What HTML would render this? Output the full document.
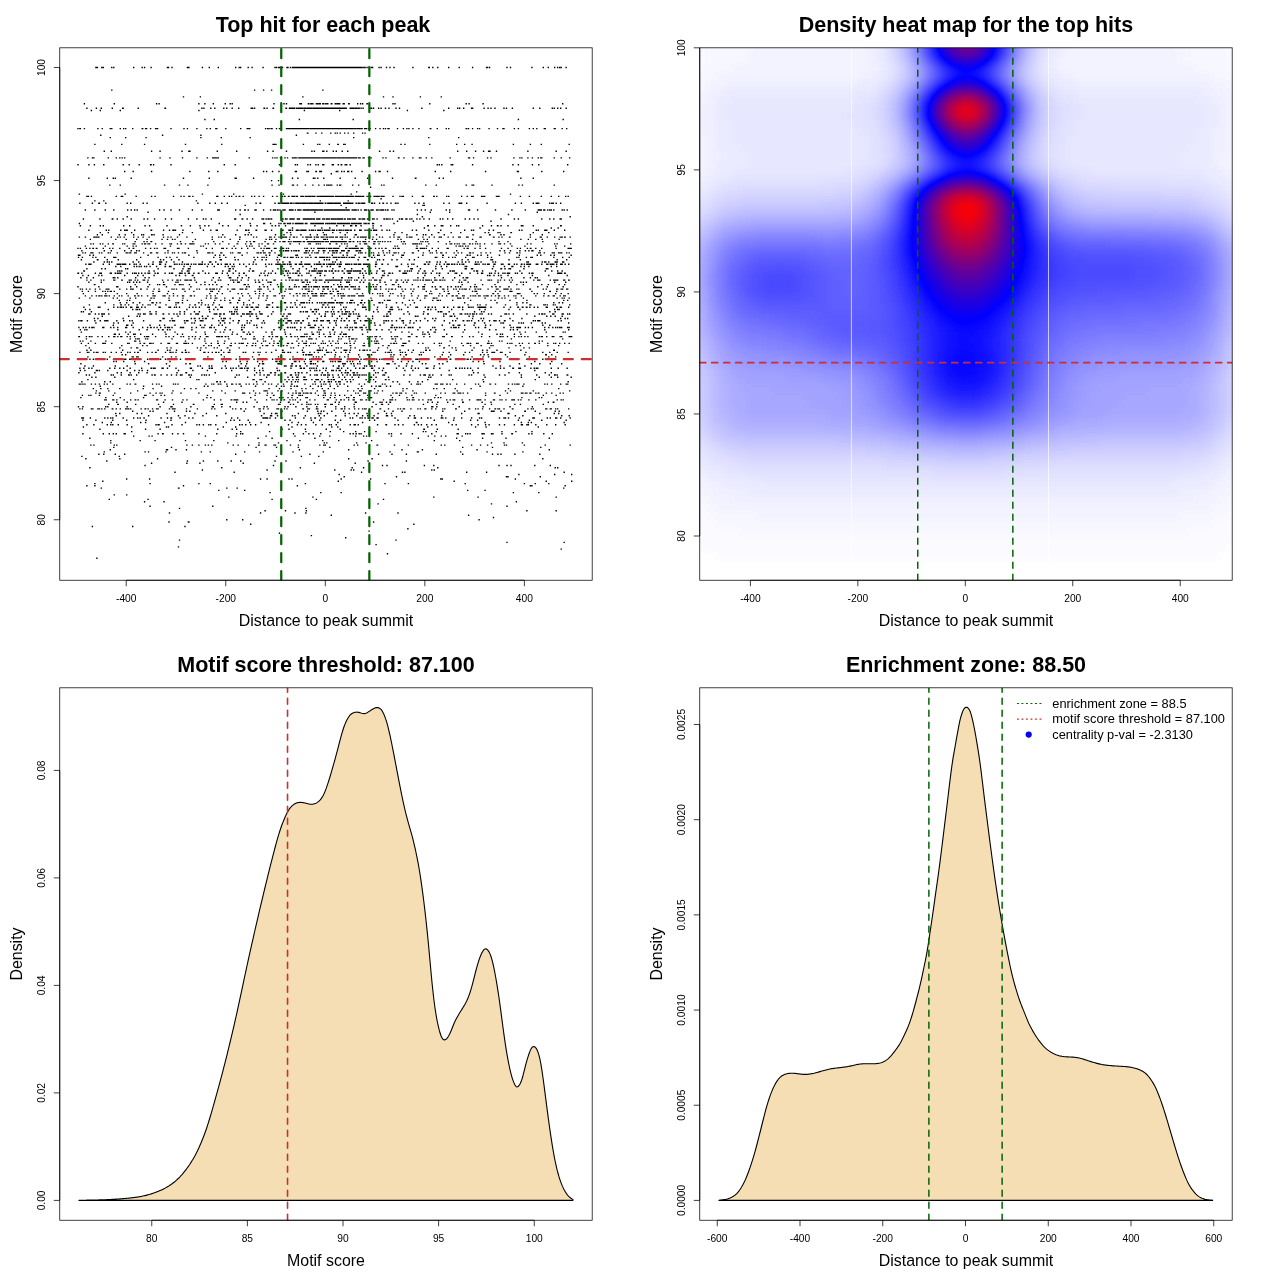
<!DOCTYPE html>
<html><head><meta charset="utf-8"><title>Motif enrichment</title>
<style>
html,body{margin:0;padding:0;background:#fff}
svg{display:block}
text{font-family:"Liberation Sans",sans-serif;fill:#000;opacity:.999}
.t{font-size:11px}
.l{font-size:15.94px}
.m{font-size:21.5px;font-weight:bold}
.g{font-size:12.3px}
</style></head><body>
<svg width="1280" height="1280" viewBox="0 0 1280 1280">
<rect width="1280" height="1280" fill="#fff"/>

<path d="M95.2 67.5h1.38M96.2 67.5h1.38M96.7 67.5h1.38M101.1 67.5h1.38M102.6 67.5h1.38M111.1 67.5h1.38M113.1 67.5h1.38M133 67.5h1.38M141.5 67.5h1.38M143.9 67.5h1.38M150.4 67.5h1.38M166.8 67.5h1.38M167.8 67.5h1.38M171.3 67.5h1.38M186.7 67.5h1.38M187.7 67.5h1.38M188.2 67.5h1.38M201.7 67.5h1.38M208.6 67.5h1.38M217.6 67.5h1.38M235 67.5h1.38M238.5 67.5h1.38M240 67.5h1.38M247.5 67.5h1.38M251.4 67.5h1.38M262.4 67.5h1.38M274.3 67.5h1.38M275.8 67.5h1.38M277.8 67.5h1.38M278.8 67.5h1.38M279.8 67.5h1.38M280.8 67.5h1.38M281.8 67.5h1.38M286.3 67.5h1.38M286.8 67.5h1.38M287.3 67.5h1.38M289.8 67.5h1.38M291.8 67.5h1.38M292.8 67.5h1.38M293.3 67.5h1.38M294.3 67.5h1.38M295.2 67.5h1.38M295.7 67.5h1.38M296.2 67.5h1.38M296.7 67.5h1.38M297.7 67.5h1.38M298.2 67.5h1.38M298.7 67.5h1.38M299.2 67.5h1.38M299.7 67.5h1.38M300.2 67.5h1.38M301.2 67.5h1.38M301.7 67.5h1.38M302.2 67.5h1.38M302.7 67.5h1.38M303.2 67.5h1.38M303.7 67.5h1.38M304.2 67.5h1.38M304.7 67.5h1.38M305.2 67.5h1.38M305.7 67.5h1.38M306.2 67.5h1.38M307.2 67.5h1.38M307.7 67.5h1.38M308.2 67.5h1.38M308.7 67.5h1.38M309.2 67.5h1.38M310.2 67.5h1.38M310.7 67.5h1.38M311.2 67.5h1.38M311.7 67.5h1.38M312.2 67.5h1.38M312.7 67.5h1.38M313.2 67.5h1.38M314.2 67.5h1.38M314.7 67.5h1.38M315.2 67.5h1.38M315.7 67.5h1.38M316.1 67.5h1.38M316.6 67.5h1.38M317.1 67.5h1.38M317.6 67.5h1.38M318.1 67.5h1.38M318.6 67.5h1.38M319.1 67.5h1.38M319.6 67.5h1.38M320.1 67.5h1.38M320.6 67.5h1.38M321.1 67.5h1.38M321.6 67.5h1.38M322.1 67.5h1.38M322.6 67.5h1.38M323.1 67.5h1.38M323.6 67.5h1.38M324.1 67.5h1.38M324.6 67.5h1.38M325.1 67.5h1.38M325.6 67.5h1.38M326.1 67.5h1.38M326.6 67.5h1.38M327.1 67.5h1.38M327.6 67.5h1.38M328.1 67.5h1.38M328.6 67.5h1.38M329.1 67.5h1.38M329.6 67.5h1.38M330.1 67.5h1.38M330.6 67.5h1.38M331.1 67.5h1.38M331.6 67.5h1.38M332.1 67.5h1.38M332.6 67.5h1.38M333.1 67.5h1.38M333.6 67.5h1.38M334.1 67.5h1.38M334.6 67.5h1.38M335.1 67.5h1.38M335.6 67.5h1.38M336.1 67.5h1.38M336.6 67.5h1.38M337.1 67.5h1.38M338.5 67.5h1.38M339 67.5h1.38M339.5 67.5h1.38M340 67.5h1.38M340.5 67.5h1.38M341 67.5h1.38M341.5 67.5h1.38M342 67.5h1.38M342.5 67.5h1.38M343.5 67.5h1.38M344 67.5h1.38M344.5 67.5h1.38M345 67.5h1.38M345.5 67.5h1.38M346 67.5h1.38M346.5 67.5h1.38M347 67.5h1.38M347.5 67.5h1.38M348 67.5h1.38M348.5 67.5h1.38M349.5 67.5h1.38M350 67.5h1.38M350.5 67.5h1.38M351 67.5h1.38M352 67.5h1.38M352.5 67.5h1.38M353 67.5h1.38M353.5 67.5h1.38M354 67.5h1.38M354.5 67.5h1.38M355 67.5h1.38M355.5 67.5h1.38M356 67.5h1.38M356.5 67.5h1.38M357 67.5h1.38M357.5 67.5h1.38M358 67.5h1.38M358.5 67.5h1.38M359.9 67.5h1.38M360.9 67.5h1.38M362.4 67.5h1.38M363.9 67.5h1.38M364.4 67.5h1.38M366.4 67.5h1.38M368.4 67.5h1.38M368.9 67.5h1.38M370.9 67.5h1.38M371.4 67.5h1.38M371.9 67.5h1.38M378.4 67.5h1.38M380.4 67.5h1.38M385.8 67.5h1.38M389.3 67.5h1.38M393.3 67.5h1.38M412.2 67.5h1.38M428.1 67.5h1.38M428.6 67.5h1.38M432.1 67.5h1.38M437.1 67.5h1.38M448 67.5h1.38M458.5 67.5h1.38M471.9 67.5h1.38M485.9 67.5h1.38M486.9 67.5h1.38M488.9 67.5h1.38M506.3 67.5h1.38M509.8 67.5h1.38M531.2 67.5h1.38M542.6 67.5h1.38M547.6 67.5h1.38M554 67.5h1.38M557 67.5h1.38M559 67.5h1.38M560.5 67.5h1.38M565.5 67.5h1.38M111.1 90.1h1.38M253.9 90.1h1.38M262.9 90.1h1.38M270.9 90.1h1.38M322.1 90.1h1.38M182.8 96.9h1.38M199.7 96.9h1.38M302.2 96.9h1.38M382.8 96.9h1.38M392.3 96.9h1.38M419.7 96.9h1.38M440.6 96.9h1.38M83.7 103.7h1.38M113.6 103.7h1.38M155.9 103.7h1.38M158.4 103.7h1.38M198.2 103.7h1.38M204.2 103.7h1.38M212.6 103.7h1.38M224.6 103.7h1.38M229.5 103.7h1.38M231.5 103.7h1.38M273.3 103.7h1.38M283.3 103.7h1.38M285.8 103.7h1.38M299.2 103.7h1.38M300.2 103.7h1.38M300.7 103.7h1.38M307.7 103.7h1.38M308.2 103.7h1.38M310.2 103.7h1.38M310.7 103.7h1.38M312.2 103.7h1.38M315.7 103.7h1.38M316.6 103.7h1.38M318.1 103.7h1.38M319.1 103.7h1.38M319.6 103.7h1.38M322.1 103.7h1.38M323.1 103.7h1.38M325.1 103.7h1.38M326.6 103.7h1.38M327.1 103.7h1.38M330.6 103.7h1.38M331.1 103.7h1.38M334.6 103.7h1.38M335.1 103.7h1.38M336.6 103.7h1.38M338 103.7h1.38M338.5 103.7h1.38M339 103.7h1.38M342.5 103.7h1.38M343.5 103.7h1.38M348 103.7h1.38M348.5 103.7h1.38M357 103.7h1.38M359.9 103.7h1.38M361.9 103.7h1.38M366.4 103.7h1.38M366.9 103.7h1.38M392.3 103.7h1.38M394.3 103.7h1.38M429.1 103.7h1.38M465.5 103.7h1.38M468.4 103.7h1.38M482.4 103.7h1.38M562 103.7h1.38M86.2 108.2h1.38M95.7 108.2h1.38M100.6 108.2h1.38M111.6 108.2h1.38M122 108.2h1.38M122.5 108.2h1.38M137.5 108.2h1.38M164.4 108.2h1.38M164.8 108.2h1.38M201.2 108.2h1.38M203.2 108.2h1.38M210.1 108.2h1.38M214.1 108.2h1.38M223.1 108.2h1.38M226.1 108.2h1.38M231.5 108.2h1.38M238 108.2h1.38M250.5 108.2h1.38M251.9 108.2h1.38M253.9 108.2h1.38M263.4 108.2h1.38M263.9 108.2h1.38M266.4 108.2h1.38M272.4 108.2h1.38M272.8 108.2h1.38M285.3 108.2h1.38M285.8 108.2h1.38M288.8 108.2h1.38M289.3 108.2h1.38M290.3 108.2h1.38M290.8 108.2h1.38M291.8 108.2h1.38M292.8 108.2h1.38M293.8 108.2h1.38M295.7 108.2h1.38M297.2 108.2h1.38M298.2 108.2h1.38M299.2 108.2h1.38M299.7 108.2h1.38M300.7 108.2h1.38M301.7 108.2h1.38M303.2 108.2h1.38M303.7 108.2h1.38M304.7 108.2h1.38M306.2 108.2h1.38M307.2 108.2h1.38M308.2 108.2h1.38M309.2 108.2h1.38M309.7 108.2h1.38M310.7 108.2h1.38M312.2 108.2h1.38M312.7 108.2h1.38M313.2 108.2h1.38M314.2 108.2h1.38M314.7 108.2h1.38M315.2 108.2h1.38M315.7 108.2h1.38M316.6 108.2h1.38M317.1 108.2h1.38M317.6 108.2h1.38M318.6 108.2h1.38M319.1 108.2h1.38M319.6 108.2h1.38M320.1 108.2h1.38M320.6 108.2h1.38M321.1 108.2h1.38M321.6 108.2h1.38M322.1 108.2h1.38M322.6 108.2h1.38M323.1 108.2h1.38M323.6 108.2h1.38M324.1 108.2h1.38M324.6 108.2h1.38M325.1 108.2h1.38M325.6 108.2h1.38M326.1 108.2h1.38M326.6 108.2h1.38M327.1 108.2h1.38M328.1 108.2h1.38M328.6 108.2h1.38M329.1 108.2h1.38M329.6 108.2h1.38M330.1 108.2h1.38M330.6 108.2h1.38M331.1 108.2h1.38M331.6 108.2h1.38M332.1 108.2h1.38M332.6 108.2h1.38M333.1 108.2h1.38M333.6 108.2h1.38M334.1 108.2h1.38M334.6 108.2h1.38M335.1 108.2h1.38M335.6 108.2h1.38M336.1 108.2h1.38M336.6 108.2h1.38M337.1 108.2h1.38M338 108.2h1.38M338.5 108.2h1.38M339 108.2h1.38M339.5 108.2h1.38M340 108.2h1.38M341 108.2h1.38M341.5 108.2h1.38M342 108.2h1.38M342.5 108.2h1.38M343 108.2h1.38M343.5 108.2h1.38M344 108.2h1.38M345 108.2h1.38M345.5 108.2h1.38M349.5 108.2h1.38M350 108.2h1.38M351 108.2h1.38M351.5 108.2h1.38M352 108.2h1.38M352.5 108.2h1.38M353 108.2h1.38M354.5 108.2h1.38M355.5 108.2h1.38M356 108.2h1.38M357.5 108.2h1.38M358 108.2h1.38M358.5 108.2h1.38M360.4 108.2h1.38M362.4 108.2h1.38M369.4 108.2h1.38M370.9 108.2h1.38M372.9 108.2h1.38M377.9 108.2h1.38M380.4 108.2h1.38M384.8 108.2h1.38M388.3 108.2h1.38M395.3 108.2h1.38M398.8 108.2h1.38M421.2 108.2h1.38M448 108.2h1.38M457 108.2h1.38M459 108.2h1.38M463 108.2h1.38M470.9 108.2h1.38M471.9 108.2h1.38M483.4 108.2h1.38M487.4 108.2h1.38M490.3 108.2h1.38M494.3 108.2h1.38M503.3 108.2h1.38M505.8 108.2h1.38M511.7 108.2h1.38M532.6 108.2h1.38M539.1 108.2h1.38M551.6 108.2h1.38M553.6 108.2h1.38M557 108.2h1.38M560 108.2h1.38M565.5 108.2h1.38M90.7 110.5h1.38M99.6 110.5h1.38M119.6 110.5h1.38M198.2 110.5h1.38M303.7 110.5h1.38M339 110.5h1.38M406.7 110.5h1.38M443.1 110.5h1.38M204.2 119.5h1.38M213.6 119.5h1.38M298.7 119.5h1.38M352.5 119.5h1.38M517.7 119.5h1.38M562.5 119.5h1.38M77.3 128.6h1.38M79.2 128.6h1.38M79.7 128.6h1.38M83.7 128.6h1.38M97.2 128.6h1.38M101.6 128.6h1.38M109.6 128.6h1.38M111.1 128.6h1.38M119.6 128.6h1.38M123 128.6h1.38M125 128.6h1.38M132 128.6h1.38M141.5 128.6h1.38M142 128.6h1.38M144.9 128.6h1.38M145.9 128.6h1.38M149.9 128.6h1.38M154.9 128.6h1.38M155.4 128.6h1.38M156.9 128.6h1.38M170.3 128.6h1.38M183.3 128.6h1.38M186.7 128.6h1.38M196.2 128.6h1.38M206.2 128.6h1.38M209.6 128.6h1.38M215.1 128.6h1.38M216.1 128.6h1.38M225.1 128.6h1.38M240 128.6h1.38M246.5 128.6h1.38M247.5 128.6h1.38M249 128.6h1.38M264.9 128.6h1.38M266.9 128.6h1.38M268.4 128.6h1.38M270.4 128.6h1.38M271.4 128.6h1.38M275.8 128.6h1.38M278.8 128.6h1.38M279.3 128.6h1.38M280.3 128.6h1.38M285.8 128.6h1.38M286.3 128.6h1.38M286.8 128.6h1.38M287.3 128.6h1.38M288.3 128.6h1.38M288.8 128.6h1.38M289.8 128.6h1.38M290.8 128.6h1.38M291.3 128.6h1.38M292.3 128.6h1.38M292.8 128.6h1.38M293.3 128.6h1.38M293.8 128.6h1.38M294.3 128.6h1.38M294.7 128.6h1.38M295.7 128.6h1.38M296.2 128.6h1.38M296.7 128.6h1.38M297.2 128.6h1.38M297.7 128.6h1.38M298.7 128.6h1.38M299.2 128.6h1.38M299.7 128.6h1.38M300.2 128.6h1.38M300.7 128.6h1.38M301.2 128.6h1.38M301.7 128.6h1.38M302.2 128.6h1.38M302.7 128.6h1.38M303.2 128.6h1.38M303.7 128.6h1.38M304.2 128.6h1.38M305.2 128.6h1.38M305.7 128.6h1.38M306.2 128.6h1.38M306.7 128.6h1.38M307.2 128.6h1.38M307.7 128.6h1.38M308.2 128.6h1.38M309.7 128.6h1.38M310.2 128.6h1.38M310.7 128.6h1.38M311.2 128.6h1.38M311.7 128.6h1.38M312.2 128.6h1.38M312.7 128.6h1.38M313.7 128.6h1.38M314.2 128.6h1.38M314.7 128.6h1.38M315.2 128.6h1.38M315.7 128.6h1.38M316.1 128.6h1.38M316.6 128.6h1.38M317.1 128.6h1.38M317.6 128.6h1.38M318.1 128.6h1.38M319.1 128.6h1.38M319.6 128.6h1.38M320.1 128.6h1.38M320.6 128.6h1.38M321.1 128.6h1.38M321.6 128.6h1.38M322.1 128.6h1.38M322.6 128.6h1.38M323.1 128.6h1.38M323.6 128.6h1.38M324.1 128.6h1.38M324.6 128.6h1.38M325.1 128.6h1.38M325.6 128.6h1.38M326.1 128.6h1.38M326.6 128.6h1.38M327.1 128.6h1.38M327.6 128.6h1.38M328.1 128.6h1.38M328.6 128.6h1.38M329.1 128.6h1.38M329.6 128.6h1.38M330.1 128.6h1.38M330.6 128.6h1.38M331.1 128.6h1.38M331.6 128.6h1.38M332.1 128.6h1.38M332.6 128.6h1.38M333.1 128.6h1.38M333.6 128.6h1.38M334.1 128.6h1.38M334.6 128.6h1.38M335.1 128.6h1.38M335.6 128.6h1.38M336.1 128.6h1.38M336.6 128.6h1.38M337.1 128.6h1.38M337.6 128.6h1.38M338 128.6h1.38M338.5 128.6h1.38M339 128.6h1.38M339.5 128.6h1.38M340 128.6h1.38M340.5 128.6h1.38M341 128.6h1.38M341.5 128.6h1.38M342.5 128.6h1.38M343 128.6h1.38M343.5 128.6h1.38M344 128.6h1.38M344.5 128.6h1.38M345 128.6h1.38M345.5 128.6h1.38M346 128.6h1.38M346.5 128.6h1.38M347 128.6h1.38M347.5 128.6h1.38M348 128.6h1.38M349 128.6h1.38M349.5 128.6h1.38M350.5 128.6h1.38M351 128.6h1.38M351.5 128.6h1.38M352 128.6h1.38M353.5 128.6h1.38M354 128.6h1.38M354.5 128.6h1.38M355 128.6h1.38M355.5 128.6h1.38M357 128.6h1.38M357.5 128.6h1.38M358 128.6h1.38M358.5 128.6h1.38M359.4 128.6h1.38M360.9 128.6h1.38M361.4 128.6h1.38M363.9 128.6h1.38M364.9 128.6h1.38M365.9 128.6h1.38M367.9 128.6h1.38M368.4 128.6h1.38M369.4 128.6h1.38M374.9 128.6h1.38M379.4 128.6h1.38M382.8 128.6h1.38M384.8 128.6h1.38M387.3 128.6h1.38M388.3 128.6h1.38M396.8 128.6h1.38M402.7 128.6h1.38M406.2 128.6h1.38M408.2 128.6h1.38M412.2 128.6h1.38M418.2 128.6h1.38M429.6 128.6h1.38M430.1 128.6h1.38M436.6 128.6h1.38M445.6 128.6h1.38M448 128.6h1.38M465.5 128.6h1.38M466 128.6h1.38M467.9 128.6h1.38M471.9 128.6h1.38M476.9 128.6h1.38M478.9 128.6h1.38M488.4 128.6h1.38M496.8 128.6h1.38M502.3 128.6h1.38M503.3 128.6h1.38M513.7 128.6h1.38M517.7 128.6h1.38M528.7 128.6h1.38M532.6 128.6h1.38M536.1 128.6h1.38M543.6 128.6h1.38M544.6 128.6h1.38M553.6 128.6h1.38M554.5 128.6h1.38M561.5 128.6h1.38M566 128.6h1.38M306.7 133.1h1.38M307.2 133.1h1.38M315.2 133.1h1.38M321.1 133.1h1.38M330.1 133.1h1.38M334.6 133.1h1.38M336.6 133.1h1.38M339.5 133.1h1.38M344 133.1h1.38M347.5 133.1h1.38M353 133.1h1.38M361.9 133.1h1.38M364.4 133.1h1.38M100.1 135.3h1.38M161.9 135.3h1.38M200.2 135.3h1.38M295.7 135.3h1.38M109.6 137.6h1.38M125 137.6h1.38M145.4 137.6h1.38M200.2 137.6h1.38M220.6 137.6h1.38M249.5 137.6h1.38M353 137.6h1.38M428.1 137.6h1.38M458 137.6h1.38M94.2 144.4h1.38M121.1 144.4h1.38M143.9 144.4h1.38M184.8 144.4h1.38M221.1 144.4h1.38M272.4 144.4h1.38M273.8 144.4h1.38M275.3 144.4h1.38M302.7 144.4h1.38M317.1 144.4h1.38M319.1 144.4h1.38M328.6 144.4h1.38M337.1 144.4h1.38M337.6 144.4h1.38M343 144.4h1.38M344.5 144.4h1.38M368.9 144.4h1.38M400.3 144.4h1.38M404.2 144.4h1.38M429.1 144.4h1.38M456 144.4h1.38M464 144.4h1.38M471.4 144.4h1.38M512.7 144.4h1.38M529.7 144.4h1.38M540.6 144.4h1.38M568.5 144.4h1.38M103.6 151.2h1.38M110.6 151.2h1.38M150.9 151.2h1.38M159.4 151.2h1.38M181.3 151.2h1.38M188.2 151.2h1.38M189.2 151.2h1.38M216.6 151.2h1.38M236 151.2h1.38M266.9 151.2h1.38M272.4 151.2h1.38M285.8 151.2h1.38M311.2 151.2h1.38M313.7 151.2h1.38M322.1 151.2h1.38M323.1 151.2h1.38M326.1 151.2h1.38M332.6 151.2h1.38M335.6 151.2h1.38M341.5 151.2h1.38M347 151.2h1.38M378.9 151.2h1.38M389.3 151.2h1.38M392.8 151.2h1.38M457 151.2h1.38M466 151.2h1.38M474.9 151.2h1.38M482.9 151.2h1.38M487.9 151.2h1.38M489.3 151.2h1.38M495.8 151.2h1.38M527.2 151.2h1.38M555.5 151.2h1.38M565.5 151.2h1.38M87.2 157.9h1.38M91.7 157.9h1.38M93.2 157.9h1.38M107.6 157.9h1.38M115.6 157.9h1.38M119.1 157.9h1.38M121.5 157.9h1.38M124 157.9h1.38M159.4 157.9h1.38M169.3 157.9h1.38M181.8 157.9h1.38M196.2 157.9h1.38M206.7 157.9h1.38M212.1 157.9h1.38M213.1 157.9h1.38M214.6 157.9h1.38M216.1 157.9h1.38M217.6 157.9h1.38M248.5 157.9h1.38M271.9 157.9h1.38M274.3 157.9h1.38M276.3 157.9h1.38M279.8 157.9h1.38M280.8 157.9h1.38M284.3 157.9h1.38M286.8 157.9h1.38M291.8 157.9h1.38M293.3 157.9h1.38M293.8 157.9h1.38M294.7 157.9h1.38M296.2 157.9h1.38M298.2 157.9h1.38M298.7 157.9h1.38M299.7 157.9h1.38M300.2 157.9h1.38M300.7 157.9h1.38M301.2 157.9h1.38M302.2 157.9h1.38M302.7 157.9h1.38M303.2 157.9h1.38M303.7 157.9h1.38M304.2 157.9h1.38M304.7 157.9h1.38M305.2 157.9h1.38M305.7 157.9h1.38M306.2 157.9h1.38M306.7 157.9h1.38M307.2 157.9h1.38M307.7 157.9h1.38M308.7 157.9h1.38M309.7 157.9h1.38M310.2 157.9h1.38M310.7 157.9h1.38M311.7 157.9h1.38M312.7 157.9h1.38M313.2 157.9h1.38M313.7 157.9h1.38M314.2 157.9h1.38M314.7 157.9h1.38M315.2 157.9h1.38M316.1 157.9h1.38M316.6 157.9h1.38M317.1 157.9h1.38M318.1 157.9h1.38M318.6 157.9h1.38M319.1 157.9h1.38M319.6 157.9h1.38M321.1 157.9h1.38M321.6 157.9h1.38M322.6 157.9h1.38M323.6 157.9h1.38M324.1 157.9h1.38M324.6 157.9h1.38M325.6 157.9h1.38M326.1 157.9h1.38M326.6 157.9h1.38M327.1 157.9h1.38M328.1 157.9h1.38M328.6 157.9h1.38M329.1 157.9h1.38M329.6 157.9h1.38M330.1 157.9h1.38M331.1 157.9h1.38M331.6 157.9h1.38M332.6 157.9h1.38M333.1 157.9h1.38M333.6 157.9h1.38M334.1 157.9h1.38M334.6 157.9h1.38M335.1 157.9h1.38M336.6 157.9h1.38M337.6 157.9h1.38M338.5 157.9h1.38M339 157.9h1.38M340 157.9h1.38M340.5 157.9h1.38M342 157.9h1.38M342.5 157.9h1.38M343 157.9h1.38M344 157.9h1.38M344.5 157.9h1.38M346 157.9h1.38M346.5 157.9h1.38M347 157.9h1.38M348 157.9h1.38M349 157.9h1.38M350 157.9h1.38M350.5 157.9h1.38M351 157.9h1.38M351.5 157.9h1.38M352 157.9h1.38M352.5 157.9h1.38M353 157.9h1.38M353.5 157.9h1.38M354 157.9h1.38M355 157.9h1.38M355.5 157.9h1.38M356 157.9h1.38M358 157.9h1.38M359.4 157.9h1.38M362.4 157.9h1.38M362.9 157.9h1.38M363.4 157.9h1.38M367.9 157.9h1.38M368.9 157.9h1.38M370.4 157.9h1.38M382.3 157.9h1.38M385.3 157.9h1.38M397.8 157.9h1.38M398.3 157.9h1.38M403.2 157.9h1.38M412.2 157.9h1.38M418.7 157.9h1.38M420.2 157.9h1.38M425.6 157.9h1.38M431.1 157.9h1.38M449.5 157.9h1.38M467.9 157.9h1.38M468.9 157.9h1.38M472.9 157.9h1.38M486.9 157.9h1.38M490.3 157.9h1.38M513.2 157.9h1.38M519.2 157.9h1.38M521.2 157.9h1.38M527.2 157.9h1.38M531.7 157.9h1.38M537.6 157.9h1.38M540.1 157.9h1.38M541.1 157.9h1.38M553.6 157.9h1.38M560.5 157.9h1.38M569 157.9h1.38M77.3 164.7h1.38M88.2 164.7h1.38M93.7 164.7h1.38M103.1 164.7h1.38M122.5 164.7h1.38M128.5 164.7h1.38M138.5 164.7h1.38M149.9 164.7h1.38M150.4 164.7h1.38M152.9 164.7h1.38M170.3 164.7h1.38M223.6 164.7h1.38M234.5 164.7h1.38M278.8 164.7h1.38M294.7 164.7h1.38M296.7 164.7h1.38M307.2 164.7h1.38M309.7 164.7h1.38M315.2 164.7h1.38M317.6 164.7h1.38M322.1 164.7h1.38M323.1 164.7h1.38M331.6 164.7h1.38M332.6 164.7h1.38M337.6 164.7h1.38M340.5 164.7h1.38M341 164.7h1.38M344.5 164.7h1.38M346 164.7h1.38M349.5 164.7h1.38M436.6 164.7h1.38M438.6 164.7h1.38M441.1 164.7h1.38M450.5 164.7h1.38M452 164.7h1.38M471.9 164.7h1.38M512.2 164.7h1.38M517.7 164.7h1.38M531.7 164.7h1.38M538.1 164.7h1.38M567 164.7h1.38M124 171.5h1.38M132.5 171.5h1.38M150.9 171.5h1.38M189.2 171.5h1.38M208.1 171.5h1.38M217.1 171.5h1.38M262.9 171.5h1.38M265.9 171.5h1.38M271.9 171.5h1.38M278.3 171.5h1.38M294.7 171.5h1.38M295.7 171.5h1.38M306.2 171.5h1.38M307.7 171.5h1.38M315.2 171.5h1.38M315.7 171.5h1.38M319.1 171.5h1.38M319.6 171.5h1.38M320.6 171.5h1.38M335.6 171.5h1.38M337.1 171.5h1.38M341 171.5h1.38M343.5 171.5h1.38M347 171.5h1.38M348 171.5h1.38M351 171.5h1.38M361.4 171.5h1.38M374.9 171.5h1.38M378.4 171.5h1.38M379.4 171.5h1.38M386.8 171.5h1.38M434.6 171.5h1.38M450 171.5h1.38M484.9 171.5h1.38M516.7 171.5h1.38M517.7 171.5h1.38M541.1 171.5h1.38M563 171.5h1.38M330.6 173.8h1.38M88.2 178.3h1.38M106.6 178.3h1.38M112.6 178.3h1.38M114.6 178.3h1.38M130.5 178.3h1.38M182.8 178.3h1.38M208.6 178.3h1.38M234.5 178.3h1.38M235.5 178.3h1.38M252.9 178.3h1.38M280.8 178.3h1.38M291.8 178.3h1.38M297.2 178.3h1.38M312.7 178.3h1.38M314.2 178.3h1.38M317.1 178.3h1.38M323.1 178.3h1.38M339.5 178.3h1.38M354.5 178.3h1.38M366.9 178.3h1.38M391.8 178.3h1.38M414.7 178.3h1.38M415.2 178.3h1.38M438.6 178.3h1.38M442.6 178.3h1.38M520.2 178.3h1.38M532.6 178.3h1.38M270.9 180.6h1.38M277.8 180.6h1.38M109.1 185.1h1.38M119.6 185.1h1.38M163.9 185.1h1.38M178.8 185.1h1.38M187.2 185.1h1.38M207.2 185.1h1.38M271.4 185.1h1.38M278.3 185.1h1.38M291.8 185.1h1.38M292.8 185.1h1.38M296.7 185.1h1.38M304.7 185.1h1.38M312.2 185.1h1.38M318.1 185.1h1.38M323.6 185.1h1.38M326.1 185.1h1.38M327.6 185.1h1.38M328.1 185.1h1.38M329.6 185.1h1.38M331.1 185.1h1.38M336.6 185.1h1.38M339 185.1h1.38M340 185.1h1.38M352 185.1h1.38M358 185.1h1.38M380.9 185.1h1.38M383.3 185.1h1.38M425.1 185.1h1.38M435.6 185.1h1.38M465.5 185.1h1.38M471.4 185.1h1.38M472.9 185.1h1.38M491.3 185.1h1.38M518.2 185.1h1.38M521.7 185.1h1.38M553.6 185.1h1.38M369.9 187.3h1.38M356 191.9h1.38M78.7 194.1h1.38M124.5 194.1h1.38M201.7 194.1h1.38M233 194.1h1.38M282.8 194.1h1.38M350.5 194.1h1.38M509.8 194.1h1.38M86.2 196.4h1.38M87.7 196.4h1.38M90.7 196.4h1.38M115.6 196.4h1.38M120.6 196.4h1.38M122 196.4h1.38M135.5 196.4h1.38M150.9 196.4h1.38M154.4 196.4h1.38M172.8 196.4h1.38M180.3 196.4h1.38M183.3 196.4h1.38M188.2 196.4h1.38M188.7 196.4h1.38M189.2 196.4h1.38M192.2 196.4h1.38M216.1 196.4h1.38M217.1 196.4h1.38M223.6 196.4h1.38M228.6 196.4h1.38M231 196.4h1.38M235.5 196.4h1.38M238.5 196.4h1.38M239 196.4h1.38M242.5 196.4h1.38M251 196.4h1.38M253.9 196.4h1.38M258.4 196.4h1.38M262.9 196.4h1.38M271.9 196.4h1.38M276.3 196.4h1.38M281.8 196.4h1.38M283.8 196.4h1.38M284.3 196.4h1.38M287.8 196.4h1.38M288.3 196.4h1.38M291.3 196.4h1.38M292.3 196.4h1.38M292.8 196.4h1.38M293.8 196.4h1.38M295.7 196.4h1.38M296.7 196.4h1.38M300.2 196.4h1.38M300.7 196.4h1.38M301.7 196.4h1.38M302.2 196.4h1.38M302.7 196.4h1.38M304.7 196.4h1.38M305.7 196.4h1.38M306.2 196.4h1.38M307.7 196.4h1.38M308.2 196.4h1.38M308.7 196.4h1.38M309.2 196.4h1.38M309.7 196.4h1.38M310.2 196.4h1.38M311.7 196.4h1.38M312.2 196.4h1.38M312.7 196.4h1.38M313.2 196.4h1.38M314.2 196.4h1.38M316.6 196.4h1.38M317.1 196.4h1.38M317.6 196.4h1.38M319.1 196.4h1.38M320.1 196.4h1.38M321.1 196.4h1.38M321.6 196.4h1.38M322.1 196.4h1.38M322.6 196.4h1.38M323.1 196.4h1.38M323.6 196.4h1.38M324.6 196.4h1.38M325.1 196.4h1.38M325.6 196.4h1.38M326.1 196.4h1.38M326.6 196.4h1.38M327.1 196.4h1.38M327.6 196.4h1.38M328.1 196.4h1.38M328.6 196.4h1.38M329.1 196.4h1.38M329.6 196.4h1.38M330.1 196.4h1.38M330.6 196.4h1.38M331.1 196.4h1.38M331.6 196.4h1.38M332.1 196.4h1.38M332.6 196.4h1.38M334.6 196.4h1.38M335.6 196.4h1.38M336.6 196.4h1.38M337.1 196.4h1.38M337.6 196.4h1.38M339 196.4h1.38M340.5 196.4h1.38M341.5 196.4h1.38M342.5 196.4h1.38M343.5 196.4h1.38M345 196.4h1.38M346 196.4h1.38M346.5 196.4h1.38M347.5 196.4h1.38M348.5 196.4h1.38M349 196.4h1.38M349.5 196.4h1.38M350 196.4h1.38M350.5 196.4h1.38M351 196.4h1.38M351.5 196.4h1.38M352 196.4h1.38M352.5 196.4h1.38M353 196.4h1.38M355 196.4h1.38M355.5 196.4h1.38M356.5 196.4h1.38M357.5 196.4h1.38M358 196.4h1.38M358.5 196.4h1.38M359.9 196.4h1.38M361.4 196.4h1.38M361.9 196.4h1.38M362.4 196.4h1.38M362.9 196.4h1.38M366.4 196.4h1.38M368.4 196.4h1.38M368.9 196.4h1.38M369.4 196.4h1.38M369.9 196.4h1.38M373.4 196.4h1.38M373.9 196.4h1.38M375.4 196.4h1.38M375.9 196.4h1.38M376.9 196.4h1.38M377.4 196.4h1.38M378.4 196.4h1.38M380.4 196.4h1.38M381.3 196.4h1.38M382.8 196.4h1.38M383.3 196.4h1.38M392.3 196.4h1.38M399.3 196.4h1.38M401.3 196.4h1.38M402.7 196.4h1.38M411.7 196.4h1.38M421.7 196.4h1.38M422.7 196.4h1.38M433.1 196.4h1.38M433.6 196.4h1.38M436.1 196.4h1.38M446 196.4h1.38M448 196.4h1.38M461 196.4h1.38M466.5 196.4h1.38M470.9 196.4h1.38M472.4 196.4h1.38M480.9 196.4h1.38M482.4 196.4h1.38M483.9 196.4h1.38M495.8 196.4h1.38M497.3 196.4h1.38M498.3 196.4h1.38M519.7 196.4h1.38M528.7 196.4h1.38M540.6 196.4h1.38M550.6 196.4h1.38M558 196.4h1.38M565 196.4h1.38M567.5 196.4h1.38M380.4 198.7h1.38M94.2 200.9h1.38M103.1 200.9h1.38M195.7 200.9h1.38M319.6 200.9h1.38M347.5 200.9h1.38M79.2 203.2h1.38M91.7 203.2h1.38M98.2 203.2h1.38M98.7 203.2h1.38M105.1 203.2h1.38M126.5 203.2h1.38M130 203.2h1.38M142.5 203.2h1.38M146.4 203.2h1.38M197.2 203.2h1.38M209.1 203.2h1.38M214.6 203.2h1.38M221.1 203.2h1.38M226.6 203.2h1.38M255.4 203.2h1.38M259.4 203.2h1.38M259.9 203.2h1.38M274.3 203.2h1.38M277.8 203.2h1.38M279.3 203.2h1.38M281.3 203.2h1.38M281.8 203.2h1.38M282.3 203.2h1.38M283.3 203.2h1.38M283.8 203.2h1.38M284.3 203.2h1.38M285.3 203.2h1.38M285.8 203.2h1.38M286.8 203.2h1.38M287.8 203.2h1.38M289.8 203.2h1.38M290.8 203.2h1.38M291.3 203.2h1.38M293.3 203.2h1.38M295.2 203.2h1.38M295.7 203.2h1.38M296.2 203.2h1.38M296.7 203.2h1.38M297.7 203.2h1.38M298.2 203.2h1.38M299.7 203.2h1.38M301.2 203.2h1.38M301.7 203.2h1.38M302.7 203.2h1.38M303.2 203.2h1.38M303.7 203.2h1.38M304.7 203.2h1.38M306.2 203.2h1.38M306.7 203.2h1.38M307.2 203.2h1.38M308.7 203.2h1.38M309.2 203.2h1.38M310.2 203.2h1.38M310.7 203.2h1.38M311.7 203.2h1.38M313.2 203.2h1.38M313.7 203.2h1.38M314.2 203.2h1.38M314.7 203.2h1.38M315.7 203.2h1.38M316.1 203.2h1.38M316.6 203.2h1.38M317.1 203.2h1.38M317.6 203.2h1.38M318.1 203.2h1.38M319.1 203.2h1.38M320.1 203.2h1.38M320.6 203.2h1.38M321.6 203.2h1.38M322.1 203.2h1.38M324.6 203.2h1.38M325.1 203.2h1.38M327.1 203.2h1.38M327.6 203.2h1.38M328.1 203.2h1.38M328.6 203.2h1.38M329.6 203.2h1.38M330.1 203.2h1.38M330.6 203.2h1.38M331.1 203.2h1.38M331.6 203.2h1.38M332.1 203.2h1.38M333.6 203.2h1.38M334.1 203.2h1.38M335.1 203.2h1.38M335.6 203.2h1.38M336.1 203.2h1.38M337.1 203.2h1.38M337.6 203.2h1.38M338.5 203.2h1.38M339.5 203.2h1.38M343 203.2h1.38M344 203.2h1.38M344.5 203.2h1.38M345 203.2h1.38M345.5 203.2h1.38M346 203.2h1.38M347 203.2h1.38M347.5 203.2h1.38M348 203.2h1.38M349 203.2h1.38M349.5 203.2h1.38M350 203.2h1.38M350.5 203.2h1.38M352 203.2h1.38M355.5 203.2h1.38M357.5 203.2h1.38M358 203.2h1.38M358.5 203.2h1.38M360.4 203.2h1.38M361.9 203.2h1.38M362.4 203.2h1.38M362.9 203.2h1.38M363.4 203.2h1.38M363.9 203.2h1.38M370.9 203.2h1.38M371.9 203.2h1.38M373.9 203.2h1.38M378.9 203.2h1.38M382.3 203.2h1.38M382.8 203.2h1.38M386.3 203.2h1.38M390.3 203.2h1.38M394.8 203.2h1.38M395.3 203.2h1.38M397.3 203.2h1.38M414.2 203.2h1.38M418.2 203.2h1.38M423.2 203.2h1.38M443.1 203.2h1.38M448.5 203.2h1.38M458.5 203.2h1.38M459 203.2h1.38M460.5 203.2h1.38M461 203.2h1.38M466 203.2h1.38M486.4 203.2h1.38M514.7 203.2h1.38M520.7 203.2h1.38M532.6 203.2h1.38M535.6 203.2h1.38M536.6 203.2h1.38M538.1 203.2h1.38M549.1 203.2h1.38M551.1 203.2h1.38M552.6 203.2h1.38M555.5 203.2h1.38M560 203.2h1.38M244.5 205.4h1.38M340.5 205.4h1.38M422.2 205.4h1.38M423.7 205.4h1.38M345.5 207.7h1.38M84.7 210h1.38M94.2 210h1.38M104.6 210h1.38M113.1 210h1.38M127 210h1.38M130.5 210h1.38M134 210h1.38M136.5 210h1.38M158.9 210h1.38M163.4 210h1.38M170.3 210h1.38M178.8 210h1.38M191.7 210h1.38M201.2 210h1.38M217.1 210h1.38M217.6 210h1.38M218.1 210h1.38M218.6 210h1.38M235 210h1.38M239.5 210h1.38M244 210h1.38M244.5 210h1.38M247.5 210h1.38M254.4 210h1.38M255.4 210h1.38M262.9 210h1.38M269.9 210h1.38M272.8 210h1.38M274.3 210h1.38M274.8 210h1.38M276.8 210h1.38M277.3 210h1.38M279.3 210h1.38M282.3 210h1.38M283.8 210h1.38M284.3 210h1.38M288.8 210h1.38M289.3 210h1.38M289.8 210h1.38M290.8 210h1.38M291.3 210h1.38M291.8 210h1.38M292.3 210h1.38M294.7 210h1.38M297.2 210h1.38M297.7 210h1.38M298.2 210h1.38M298.7 210h1.38M300.2 210h1.38M302.7 210h1.38M303.7 210h1.38M304.7 210h1.38M305.2 210h1.38M305.7 210h1.38M306.2 210h1.38M307.2 210h1.38M308.2 210h1.38M308.7 210h1.38M309.2 210h1.38M310.7 210h1.38M311.2 210h1.38M311.7 210h1.38M312.2 210h1.38M313.2 210h1.38M313.7 210h1.38M314.2 210h1.38M314.7 210h1.38M315.2 210h1.38M315.7 210h1.38M316.6 210h1.38M318.1 210h1.38M319.1 210h1.38M319.6 210h1.38M320.1 210h1.38M320.6 210h1.38M321.1 210h1.38M321.6 210h1.38M323.6 210h1.38M324.6 210h1.38M325.1 210h1.38M325.6 210h1.38M326.1 210h1.38M327.1 210h1.38M327.6 210h1.38M328.1 210h1.38M328.6 210h1.38M329.1 210h1.38M329.6 210h1.38M330.1 210h1.38M331.1 210h1.38M331.6 210h1.38M332.1 210h1.38M333.1 210h1.38M333.6 210h1.38M334.1 210h1.38M334.6 210h1.38M335.6 210h1.38M336.1 210h1.38M336.6 210h1.38M337.1 210h1.38M337.6 210h1.38M338.5 210h1.38M339 210h1.38M339.5 210h1.38M340.5 210h1.38M341.5 210h1.38M342 210h1.38M342.5 210h1.38M343 210h1.38M343.5 210h1.38M344.5 210h1.38M346 210h1.38M347 210h1.38M347.5 210h1.38M348 210h1.38M348.5 210h1.38M351.5 210h1.38M352.5 210h1.38M354 210h1.38M354.5 210h1.38M355 210h1.38M355.5 210h1.38M357.5 210h1.38M360.4 210h1.38M363.9 210h1.38M364.9 210h1.38M365.4 210h1.38M365.9 210h1.38M367.9 210h1.38M370.4 210h1.38M371.4 210h1.38M372.4 210h1.38M375.9 210h1.38M377.4 210h1.38M379.4 210h1.38M380.9 210h1.38M382.3 210h1.38M382.8 210h1.38M384.8 210h1.38M386.8 210h1.38M387.3 210h1.38M391.3 210h1.38M393.3 210h1.38M416.7 210h1.38M420.7 210h1.38M424.6 210h1.38M430.6 210h1.38M445.6 210h1.38M449 210h1.38M467.9 210h1.38M468.9 210h1.38M476.9 210h1.38M494.8 210h1.38M511.2 210h1.38M524.7 210h1.38M537.6 210h1.38M538.6 210h1.38M539.6 210h1.38M540.6 210h1.38M543.1 210h1.38M544.1 210h1.38M547.1 210h1.38M549.1 210h1.38M550.6 210h1.38M553.1 210h1.38M561.5 210h1.38M563.5 210h1.38M566.5 210h1.38M147.4 212.2h1.38M314.2 212.2h1.38M429.6 212.2h1.38M449 212.2h1.38M536.6 212.2h1.38M239.5 214.5h1.38M416.7 214.5h1.38M507.8 214.5h1.38M126.5 216.7h1.38M421.7 216.7h1.38M569.5 216.7h1.38M82.7 219h1.38M99.2 219h1.38M111.6 219h1.38M112.1 219h1.38M116.6 219h1.38M122.5 219h1.38M130.5 219h1.38M143.4 219h1.38M146.9 219h1.38M153.9 219h1.38M164.8 219h1.38M170.8 219h1.38M187.7 219h1.38M196.2 219h1.38M202.7 219h1.38M205.2 219h1.38M210.6 219h1.38M234 219h1.38M235 219h1.38M241.5 219h1.38M242 219h1.38M246.5 219h1.38M251.9 219h1.38M261.4 219h1.38M262.9 219h1.38M265.4 219h1.38M267.4 219h1.38M267.9 219h1.38M268.4 219h1.38M270.4 219h1.38M270.9 219h1.38M281.3 219h1.38M282.3 219h1.38M284.8 219h1.38M286.3 219h1.38M289.3 219h1.38M290.3 219h1.38M291.3 219h1.38M291.8 219h1.38M292.8 219h1.38M293.3 219h1.38M296.7 219h1.38M297.2 219h1.38M297.7 219h1.38M298.2 219h1.38M298.7 219h1.38M302.7 219h1.38M303.2 219h1.38M304.2 219h1.38M304.7 219h1.38M305.7 219h1.38M306.7 219h1.38M307.2 219h1.38M308.2 219h1.38M308.7 219h1.38M309.2 219h1.38M310.2 219h1.38M311.2 219h1.38M312.7 219h1.38M313.2 219h1.38M313.7 219h1.38M316.1 219h1.38M317.1 219h1.38M317.6 219h1.38M318.1 219h1.38M319.1 219h1.38M322.1 219h1.38M323.6 219h1.38M325.6 219h1.38M326.6 219h1.38M328.1 219h1.38M328.6 219h1.38M330.6 219h1.38M331.1 219h1.38M331.6 219h1.38M332.1 219h1.38M332.6 219h1.38M334.1 219h1.38M335.1 219h1.38M336.6 219h1.38M338 219h1.38M338.5 219h1.38M339 219h1.38M339.5 219h1.38M340 219h1.38M341 219h1.38M342 219h1.38M344 219h1.38M344.5 219h1.38M347 219h1.38M348.5 219h1.38M349.5 219h1.38M351.5 219h1.38M352 219h1.38M353.5 219h1.38M354.5 219h1.38M358.5 219h1.38M359.4 219h1.38M361.4 219h1.38M362.9 219h1.38M363.9 219h1.38M366.9 219h1.38M368.4 219h1.38M371.9 219h1.38M373.4 219h1.38M376.4 219h1.38M383.3 219h1.38M383.8 219h1.38M385.8 219h1.38M387.3 219h1.38M389.3 219h1.38M391.8 219h1.38M398.8 219h1.38M400.8 219h1.38M401.8 219h1.38M405.2 219h1.38M406.2 219h1.38M409.2 219h1.38M411.2 219h1.38M416.2 219h1.38M419.2 219h1.38M423.2 219h1.38M428.6 219h1.38M439.6 219h1.38M442.1 219h1.38M447 219h1.38M452 219h1.38M464.5 219h1.38M468.9 219h1.38M473.4 219h1.38M477.4 219h1.38M500.3 219h1.38M513.7 219h1.38M517.7 219h1.38M541.1 219h1.38M549.1 219h1.38M553.1 219h1.38M559.5 219h1.38M560.5 219h1.38M281.8 221.3h1.38M396.8 221.3h1.38M412.7 221.3h1.38M490.3 221.3h1.38M78.7 223.5h1.38M218.6 223.5h1.38M249.5 223.5h1.38M262.9 223.5h1.38M263.9 223.5h1.38M269.9 223.5h1.38M278.3 223.5h1.38M280.3 223.5h1.38M283.3 223.5h1.38M284.3 223.5h1.38M286.8 223.5h1.38M288.3 223.5h1.38M289.8 223.5h1.38M292.3 223.5h1.38M294.7 223.5h1.38M295.2 223.5h1.38M295.7 223.5h1.38M296.2 223.5h1.38M297.2 223.5h1.38M297.7 223.5h1.38M298.2 223.5h1.38M299.2 223.5h1.38M299.7 223.5h1.38M300.2 223.5h1.38M300.7 223.5h1.38M301.7 223.5h1.38M302.2 223.5h1.38M304.7 223.5h1.38M305.2 223.5h1.38M305.7 223.5h1.38M306.2 223.5h1.38M310.2 223.5h1.38M311.2 223.5h1.38M312.2 223.5h1.38M313.2 223.5h1.38M314.7 223.5h1.38M315.2 223.5h1.38M315.7 223.5h1.38M316.6 223.5h1.38M317.1 223.5h1.38M317.6 223.5h1.38M318.6 223.5h1.38M319.6 223.5h1.38M320.6 223.5h1.38M321.1 223.5h1.38M321.6 223.5h1.38M322.1 223.5h1.38M322.6 223.5h1.38M325.1 223.5h1.38M326.6 223.5h1.38M327.1 223.5h1.38M328.6 223.5h1.38M329.1 223.5h1.38M330.6 223.5h1.38M331.1 223.5h1.38M332.1 223.5h1.38M332.6 223.5h1.38M333.1 223.5h1.38M334.1 223.5h1.38M334.6 223.5h1.38M336.6 223.5h1.38M337.6 223.5h1.38M338.5 223.5h1.38M339 223.5h1.38M339.5 223.5h1.38M340 223.5h1.38M340.5 223.5h1.38M341 223.5h1.38M342 223.5h1.38M342.5 223.5h1.38M343.5 223.5h1.38M344.5 223.5h1.38M345.5 223.5h1.38M346 223.5h1.38M346.5 223.5h1.38M347.5 223.5h1.38M348 223.5h1.38M349 223.5h1.38M351 223.5h1.38M351.5 223.5h1.38M352.5 223.5h1.38M353 223.5h1.38M353.5 223.5h1.38M354 223.5h1.38M355 223.5h1.38M355.5 223.5h1.38M356 223.5h1.38M357.5 223.5h1.38M358 223.5h1.38M358.5 223.5h1.38M359.4 223.5h1.38M360.4 223.5h1.38M363.4 223.5h1.38M364.9 223.5h1.38M365.4 223.5h1.38M367.4 223.5h1.38M367.9 223.5h1.38M368.4 223.5h1.38M371.9 223.5h1.38M372.4 223.5h1.38M372.9 223.5h1.38M393.3 223.5h1.38M79.7 225.8h1.38M89.7 225.8h1.38M99.6 225.8h1.38M102.6 225.8h1.38M123 225.8h1.38M129 225.8h1.38M144.4 225.8h1.38M148.9 225.8h1.38M166.3 225.8h1.38M180.8 225.8h1.38M189.7 225.8h1.38M199.2 225.8h1.38M204.2 225.8h1.38M208.1 225.8h1.38M222.1 225.8h1.38M227.6 225.8h1.38M239.5 225.8h1.38M250 225.8h1.38M256.4 225.8h1.38M271.4 225.8h1.38M274.8 225.8h1.38M278.3 225.8h1.38M284.8 225.8h1.38M314.2 225.8h1.38M336.1 225.8h1.38M343 225.8h1.38M350 225.8h1.38M351 225.8h1.38M355 225.8h1.38M355.5 225.8h1.38M360.4 225.8h1.38M372.4 225.8h1.38M380.4 225.8h1.38M427.1 225.8h1.38M427.6 225.8h1.38M434.1 225.8h1.38M440.6 225.8h1.38M442.1 225.8h1.38M450 225.8h1.38M456 225.8h1.38M458 225.8h1.38M481.9 225.8h1.38M490.8 225.8h1.38M496.8 225.8h1.38M497.3 225.8h1.38M500.3 225.8h1.38M507.3 225.8h1.38M520.7 225.8h1.38M522.2 225.8h1.38M532.6 225.8h1.38M560 225.8h1.38M560.5 225.8h1.38M199.7 228h1.38M291.8 228h1.38M321.1 228h1.38M329.1 228h1.38M372.4 228h1.38M423.7 228h1.38M479.4 228h1.38M550.6 228h1.38M557.5 228h1.38M88.2 230.3h1.38M105.6 230.3h1.38M108.1 230.3h1.38M120.1 230.3h1.38M124 230.3h1.38M125.5 230.3h1.38M126.5 230.3h1.38M134 230.3h1.38M150.4 230.3h1.38M150.9 230.3h1.38M162.9 230.3h1.38M168.8 230.3h1.38M172.3 230.3h1.38M173.3 230.3h1.38M174.8 230.3h1.38M182.3 230.3h1.38M202.7 230.3h1.38M210.1 230.3h1.38M215.6 230.3h1.38M216.6 230.3h1.38M236.5 230.3h1.38M245 230.3h1.38M246 230.3h1.38M248 230.3h1.38M255.4 230.3h1.38M255.9 230.3h1.38M264.4 230.3h1.38M265.4 230.3h1.38M270.9 230.3h1.38M281.8 230.3h1.38M282.3 230.3h1.38M288.3 230.3h1.38M288.8 230.3h1.38M289.8 230.3h1.38M291.8 230.3h1.38M295.7 230.3h1.38M296.7 230.3h1.38M298.2 230.3h1.38M300.2 230.3h1.38M301.2 230.3h1.38M301.7 230.3h1.38M302.7 230.3h1.38M303.7 230.3h1.38M304.2 230.3h1.38M305.2 230.3h1.38M308.7 230.3h1.38M310.7 230.3h1.38M312.2 230.3h1.38M312.7 230.3h1.38M314.7 230.3h1.38M317.1 230.3h1.38M317.6 230.3h1.38M319.1 230.3h1.38M319.6 230.3h1.38M321.6 230.3h1.38M323.6 230.3h1.38M324.1 230.3h1.38M325.6 230.3h1.38M326.1 230.3h1.38M327.6 230.3h1.38M329.1 230.3h1.38M331.6 230.3h1.38M332.6 230.3h1.38M333.6 230.3h1.38M336.1 230.3h1.38M338.5 230.3h1.38M339 230.3h1.38M340.5 230.3h1.38M342.5 230.3h1.38M344.5 230.3h1.38M345 230.3h1.38M346.5 230.3h1.38M347 230.3h1.38M347.5 230.3h1.38M349.5 230.3h1.38M350.5 230.3h1.38M354 230.3h1.38M359 230.3h1.38M359.4 230.3h1.38M360.4 230.3h1.38M364.4 230.3h1.38M366.4 230.3h1.38M368.4 230.3h1.38M370.4 230.3h1.38M372.9 230.3h1.38M373.4 230.3h1.38M374.4 230.3h1.38M375.9 230.3h1.38M381.3 230.3h1.38M386.3 230.3h1.38M388.8 230.3h1.38M411.7 230.3h1.38M415.7 230.3h1.38M428.1 230.3h1.38M440.1 230.3h1.38M464 230.3h1.38M470.9 230.3h1.38M472.9 230.3h1.38M488.4 230.3h1.38M492.8 230.3h1.38M518.7 230.3h1.38M521.2 230.3h1.38M535.6 230.3h1.38M537.6 230.3h1.38M544.1 230.3h1.38M545.1 230.3h1.38M546.1 230.3h1.38M553.6 230.3h1.38M564 230.3h1.38M99.6 232.6h1.38M107.6 232.6h1.38M131 232.6h1.38M181.8 232.6h1.38M191.7 232.6h1.38M248.5 232.6h1.38M286.3 232.6h1.38M289.8 232.6h1.38M322.6 232.6h1.38M332.1 232.6h1.38M339.5 232.6h1.38M346.5 232.6h1.38M394.3 232.6h1.38M401.3 232.6h1.38M437.6 232.6h1.38M438.1 232.6h1.38M450.5 232.6h1.38M460 232.6h1.38M484.4 232.6h1.38M487.9 232.6h1.38M497.3 232.6h1.38M499.3 232.6h1.38M510.3 232.6h1.38M510.7 232.6h1.38M532.6 232.6h1.38M548.1 232.6h1.38M96.7 234.8h1.38M101.6 234.8h1.38M118.6 234.8h1.38M124.5 234.8h1.38M133 234.8h1.38M141 234.8h1.38M142.9 234.8h1.38M150.9 234.8h1.38M151.4 234.8h1.38M153.4 234.8h1.38M162.4 234.8h1.38M178.8 234.8h1.38M222.1 234.8h1.38M235 234.8h1.38M244.5 234.8h1.38M247.5 234.8h1.38M250.5 234.8h1.38M274.8 234.8h1.38M283.3 234.8h1.38M290.3 234.8h1.38M300.2 234.8h1.38M309.7 234.8h1.38M316.6 234.8h1.38M323.6 234.8h1.38M325.6 234.8h1.38M344.5 234.8h1.38M354.5 234.8h1.38M355.5 234.8h1.38M375.9 234.8h1.38M393.3 234.8h1.38M406.2 234.8h1.38M416.2 234.8h1.38M422.7 234.8h1.38M425.1 234.8h1.38M431.1 234.8h1.38M443.6 234.8h1.38M472.4 234.8h1.38M488.9 234.8h1.38M489.3 234.8h1.38M500.3 234.8h1.38M503.3 234.8h1.38M529.7 234.8h1.38M541.6 234.8h1.38M78.7 237.1h1.38M84.7 237.1h1.38M93.2 237.1h1.38M94.2 237.1h1.38M95.7 237.1h1.38M97.2 237.1h1.38M98.2 237.1h1.38M110.6 237.1h1.38M117.1 237.1h1.38M119.6 237.1h1.38M123.5 237.1h1.38M133 237.1h1.38M137.5 237.1h1.38M142.5 237.1h1.38M148.4 237.1h1.38M162.9 237.1h1.38M167.3 237.1h1.38M170.3 237.1h1.38M176.8 237.1h1.38M186.2 237.1h1.38M211.6 237.1h1.38M218.1 237.1h1.38M220.6 237.1h1.38M224.1 237.1h1.38M239 237.1h1.38M239.5 237.1h1.38M252.9 237.1h1.38M255.9 237.1h1.38M268.9 237.1h1.38M270.4 237.1h1.38M273.8 237.1h1.38M278.3 237.1h1.38M280.3 237.1h1.38M281.8 237.1h1.38M282.3 237.1h1.38M283.3 237.1h1.38M284.8 237.1h1.38M285.8 237.1h1.38M289.3 237.1h1.38M292.8 237.1h1.38M293.8 237.1h1.38M296.2 237.1h1.38M302.2 237.1h1.38M305.2 237.1h1.38M306.2 237.1h1.38M306.7 237.1h1.38M308.2 237.1h1.38M309.7 237.1h1.38M310.7 237.1h1.38M313.7 237.1h1.38M315.7 237.1h1.38M316.6 237.1h1.38M317.6 237.1h1.38M320.6 237.1h1.38M321.6 237.1h1.38M323.1 237.1h1.38M325.6 237.1h1.38M326.1 237.1h1.38M326.6 237.1h1.38M327.1 237.1h1.38M329.1 237.1h1.38M330.6 237.1h1.38M332.1 237.1h1.38M332.6 237.1h1.38M335.1 237.1h1.38M336.1 237.1h1.38M336.6 237.1h1.38M339.5 237.1h1.38M340 237.1h1.38M340.5 237.1h1.38M342 237.1h1.38M344.5 237.1h1.38M346.5 237.1h1.38M353.5 237.1h1.38M357 237.1h1.38M357.5 237.1h1.38M359.9 237.1h1.38M360.4 237.1h1.38M361.9 237.1h1.38M362.9 237.1h1.38M364.4 237.1h1.38M365.4 237.1h1.38M368.4 237.1h1.38M368.9 237.1h1.38M372.4 237.1h1.38M378.9 237.1h1.38M381.8 237.1h1.38M389.3 237.1h1.38M393.3 237.1h1.38M397.3 237.1h1.38M398.8 237.1h1.38M406.2 237.1h1.38M408.7 237.1h1.38M410.2 237.1h1.38M411.2 237.1h1.38M422.2 237.1h1.38M428.6 237.1h1.38M433.6 237.1h1.38M438.6 237.1h1.38M440.1 237.1h1.38M440.6 237.1h1.38M447.5 237.1h1.38M452.5 237.1h1.38M458 237.1h1.38M459.5 237.1h1.38M466 237.1h1.38M467.4 237.1h1.38M479.4 237.1h1.38M480.4 237.1h1.38M492.8 237.1h1.38M493.3 237.1h1.38M498.3 237.1h1.38M501.3 237.1h1.38M508.8 237.1h1.38M509.3 237.1h1.38M529.7 237.1h1.38M539.6 237.1h1.38M540.6 237.1h1.38M546.6 237.1h1.38M554 237.1h1.38M559.5 237.1h1.38M561 237.1h1.38M561.5 237.1h1.38M564 237.1h1.38M564.5 237.1h1.38M569.5 237.1h1.38M89.7 239.4h1.38M115.1 239.4h1.38M125.5 239.4h1.38M136 239.4h1.38M146.4 239.4h1.38M161.4 239.4h1.38M166.8 239.4h1.38M171.8 239.4h1.38M174.3 239.4h1.38M194.7 239.4h1.38M211.6 239.4h1.38M229.5 239.4h1.38M239 239.4h1.38M265.4 239.4h1.38M268.9 239.4h1.38M270.9 239.4h1.38M275.3 239.4h1.38M288.8 239.4h1.38M306.2 239.4h1.38M313.7 239.4h1.38M323.1 239.4h1.38M324.6 239.4h1.38M326.6 239.4h1.38M341.5 239.4h1.38M349.5 239.4h1.38M364.9 239.4h1.38M371.9 239.4h1.38M375.9 239.4h1.38M397.3 239.4h1.38M400.3 239.4h1.38M417.7 239.4h1.38M423.2 239.4h1.38M426.6 239.4h1.38M471.9 239.4h1.38M520.2 239.4h1.38M527.7 239.4h1.38M535.1 239.4h1.38M541.6 239.4h1.38M558.5 239.4h1.38M134.5 241.6h1.38M143.4 241.6h1.38M146.4 241.6h1.38M150.4 241.6h1.38M150.9 241.6h1.38M179.8 241.6h1.38M192.2 241.6h1.38M213.1 241.6h1.38M222.1 241.6h1.38M237.5 241.6h1.38M246 241.6h1.38M249.5 241.6h1.38M252.9 241.6h1.38M253.9 241.6h1.38M264.4 241.6h1.38M274.3 241.6h1.38M274.8 241.6h1.38M279.3 241.6h1.38M282.3 241.6h1.38M283.3 241.6h1.38M284.3 241.6h1.38M287.8 241.6h1.38M288.3 241.6h1.38M290.3 241.6h1.38M292.8 241.6h1.38M294.3 241.6h1.38M294.7 241.6h1.38M295.2 241.6h1.38M296.7 241.6h1.38M297.2 241.6h1.38M297.7 241.6h1.38M298.2 241.6h1.38M298.7 241.6h1.38M300.2 241.6h1.38M302.7 241.6h1.38M303.7 241.6h1.38M306.7 241.6h1.38M307.7 241.6h1.38M308.2 241.6h1.38M309.2 241.6h1.38M310.7 241.6h1.38M312.2 241.6h1.38M312.7 241.6h1.38M313.2 241.6h1.38M313.7 241.6h1.38M314.2 241.6h1.38M315.2 241.6h1.38M315.7 241.6h1.38M316.6 241.6h1.38M317.1 241.6h1.38M317.6 241.6h1.38M318.1 241.6h1.38M318.6 241.6h1.38M320.1 241.6h1.38M321.6 241.6h1.38M322.6 241.6h1.38M323.1 241.6h1.38M325.1 241.6h1.38M326.1 241.6h1.38M327.6 241.6h1.38M330.1 241.6h1.38M331.1 241.6h1.38M332.1 241.6h1.38M333.1 241.6h1.38M333.6 241.6h1.38M334.6 241.6h1.38M335.1 241.6h1.38M335.6 241.6h1.38M337.1 241.6h1.38M337.6 241.6h1.38M338.5 241.6h1.38M339 241.6h1.38M339.5 241.6h1.38M340.5 241.6h1.38M341.5 241.6h1.38M342.5 241.6h1.38M343.5 241.6h1.38M344 241.6h1.38M345 241.6h1.38M345.5 241.6h1.38M348.5 241.6h1.38M349.5 241.6h1.38M350 241.6h1.38M352.5 241.6h1.38M353 241.6h1.38M357 241.6h1.38M359.4 241.6h1.38M362.4 241.6h1.38M363.4 241.6h1.38M364.9 241.6h1.38M368.4 241.6h1.38M373.4 241.6h1.38M373.9 241.6h1.38M374.4 241.6h1.38M377.4 241.6h1.38M379.4 241.6h1.38M381.8 241.6h1.38M384.3 241.6h1.38M387.3 241.6h1.38M389.8 241.6h1.38M400.8 241.6h1.38M403.2 241.6h1.38M403.7 241.6h1.38M420.2 241.6h1.38M422.2 241.6h1.38M425.1 241.6h1.38M427.1 241.6h1.38M437.6 241.6h1.38M449 241.6h1.38M475.4 241.6h1.38M498.3 241.6h1.38M507.3 241.6h1.38M542.1 241.6h1.38M90.2 243.9h1.38M92.7 243.9h1.38M99.6 243.9h1.38M102.1 243.9h1.38M107.6 243.9h1.38M112.1 243.9h1.38M112.6 243.9h1.38M122 243.9h1.38M124 243.9h1.38M132.5 243.9h1.38M134 243.9h1.38M141.5 243.9h1.38M143.9 243.9h1.38M144.9 243.9h1.38M147.4 243.9h1.38M148.9 243.9h1.38M154.9 243.9h1.38M161.4 243.9h1.38M169.3 243.9h1.38M170.8 243.9h1.38M176.8 243.9h1.38M180.3 243.9h1.38M180.8 243.9h1.38M184.8 243.9h1.38M189.2 243.9h1.38M189.7 243.9h1.38M190.7 243.9h1.38M191.7 243.9h1.38M193.2 243.9h1.38M204.7 243.9h1.38M207.7 243.9h1.38M214.6 243.9h1.38M219.1 243.9h1.38M228.1 243.9h1.38M236.5 243.9h1.38M237 243.9h1.38M245 243.9h1.38M250 243.9h1.38M250.5 243.9h1.38M258.4 243.9h1.38M261.4 243.9h1.38M266.9 243.9h1.38M267.9 243.9h1.38M272.8 243.9h1.38M289.3 243.9h1.38M289.8 243.9h1.38M298.7 243.9h1.38M308.2 243.9h1.38M309.7 243.9h1.38M315.7 243.9h1.38M317.6 243.9h1.38M319.6 243.9h1.38M329.1 243.9h1.38M329.6 243.9h1.38M335.6 243.9h1.38M336.1 243.9h1.38M341 243.9h1.38M344 243.9h1.38M346.5 243.9h1.38M359.4 243.9h1.38M363.9 243.9h1.38M364.4 243.9h1.38M365.4 243.9h1.38M365.9 243.9h1.38M372.9 243.9h1.38M373.9 243.9h1.38M378.4 243.9h1.38M402.3 243.9h1.38M404.7 243.9h1.38M412.2 243.9h1.38M413.2 243.9h1.38M414.7 243.9h1.38M415.2 243.9h1.38M416.7 243.9h1.38M418.7 243.9h1.38M420.7 243.9h1.38M428.1 243.9h1.38M445.6 243.9h1.38M449.5 243.9h1.38M451 243.9h1.38M454 243.9h1.38M456.5 243.9h1.38M458.5 243.9h1.38M462.5 243.9h1.38M464 243.9h1.38M468.9 243.9h1.38M469.4 243.9h1.38M471.9 243.9h1.38M474.9 243.9h1.38M476.9 243.9h1.38M479.4 243.9h1.38M483.9 243.9h1.38M491.3 243.9h1.38M498.3 243.9h1.38M499.8 243.9h1.38M503.8 243.9h1.38M509.8 243.9h1.38M526.7 243.9h1.38M530.2 243.9h1.38M554 243.9h1.38M556.5 243.9h1.38M570 243.9h1.38M84.7 246.1h1.38M104.6 246.1h1.38M126.5 246.1h1.38M132.5 246.1h1.38M135.5 246.1h1.38M169.8 246.1h1.38M200.2 246.1h1.38M202.7 246.1h1.38M233.5 246.1h1.38M246 246.1h1.38M249 246.1h1.38M251.4 246.1h1.38M258.4 246.1h1.38M264.4 246.1h1.38M339 246.1h1.38M346.5 246.1h1.38M355 246.1h1.38M356 246.1h1.38M367.4 246.1h1.38M394.3 246.1h1.38M396.8 246.1h1.38M416.2 246.1h1.38M426.1 246.1h1.38M455.5 246.1h1.38M458.5 246.1h1.38M460 246.1h1.38M462 246.1h1.38M465 246.1h1.38M467.4 246.1h1.38M479.4 246.1h1.38M511.2 246.1h1.38M524.2 246.1h1.38M555 246.1h1.38M564 246.1h1.38M77.3 248.4h1.38M79.7 248.4h1.38M85.7 248.4h1.38M89.2 248.4h1.38M92.2 248.4h1.38M92.7 248.4h1.38M95.7 248.4h1.38M96.2 248.4h1.38M102.6 248.4h1.38M109.1 248.4h1.38M112.1 248.4h1.38M119.1 248.4h1.38M128.5 248.4h1.38M132.5 248.4h1.38M133 248.4h1.38M144.9 248.4h1.38M149.9 248.4h1.38M153.9 248.4h1.38M156.4 248.4h1.38M163.4 248.4h1.38M164.8 248.4h1.38M176.8 248.4h1.38M178.3 248.4h1.38M187.7 248.4h1.38M205.7 248.4h1.38M211.6 248.4h1.38M221.1 248.4h1.38M222.6 248.4h1.38M226.1 248.4h1.38M231.5 248.4h1.38M235 248.4h1.38M241 248.4h1.38M247 248.4h1.38M253.4 248.4h1.38M260.4 248.4h1.38M263.4 248.4h1.38M265.9 248.4h1.38M266.9 248.4h1.38M267.4 248.4h1.38M267.9 248.4h1.38M268.9 248.4h1.38M273.8 248.4h1.38M274.8 248.4h1.38M275.3 248.4h1.38M279.8 248.4h1.38M281.8 248.4h1.38M282.8 248.4h1.38M285.8 248.4h1.38M287.8 248.4h1.38M304.2 248.4h1.38M306.2 248.4h1.38M306.7 248.4h1.38M310.7 248.4h1.38M313.2 248.4h1.38M317.1 248.4h1.38M317.6 248.4h1.38M318.6 248.4h1.38M320.1 248.4h1.38M320.6 248.4h1.38M321.1 248.4h1.38M321.6 248.4h1.38M323.1 248.4h1.38M323.6 248.4h1.38M325.6 248.4h1.38M327.6 248.4h1.38M328.6 248.4h1.38M329.6 248.4h1.38M330.1 248.4h1.38M331.1 248.4h1.38M333.1 248.4h1.38M333.6 248.4h1.38M334.1 248.4h1.38M334.6 248.4h1.38M336.1 248.4h1.38M337.1 248.4h1.38M338 248.4h1.38M345 248.4h1.38M345.5 248.4h1.38M346 248.4h1.38M348.5 248.4h1.38M349.5 248.4h1.38M350 248.4h1.38M351.5 248.4h1.38M352.5 248.4h1.38M353 248.4h1.38M353.5 248.4h1.38M354.5 248.4h1.38M355.5 248.4h1.38M356.5 248.4h1.38M357 248.4h1.38M357.5 248.4h1.38M360.4 248.4h1.38M361.4 248.4h1.38M361.9 248.4h1.38M367.4 248.4h1.38M369.4 248.4h1.38M370.4 248.4h1.38M374.9 248.4h1.38M378.4 248.4h1.38M381.3 248.4h1.38M384.8 248.4h1.38M385.3 248.4h1.38M392.8 248.4h1.38M394.8 248.4h1.38M397.3 248.4h1.38M398.3 248.4h1.38M415.7 248.4h1.38M416.7 248.4h1.38M419.7 248.4h1.38M421.2 248.4h1.38M421.7 248.4h1.38M423.2 248.4h1.38M423.7 248.4h1.38M425.6 248.4h1.38M431.6 248.4h1.38M437.6 248.4h1.38M446.5 248.4h1.38M447.5 248.4h1.38M463.5 248.4h1.38M466.5 248.4h1.38M467 248.4h1.38M467.4 248.4h1.38M474.4 248.4h1.38M479.4 248.4h1.38M484.9 248.4h1.38M500.8 248.4h1.38M507.3 248.4h1.38M516.7 248.4h1.38M519.7 248.4h1.38M526.7 248.4h1.38M529.7 248.4h1.38M530.2 248.4h1.38M535.1 248.4h1.38M541.1 248.4h1.38M555.5 248.4h1.38M567.5 248.4h1.38M568 248.4h1.38M569.5 248.4h1.38M570.5 248.4h1.38M81.2 250.7h1.38M103.6 250.7h1.38M110.6 250.7h1.38M124 250.7h1.38M130.5 250.7h1.38M136 250.7h1.38M138.5 250.7h1.38M167.3 250.7h1.38M196.2 250.7h1.38M262.4 250.7h1.38M270.9 250.7h1.38M279.3 250.7h1.38M282.8 250.7h1.38M284.8 250.7h1.38M286.3 250.7h1.38M287.8 250.7h1.38M290.8 250.7h1.38M293.3 250.7h1.38M295.2 250.7h1.38M295.7 250.7h1.38M297.7 250.7h1.38M298.2 250.7h1.38M305.2 250.7h1.38M306.2 250.7h1.38M308.7 250.7h1.38M312.2 250.7h1.38M318.1 250.7h1.38M322.6 250.7h1.38M324.1 250.7h1.38M329.1 250.7h1.38M331.6 250.7h1.38M333.1 250.7h1.38M335.1 250.7h1.38M336.1 250.7h1.38M336.6 250.7h1.38M341 250.7h1.38M342.5 250.7h1.38M343.5 250.7h1.38M347.5 250.7h1.38M348.5 250.7h1.38M355.5 250.7h1.38M356 250.7h1.38M356.5 250.7h1.38M358.5 250.7h1.38M359.9 250.7h1.38M382.3 250.7h1.38M388.8 250.7h1.38M417.7 250.7h1.38M428.6 250.7h1.38M435.6 250.7h1.38M456 250.7h1.38M499.3 250.7h1.38M503.8 250.7h1.38M509.8 250.7h1.38M519.2 250.7h1.38M524.7 250.7h1.38M528.2 250.7h1.38M531.2 250.7h1.38M532.2 250.7h1.38M539.1 250.7h1.38M82.2 252.9h1.38M84.7 252.9h1.38M90.2 252.9h1.38M91.2 252.9h1.38M92.2 252.9h1.38M98.7 252.9h1.38M101.1 252.9h1.38M107.6 252.9h1.38M109.6 252.9h1.38M116.6 252.9h1.38M125.5 252.9h1.38M126.5 252.9h1.38M128.5 252.9h1.38M130 252.9h1.38M134 252.9h1.38M135.5 252.9h1.38M142.9 252.9h1.38M149.9 252.9h1.38M150.9 252.9h1.38M155.9 252.9h1.38M156.9 252.9h1.38M164.4 252.9h1.38M167.3 252.9h1.38M171.8 252.9h1.38M173.8 252.9h1.38M177.8 252.9h1.38M181.8 252.9h1.38M183.8 252.9h1.38M184.8 252.9h1.38M196.7 252.9h1.38M207.2 252.9h1.38M208.1 252.9h1.38M209.1 252.9h1.38M211.6 252.9h1.38M212.1 252.9h1.38M220.1 252.9h1.38M221.1 252.9h1.38M230 252.9h1.38M232 252.9h1.38M237.5 252.9h1.38M238 252.9h1.38M238.5 252.9h1.38M239.5 252.9h1.38M246.5 252.9h1.38M256.4 252.9h1.38M257.9 252.9h1.38M259.9 252.9h1.38M260.4 252.9h1.38M262.9 252.9h1.38M264.4 252.9h1.38M268.4 252.9h1.38M269.4 252.9h1.38M274.3 252.9h1.38M303.7 252.9h1.38M304.7 252.9h1.38M305.7 252.9h1.38M307.7 252.9h1.38M311.2 252.9h1.38M314.2 252.9h1.38M316.1 252.9h1.38M317.1 252.9h1.38M317.6 252.9h1.38M323.1 252.9h1.38M327.6 252.9h1.38M332.1 252.9h1.38M333.6 252.9h1.38M335.6 252.9h1.38M336.1 252.9h1.38M339.5 252.9h1.38M340 252.9h1.38M346 252.9h1.38M347 252.9h1.38M358 252.9h1.38M359.9 252.9h1.38M361.4 252.9h1.38M364.9 252.9h1.38M370.9 252.9h1.38M372.9 252.9h1.38M377.9 252.9h1.38M382.8 252.9h1.38M386.3 252.9h1.38M388.8 252.9h1.38M393.3 252.9h1.38M393.8 252.9h1.38M395.3 252.9h1.38M397.8 252.9h1.38M403.7 252.9h1.38M411.7 252.9h1.38M412.7 252.9h1.38M422.7 252.9h1.38M429.6 252.9h1.38M431.6 252.9h1.38M436.1 252.9h1.38M440.1 252.9h1.38M441.1 252.9h1.38M445.6 252.9h1.38M453.5 252.9h1.38M457.5 252.9h1.38M461 252.9h1.38M468.9 252.9h1.38M469.9 252.9h1.38M472.4 252.9h1.38M480.4 252.9h1.38M485.4 252.9h1.38M489.8 252.9h1.38M504.3 252.9h1.38M508.8 252.9h1.38M516.2 252.9h1.38M516.7 252.9h1.38M519.2 252.9h1.38M538.1 252.9h1.38M539.6 252.9h1.38M543.6 252.9h1.38M551.6 252.9h1.38M552.1 252.9h1.38M553.6 252.9h1.38M558 252.9h1.38M559.5 252.9h1.38M561 252.9h1.38M566 252.9h1.38M568.5 252.9h1.38M77.8 255.2h1.38M79.2 255.2h1.38M89.2 255.2h1.38M92.7 255.2h1.38M147.4 255.2h1.38M188.2 255.2h1.38M214.6 255.2h1.38M219.1 255.2h1.38M223.1 255.2h1.38M241.5 255.2h1.38M265.4 255.2h1.38M268.9 255.2h1.38M277.8 255.2h1.38M278.8 255.2h1.38M295.2 255.2h1.38M296.7 255.2h1.38M309.2 255.2h1.38M331.6 255.2h1.38M342.5 255.2h1.38M346.5 255.2h1.38M354.5 255.2h1.38M372.9 255.2h1.38M376.9 255.2h1.38M378.4 255.2h1.38M383.8 255.2h1.38M392.3 255.2h1.38M401.3 255.2h1.38M402.7 255.2h1.38M422.2 255.2h1.38M442.1 255.2h1.38M442.6 255.2h1.38M455.5 255.2h1.38M466.5 255.2h1.38M467 255.2h1.38M469.4 255.2h1.38M476.9 255.2h1.38M480.4 255.2h1.38M486.9 255.2h1.38M498.8 255.2h1.38M518.7 255.2h1.38M536.6 255.2h1.38M540.1 255.2h1.38M550.1 255.2h1.38M553.6 255.2h1.38M570.5 255.2h1.38M77.8 257.4h1.38M81.7 257.4h1.38M92.2 257.4h1.38M95.2 257.4h1.38M104.1 257.4h1.38M113.1 257.4h1.38M113.6 257.4h1.38M115.1 257.4h1.38M140 257.4h1.38M157.4 257.4h1.38M165.8 257.4h1.38M169.3 257.4h1.38M176.3 257.4h1.38M193.2 257.4h1.38M213.1 257.4h1.38M219.1 257.4h1.38M225.1 257.4h1.38M234 257.4h1.38M253.4 257.4h1.38M256.9 257.4h1.38M261.4 257.4h1.38M263.4 257.4h1.38M265.9 257.4h1.38M276.8 257.4h1.38M283.3 257.4h1.38M283.8 257.4h1.38M284.3 257.4h1.38M286.8 257.4h1.38M289.8 257.4h1.38M290.3 257.4h1.38M290.8 257.4h1.38M292.3 257.4h1.38M295.7 257.4h1.38M297.7 257.4h1.38M301.2 257.4h1.38M305.2 257.4h1.38M307.2 257.4h1.38M310.2 257.4h1.38M314.7 257.4h1.38M315.7 257.4h1.38M319.1 257.4h1.38M319.6 257.4h1.38M320.6 257.4h1.38M321.6 257.4h1.38M322.1 257.4h1.38M323.1 257.4h1.38M323.6 257.4h1.38M325.6 257.4h1.38M326.6 257.4h1.38M327.1 257.4h1.38M329.1 257.4h1.38M332.6 257.4h1.38M334.1 257.4h1.38M335.6 257.4h1.38M336.1 257.4h1.38M338 257.4h1.38M338.5 257.4h1.38M340.5 257.4h1.38M342 257.4h1.38M342.5 257.4h1.38M344 257.4h1.38M346 257.4h1.38M348.5 257.4h1.38M349 257.4h1.38M351 257.4h1.38M351.5 257.4h1.38M352 257.4h1.38M353.5 257.4h1.38M358.5 257.4h1.38M363.4 257.4h1.38M363.9 257.4h1.38M364.9 257.4h1.38M370.9 257.4h1.38M371.4 257.4h1.38M373.9 257.4h1.38M400.8 257.4h1.38M417.7 257.4h1.38M434.6 257.4h1.38M436.1 257.4h1.38M442.1 257.4h1.38M448 257.4h1.38M452 257.4h1.38M454.5 257.4h1.38M465 257.4h1.38M471.9 257.4h1.38M473.4 257.4h1.38M486.9 257.4h1.38M490.8 257.4h1.38M516.2 257.4h1.38M518.2 257.4h1.38M525.7 257.4h1.38M530.2 257.4h1.38M531.7 257.4h1.38M553.1 257.4h1.38M562 257.4h1.38M568.5 257.4h1.38M80.7 259.7h1.38M96.7 259.7h1.38M97.2 259.7h1.38M106.6 259.7h1.38M117.6 259.7h1.38M136 259.7h1.38M159.9 259.7h1.38M162.9 259.7h1.38M170.8 259.7h1.38M178.3 259.7h1.38M219.6 259.7h1.38M220.6 259.7h1.38M234.5 259.7h1.38M237.5 259.7h1.38M254.4 259.7h1.38M261.4 259.7h1.38M265.4 259.7h1.38M276.3 259.7h1.38M278.8 259.7h1.38M323.6 259.7h1.38M326.1 259.7h1.38M328.6 259.7h1.38M336.1 259.7h1.38M357.5 259.7h1.38M366.9 259.7h1.38M367.4 259.7h1.38M376.9 259.7h1.38M378.9 259.7h1.38M382.8 259.7h1.38M391.3 259.7h1.38M396.3 259.7h1.38M408.7 259.7h1.38M413.7 259.7h1.38M461.5 259.7h1.38M467.4 259.7h1.38M490.3 259.7h1.38M491.8 259.7h1.38M508.3 259.7h1.38M519.7 259.7h1.38M556.5 259.7h1.38M566 259.7h1.38M93.2 262h1.38M103.6 262h1.38M106.6 262h1.38M108.6 262h1.38M111.1 262h1.38M132.5 262h1.38M138 262h1.38M152.4 262h1.38M158.9 262h1.38M159.9 262h1.38M160.4 262h1.38M160.9 262h1.38M165.8 262h1.38M173.3 262h1.38M181.8 262h1.38M201.7 262h1.38M209.1 262h1.38M210.1 262h1.38M215.1 262h1.38M252.9 262h1.38M277.3 262h1.38M282.3 262h1.38M288.8 262h1.38M289.3 262h1.38M300.7 262h1.38M318.6 262h1.38M332.1 262h1.38M334.6 262h1.38M340 262h1.38M375.4 262h1.38M426.1 262h1.38M428.6 262h1.38M429.1 262h1.38M436.6 262h1.38M439.6 262h1.38M445.1 262h1.38M457.5 262h1.38M461.5 262h1.38M465 262h1.38M468.4 262h1.38M474.9 262h1.38M477.4 262h1.38M480.4 262h1.38M492.3 262h1.38M494.8 262h1.38M526.2 262h1.38M527.7 262h1.38M541.6 262h1.38M544.1 262h1.38M545.1 262h1.38M548.1 262h1.38M554.5 262h1.38M555.5 262h1.38M556.5 262h1.38M562 262h1.38M563 262h1.38M85.2 264.2h1.38M88.2 264.2h1.38M88.7 264.2h1.38M89.2 264.2h1.38M90.2 264.2h1.38M102.6 264.2h1.38M108.6 264.2h1.38M116.6 264.2h1.38M117.1 264.2h1.38M117.6 264.2h1.38M119.1 264.2h1.38M119.6 264.2h1.38M121.5 264.2h1.38M122.5 264.2h1.38M123.5 264.2h1.38M124 264.2h1.38M125 264.2h1.38M129 264.2h1.38M133.5 264.2h1.38M135.5 264.2h1.38M139.5 264.2h1.38M147.9 264.2h1.38M151.9 264.2h1.38M152.4 264.2h1.38M158.9 264.2h1.38M159.4 264.2h1.38M159.9 264.2h1.38M164.8 264.2h1.38M173.8 264.2h1.38M174.3 264.2h1.38M176.3 264.2h1.38M178.8 264.2h1.38M181.3 264.2h1.38M183.8 264.2h1.38M186.2 264.2h1.38M187.7 264.2h1.38M190.7 264.2h1.38M193.2 264.2h1.38M195.2 264.2h1.38M198.2 264.2h1.38M198.7 264.2h1.38M200.2 264.2h1.38M201.2 264.2h1.38M201.7 264.2h1.38M204.2 264.2h1.38M207.7 264.2h1.38M211.6 264.2h1.38M217.1 264.2h1.38M217.6 264.2h1.38M220.6 264.2h1.38M224.6 264.2h1.38M225.1 264.2h1.38M225.6 264.2h1.38M226.6 264.2h1.38M229.5 264.2h1.38M233 264.2h1.38M239 264.2h1.38M243 264.2h1.38M248.5 264.2h1.38M252.4 264.2h1.38M255.4 264.2h1.38M264.9 264.2h1.38M268.4 264.2h1.38M270.9 264.2h1.38M275.3 264.2h1.38M276.8 264.2h1.38M277.3 264.2h1.38M278.8 264.2h1.38M279.3 264.2h1.38M279.8 264.2h1.38M282.3 264.2h1.38M283.8 264.2h1.38M284.3 264.2h1.38M286.8 264.2h1.38M288.8 264.2h1.38M289.3 264.2h1.38M290.3 264.2h1.38M294.7 264.2h1.38M295.7 264.2h1.38M298.7 264.2h1.38M299.2 264.2h1.38M299.7 264.2h1.38M300.7 264.2h1.38M301.2 264.2h1.38M304.2 264.2h1.38M305.7 264.2h1.38M307.2 264.2h1.38M307.7 264.2h1.38M308.2 264.2h1.38M309.2 264.2h1.38M313.7 264.2h1.38M315.7 264.2h1.38M316.6 264.2h1.38M318.1 264.2h1.38M318.6 264.2h1.38M319.6 264.2h1.38M320.1 264.2h1.38M322.6 264.2h1.38M323.6 264.2h1.38M326.1 264.2h1.38M328.1 264.2h1.38M329.1 264.2h1.38M330.1 264.2h1.38M331.1 264.2h1.38M332.6 264.2h1.38M333.6 264.2h1.38M336.6 264.2h1.38M338.5 264.2h1.38M339.5 264.2h1.38M340.5 264.2h1.38M345 264.2h1.38M345.5 264.2h1.38M346.5 264.2h1.38M347 264.2h1.38M348.5 264.2h1.38M349 264.2h1.38M351 264.2h1.38M353.5 264.2h1.38M354.5 264.2h1.38M356 264.2h1.38M358 264.2h1.38M359 264.2h1.38M359.9 264.2h1.38M362.9 264.2h1.38M363.9 264.2h1.38M365.4 264.2h1.38M366.4 264.2h1.38M367.9 264.2h1.38M368.9 264.2h1.38M374.9 264.2h1.38M375.4 264.2h1.38M375.9 264.2h1.38M381.3 264.2h1.38M381.8 264.2h1.38M387.3 264.2h1.38M400.8 264.2h1.38M407.2 264.2h1.38M411.2 264.2h1.38M413.2 264.2h1.38M423.7 264.2h1.38M424.6 264.2h1.38M427.6 264.2h1.38M428.1 264.2h1.38M436.1 264.2h1.38M439.1 264.2h1.38M443.6 264.2h1.38M446.5 264.2h1.38M447.5 264.2h1.38M448.5 264.2h1.38M451 264.2h1.38M451.5 264.2h1.38M453.5 264.2h1.38M454 264.2h1.38M456.5 264.2h1.38M459 264.2h1.38M461.5 264.2h1.38M463 264.2h1.38M474.4 264.2h1.38M475.4 264.2h1.38M476.4 264.2h1.38M478.4 264.2h1.38M482.4 264.2h1.38M484.4 264.2h1.38M486.9 264.2h1.38M487.4 264.2h1.38M488.4 264.2h1.38M493.3 264.2h1.38M494.3 264.2h1.38M500.8 264.2h1.38M502.3 264.2h1.38M507.8 264.2h1.38M508.8 264.2h1.38M513.7 264.2h1.38M516.2 264.2h1.38M520.7 264.2h1.38M521.2 264.2h1.38M523.7 264.2h1.38M526.2 264.2h1.38M526.7 264.2h1.38M528.2 264.2h1.38M528.7 264.2h1.38M529.7 264.2h1.38M535.6 264.2h1.38M536.6 264.2h1.38M537.1 264.2h1.38M541.1 264.2h1.38M546.1 264.2h1.38M547.1 264.2h1.38M549.6 264.2h1.38M550.1 264.2h1.38M551.6 264.2h1.38M553.1 264.2h1.38M556 264.2h1.38M560 264.2h1.38M560.5 264.2h1.38M561.5 264.2h1.38M564.5 264.2h1.38M568 264.2h1.38M115.1 266.5h1.38M120.1 266.5h1.38M133.5 266.5h1.38M136 266.5h1.38M138.5 266.5h1.38M140.5 266.5h1.38M143.9 266.5h1.38M145.9 266.5h1.38M149.4 266.5h1.38M155.9 266.5h1.38M164.4 266.5h1.38M164.8 266.5h1.38M168.8 266.5h1.38M170.3 266.5h1.38M183.3 266.5h1.38M189.7 266.5h1.38M206.7 266.5h1.38M213.6 266.5h1.38M224.6 266.5h1.38M227.6 266.5h1.38M231.5 266.5h1.38M233.5 266.5h1.38M245.5 266.5h1.38M265.4 266.5h1.38M280.3 266.5h1.38M281.3 266.5h1.38M281.8 266.5h1.38M290.3 266.5h1.38M302.2 266.5h1.38M310.7 266.5h1.38M321.1 266.5h1.38M326.6 266.5h1.38M329.6 266.5h1.38M338.5 266.5h1.38M339.5 266.5h1.38M366.9 266.5h1.38M374.9 266.5h1.38M395.3 266.5h1.38M395.8 266.5h1.38M396.8 266.5h1.38M407.7 266.5h1.38M416.7 266.5h1.38M435.1 266.5h1.38M440.6 266.5h1.38M446 266.5h1.38M464.5 266.5h1.38M466 266.5h1.38M492.8 266.5h1.38M503.8 266.5h1.38M511.2 266.5h1.38M512.2 266.5h1.38M520.2 266.5h1.38M523.7 266.5h1.38M528.2 266.5h1.38M550.6 266.5h1.38M556 266.5h1.38M86.2 268.8h1.38M101.1 268.8h1.38M104.6 268.8h1.38M125 268.8h1.38M127 268.8h1.38M157.4 268.8h1.38M173.3 268.8h1.38M182.3 268.8h1.38M187.7 268.8h1.38M189.2 268.8h1.38M228.6 268.8h1.38M229.5 268.8h1.38M232.5 268.8h1.38M249.5 268.8h1.38M277.3 268.8h1.38M280.3 268.8h1.38M283.3 268.8h1.38M292.3 268.8h1.38M298.7 268.8h1.38M305.7 268.8h1.38M313.7 268.8h1.38M315.7 268.8h1.38M332.1 268.8h1.38M344 268.8h1.38M351 268.8h1.38M361.9 268.8h1.38M378.9 268.8h1.38M410.2 268.8h1.38M410.7 268.8h1.38M411.7 268.8h1.38M419.7 268.8h1.38M435.1 268.8h1.38M441.6 268.8h1.38M464.5 268.8h1.38M465.5 268.8h1.38M470.9 268.8h1.38M471.9 268.8h1.38M491.8 268.8h1.38M500.3 268.8h1.38M500.8 268.8h1.38M504.3 268.8h1.38M508.3 268.8h1.38M509.8 268.8h1.38M523.2 268.8h1.38M545.6 268.8h1.38M547.1 268.8h1.38M83.2 271h1.38M83.7 271h1.38M117.1 271h1.38M119.1 271h1.38M121.1 271h1.38M148.4 271h1.38M153.4 271h1.38M181.3 271h1.38M186.7 271h1.38M188.2 271h1.38M202.2 271h1.38M222.1 271h1.38M228.1 271h1.38M229.1 271h1.38M235 271h1.38M248.5 271h1.38M251.9 271h1.38M252.9 271h1.38M264.4 271h1.38M271.9 271h1.38M282.3 271h1.38M284.8 271h1.38M285.8 271h1.38M287.8 271h1.38M296.7 271h1.38M298.2 271h1.38M308.7 271h1.38M311.2 271h1.38M311.7 271h1.38M312.2 271h1.38M313.2 271h1.38M313.7 271h1.38M315.2 271h1.38M317.6 271h1.38M319.1 271h1.38M319.6 271h1.38M321.1 271h1.38M321.6 271h1.38M324.1 271h1.38M325.1 271h1.38M325.6 271h1.38M328.6 271h1.38M330.6 271h1.38M331.6 271h1.38M334.6 271h1.38M335.1 271h1.38M337.6 271h1.38M338 271h1.38M341.5 271h1.38M342 271h1.38M346.5 271h1.38M347 271h1.38M348 271h1.38M348.5 271h1.38M350 271h1.38M350.5 271h1.38M351 271h1.38M353 271h1.38M354.5 271h1.38M355.5 271h1.38M357 271h1.38M358.5 271h1.38M359.9 271h1.38M364.4 271h1.38M369.9 271h1.38M376.4 271h1.38M381.8 271h1.38M383.3 271h1.38M398.8 271h1.38M399.3 271h1.38M404.2 271h1.38M406.7 271h1.38M408.7 271h1.38M410.7 271h1.38M418.2 271h1.38M423.7 271h1.38M424.2 271h1.38M432.1 271h1.38M449.5 271h1.38M450 271h1.38M452 271h1.38M453.5 271h1.38M473.4 271h1.38M475.9 271h1.38M476.9 271h1.38M481.9 271h1.38M494.8 271h1.38M519.2 271h1.38M544.6 271h1.38M551.1 271h1.38M557 271h1.38M561.5 271h1.38M77.3 273.3h1.38M77.8 273.3h1.38M81.2 273.3h1.38M94.7 273.3h1.38M99.2 273.3h1.38M100.6 273.3h1.38M109.6 273.3h1.38M110.6 273.3h1.38M114.6 273.3h1.38M116.6 273.3h1.38M118.1 273.3h1.38M119.6 273.3h1.38M120.1 273.3h1.38M126.5 273.3h1.38M132 273.3h1.38M134 273.3h1.38M135.5 273.3h1.38M138 273.3h1.38M141 273.3h1.38M144.4 273.3h1.38M147.4 273.3h1.38M148.9 273.3h1.38M154.4 273.3h1.38M156.9 273.3h1.38M157.4 273.3h1.38M164.4 273.3h1.38M168.8 273.3h1.38M170.8 273.3h1.38M171.8 273.3h1.38M178.8 273.3h1.38M179.8 273.3h1.38M181.3 273.3h1.38M184.3 273.3h1.38M187.7 273.3h1.38M188.7 273.3h1.38M193.2 273.3h1.38M197.7 273.3h1.38M198.2 273.3h1.38M204.7 273.3h1.38M208.1 273.3h1.38M215.1 273.3h1.38M216.1 273.3h1.38M216.6 273.3h1.38M221.6 273.3h1.38M226.6 273.3h1.38M232.5 273.3h1.38M238.5 273.3h1.38M243 273.3h1.38M243.5 273.3h1.38M260.4 273.3h1.38M263.4 273.3h1.38M267.9 273.3h1.38M270.4 273.3h1.38M274.8 273.3h1.38M282.3 273.3h1.38M286.8 273.3h1.38M289.3 273.3h1.38M292.3 273.3h1.38M294.7 273.3h1.38M296.2 273.3h1.38M299.2 273.3h1.38M306.2 273.3h1.38M308.2 273.3h1.38M316.6 273.3h1.38M317.1 273.3h1.38M319.1 273.3h1.38M320.1 273.3h1.38M332.6 273.3h1.38M343.5 273.3h1.38M347.5 273.3h1.38M349 273.3h1.38M349.5 273.3h1.38M359.4 273.3h1.38M361.9 273.3h1.38M365.4 273.3h1.38M370.9 273.3h1.38M375.9 273.3h1.38M383.8 273.3h1.38M388.3 273.3h1.38M389.3 273.3h1.38M391.8 273.3h1.38M402.3 273.3h1.38M403.7 273.3h1.38M404.7 273.3h1.38M405.7 273.3h1.38M417.2 273.3h1.38M422.2 273.3h1.38M424.6 273.3h1.38M425.1 273.3h1.38M430.6 273.3h1.38M436.1 273.3h1.38M438.6 273.3h1.38M439.1 273.3h1.38M447.5 273.3h1.38M454.5 273.3h1.38M456 273.3h1.38M461 273.3h1.38M469.4 273.3h1.38M476.9 273.3h1.38M480.9 273.3h1.38M481.9 273.3h1.38M488.9 273.3h1.38M490.8 273.3h1.38M494.3 273.3h1.38M497.8 273.3h1.38M502.3 273.3h1.38M504.3 273.3h1.38M506.8 273.3h1.38M507.8 273.3h1.38M508.8 273.3h1.38M514.7 273.3h1.38M516.7 273.3h1.38M521.2 273.3h1.38M528.7 273.3h1.38M531.2 273.3h1.38M532.2 273.3h1.38M557 273.3h1.38M557.5 273.3h1.38M558 273.3h1.38M559 273.3h1.38M560 273.3h1.38M561 273.3h1.38M564 273.3h1.38M564.5 273.3h1.38M82.2 275.5h1.38M87.7 275.5h1.38M98.2 275.5h1.38M101.1 275.5h1.38M124 275.5h1.38M137 275.5h1.38M142.5 275.5h1.38M153.4 275.5h1.38M175.3 275.5h1.38M178.8 275.5h1.38M184.8 275.5h1.38M191.7 275.5h1.38M192.2 275.5h1.38M227.6 275.5h1.38M238.5 275.5h1.38M245.5 275.5h1.38M258.9 275.5h1.38M264.4 275.5h1.38M266.9 275.5h1.38M283.8 275.5h1.38M287.3 275.5h1.38M297.7 275.5h1.38M298.2 275.5h1.38M301.2 275.5h1.38M310.2 275.5h1.38M319.6 275.5h1.38M324.1 275.5h1.38M362.9 275.5h1.38M381.8 275.5h1.38M383.3 275.5h1.38M387.3 275.5h1.38M424.2 275.5h1.38M438.6 275.5h1.38M459 275.5h1.38M486.9 275.5h1.38M488.9 275.5h1.38M489.3 275.5h1.38M493.3 275.5h1.38M497.8 275.5h1.38M500.3 275.5h1.38M507.3 275.5h1.38M531.7 275.5h1.38M548.1 275.5h1.38M566.5 275.5h1.38M80.2 277.8h1.38M86.2 277.8h1.38M92.7 277.8h1.38M112.6 277.8h1.38M114.1 277.8h1.38M117.1 277.8h1.38M135 277.8h1.38M144.4 277.8h1.38M148.4 277.8h1.38M193.7 277.8h1.38M212.6 277.8h1.38M218.6 277.8h1.38M228.6 277.8h1.38M230 277.8h1.38M237 277.8h1.38M241.5 277.8h1.38M248 277.8h1.38M288.3 277.8h1.38M289.8 277.8h1.38M314.7 277.8h1.38M332.6 277.8h1.38M341 277.8h1.38M341.5 277.8h1.38M348 277.8h1.38M350.5 277.8h1.38M351 277.8h1.38M358 277.8h1.38M362.9 277.8h1.38M372.4 277.8h1.38M380.9 277.8h1.38M417.2 277.8h1.38M422.7 277.8h1.38M434.1 277.8h1.38M442.6 277.8h1.38M454 277.8h1.38M462.5 277.8h1.38M465.5 277.8h1.38M467 277.8h1.38M500.8 277.8h1.38M510.7 277.8h1.38M523.2 277.8h1.38M529.7 277.8h1.38M534.6 277.8h1.38M536.6 277.8h1.38M86.2 280.1h1.38M90.2 280.1h1.38M100.6 280.1h1.38M103.1 280.1h1.38M113.1 280.1h1.38M114.1 280.1h1.38M121.1 280.1h1.38M121.5 280.1h1.38M128.5 280.1h1.38M129 280.1h1.38M130.5 280.1h1.38M134.5 280.1h1.38M137 280.1h1.38M142.5 280.1h1.38M143.9 280.1h1.38M147.4 280.1h1.38M161.9 280.1h1.38M167.3 280.1h1.38M171.8 280.1h1.38M176.3 280.1h1.38M177.3 280.1h1.38M179.8 280.1h1.38M184.3 280.1h1.38M185.3 280.1h1.38M185.8 280.1h1.38M186.2 280.1h1.38M187.2 280.1h1.38M189.2 280.1h1.38M189.7 280.1h1.38M190.7 280.1h1.38M194.2 280.1h1.38M211.1 280.1h1.38M217.6 280.1h1.38M219.6 280.1h1.38M220.1 280.1h1.38M230 280.1h1.38M232 280.1h1.38M232.5 280.1h1.38M234.5 280.1h1.38M236.5 280.1h1.38M240.5 280.1h1.38M247.5 280.1h1.38M254.4 280.1h1.38M257.9 280.1h1.38M261.9 280.1h1.38M265.9 280.1h1.38M273.3 280.1h1.38M274.3 280.1h1.38M280.8 280.1h1.38M285.3 280.1h1.38M288.8 280.1h1.38M291.3 280.1h1.38M292.3 280.1h1.38M294.7 280.1h1.38M295.7 280.1h1.38M296.2 280.1h1.38M297.7 280.1h1.38M300.7 280.1h1.38M301.2 280.1h1.38M304.7 280.1h1.38M306.2 280.1h1.38M306.7 280.1h1.38M312.7 280.1h1.38M313.2 280.1h1.38M315.2 280.1h1.38M316.1 280.1h1.38M318.6 280.1h1.38M319.1 280.1h1.38M320.6 280.1h1.38M321.1 280.1h1.38M325.1 280.1h1.38M326.1 280.1h1.38M327.1 280.1h1.38M328.6 280.1h1.38M329.6 280.1h1.38M330.1 280.1h1.38M330.6 280.1h1.38M331.1 280.1h1.38M331.6 280.1h1.38M332.1 280.1h1.38M333.6 280.1h1.38M334.1 280.1h1.38M335.1 280.1h1.38M336.1 280.1h1.38M337.1 280.1h1.38M337.6 280.1h1.38M338.5 280.1h1.38M339.5 280.1h1.38M341 280.1h1.38M344.5 280.1h1.38M346.5 280.1h1.38M348.5 280.1h1.38M350.5 280.1h1.38M354 280.1h1.38M356 280.1h1.38M356.5 280.1h1.38M360.9 280.1h1.38M364.4 280.1h1.38M368.4 280.1h1.38M370.4 280.1h1.38M373.9 280.1h1.38M374.4 280.1h1.38M374.9 280.1h1.38M375.9 280.1h1.38M378.9 280.1h1.38M379.9 280.1h1.38M390.3 280.1h1.38M395.8 280.1h1.38M396.8 280.1h1.38M400.8 280.1h1.38M404.7 280.1h1.38M407.2 280.1h1.38M407.7 280.1h1.38M413.2 280.1h1.38M415.2 280.1h1.38M417.2 280.1h1.38M419.7 280.1h1.38M422.2 280.1h1.38M422.7 280.1h1.38M425.1 280.1h1.38M426.1 280.1h1.38M426.6 280.1h1.38M428.1 280.1h1.38M428.6 280.1h1.38M430.6 280.1h1.38M434.1 280.1h1.38M434.6 280.1h1.38M436.1 280.1h1.38M439.1 280.1h1.38M440.1 280.1h1.38M442.1 280.1h1.38M444.1 280.1h1.38M452 280.1h1.38M459 280.1h1.38M463.5 280.1h1.38M465 280.1h1.38M480.4 280.1h1.38M487.4 280.1h1.38M488.9 280.1h1.38M490.8 280.1h1.38M497.3 280.1h1.38M499.8 280.1h1.38M503.8 280.1h1.38M508.8 280.1h1.38M511.7 280.1h1.38M533.1 280.1h1.38M537.1 280.1h1.38M538.1 280.1h1.38M539.1 280.1h1.38M549.6 280.1h1.38M553.1 280.1h1.38M554.5 280.1h1.38M555.5 280.1h1.38M556.5 280.1h1.38M557 280.1h1.38M563 280.1h1.38M564 280.1h1.38M568 280.1h1.38M568.5 280.1h1.38M88.2 282.3h1.38M100.6 282.3h1.38M127 282.3h1.38M129 282.3h1.38M133 282.3h1.38M136 282.3h1.38M139 282.3h1.38M146.9 282.3h1.38M162.9 282.3h1.38M175.3 282.3h1.38M177.3 282.3h1.38M195.7 282.3h1.38M204.2 282.3h1.38M214.6 282.3h1.38M233 282.3h1.38M237 282.3h1.38M238.5 282.3h1.38M254.9 282.3h1.38M258.4 282.3h1.38M258.9 282.3h1.38M267.4 282.3h1.38M269.4 282.3h1.38M270.4 282.3h1.38M301.7 282.3h1.38M303.2 282.3h1.38M306.7 282.3h1.38M309.2 282.3h1.38M315.2 282.3h1.38M324.1 282.3h1.38M327.6 282.3h1.38M340 282.3h1.38M346 282.3h1.38M347.5 282.3h1.38M348.5 282.3h1.38M359.4 282.3h1.38M362.9 282.3h1.38M379.4 282.3h1.38M384.3 282.3h1.38M395.3 282.3h1.38M402.7 282.3h1.38M406.2 282.3h1.38M432.1 282.3h1.38M458.5 282.3h1.38M461 282.3h1.38M467.4 282.3h1.38M497.3 282.3h1.38M510.3 282.3h1.38M520.2 282.3h1.38M522.7 282.3h1.38M525.7 282.3h1.38M554 282.3h1.38M565 282.3h1.38M93.7 284.6h1.38M94.2 284.6h1.38M134.5 284.6h1.38M148.9 284.6h1.38M156.9 284.6h1.38M158.9 284.6h1.38M162.9 284.6h1.38M163.9 284.6h1.38M174.3 284.6h1.38M178.8 284.6h1.38M180.3 284.6h1.38M182.3 284.6h1.38M188.7 284.6h1.38M200.2 284.6h1.38M204.2 284.6h1.38M208.6 284.6h1.38M212.1 284.6h1.38M216.1 284.6h1.38M227.6 284.6h1.38M243.5 284.6h1.38M244.5 284.6h1.38M247.5 284.6h1.38M262.4 284.6h1.38M269.9 284.6h1.38M276.8 284.6h1.38M294.3 284.6h1.38M305.7 284.6h1.38M307.7 284.6h1.38M333.1 284.6h1.38M337.1 284.6h1.38M340 284.6h1.38M349 284.6h1.38M368.9 284.6h1.38M372.4 284.6h1.38M376.4 284.6h1.38M385.3 284.6h1.38M391.8 284.6h1.38M393.3 284.6h1.38M397.8 284.6h1.38M411.7 284.6h1.38M424.2 284.6h1.38M461.5 284.6h1.38M474.4 284.6h1.38M481.9 284.6h1.38M494.3 284.6h1.38M516.2 284.6h1.38M522.7 284.6h1.38M541.1 284.6h1.38M547.6 284.6h1.38M558.5 284.6h1.38M564 284.6h1.38M77.3 286.8h1.38M98.2 286.8h1.38M116.1 286.8h1.38M117.1 286.8h1.38M130 286.8h1.38M136 286.8h1.38M147.4 286.8h1.38M165.8 286.8h1.38M190.2 286.8h1.38M220.6 286.8h1.38M221.1 286.8h1.38M246 286.8h1.38M248.5 286.8h1.38M258.9 286.8h1.38M263.4 286.8h1.38M266.9 286.8h1.38M277.8 286.8h1.38M282.3 286.8h1.38M288.8 286.8h1.38M293.8 286.8h1.38M295.7 286.8h1.38M298.2 286.8h1.38M302.7 286.8h1.38M303.2 286.8h1.38M303.7 286.8h1.38M304.2 286.8h1.38M305.2 286.8h1.38M308.2 286.8h1.38M310.7 286.8h1.38M313.2 286.8h1.38M314.7 286.8h1.38M315.7 286.8h1.38M316.6 286.8h1.38M318.6 286.8h1.38M322.1 286.8h1.38M322.6 286.8h1.38M323.1 286.8h1.38M325.1 286.8h1.38M326.6 286.8h1.38M327.6 286.8h1.38M330.6 286.8h1.38M338 286.8h1.38M339 286.8h1.38M341 286.8h1.38M341.5 286.8h1.38M344.5 286.8h1.38M345.5 286.8h1.38M347 286.8h1.38M350.5 286.8h1.38M351 286.8h1.38M352.5 286.8h1.38M354.5 286.8h1.38M358.5 286.8h1.38M365.9 286.8h1.38M368.9 286.8h1.38M370.4 286.8h1.38M372.9 286.8h1.38M375.4 286.8h1.38M379.9 286.8h1.38M397.8 286.8h1.38M399.8 286.8h1.38M417.7 286.8h1.38M422.2 286.8h1.38M423.2 286.8h1.38M423.7 286.8h1.38M431.6 286.8h1.38M434.6 286.8h1.38M439.6 286.8h1.38M440.1 286.8h1.38M447 286.8h1.38M450.5 286.8h1.38M455 286.8h1.38M457.5 286.8h1.38M460 286.8h1.38M469.9 286.8h1.38M473.9 286.8h1.38M475.9 286.8h1.38M491.3 286.8h1.38M495.3 286.8h1.38M499.3 286.8h1.38M508.3 286.8h1.38M537.1 286.8h1.38M546.6 286.8h1.38M562.5 286.8h1.38M79.7 289.1h1.38M81.7 289.1h1.38M85.7 289.1h1.38M89.2 289.1h1.38M94.7 289.1h1.38M99.2 289.1h1.38M105.6 289.1h1.38M107.1 289.1h1.38M108.1 289.1h1.38M119.1 289.1h1.38M126 289.1h1.38M130 289.1h1.38M131.5 289.1h1.38M132 289.1h1.38M132.5 289.1h1.38M140 289.1h1.38M140.5 289.1h1.38M146.4 289.1h1.38M153.4 289.1h1.38M158.4 289.1h1.38M171.3 289.1h1.38M173.3 289.1h1.38M175.8 289.1h1.38M181.8 289.1h1.38M183.3 289.1h1.38M188.7 289.1h1.38M196.2 289.1h1.38M198.7 289.1h1.38M205.7 289.1h1.38M206.2 289.1h1.38M209.1 289.1h1.38M210.1 289.1h1.38M212.1 289.1h1.38M213.1 289.1h1.38M213.6 289.1h1.38M216.1 289.1h1.38M219.1 289.1h1.38M227.1 289.1h1.38M231.5 289.1h1.38M233 289.1h1.38M234 289.1h1.38M239.5 289.1h1.38M240 289.1h1.38M241.5 289.1h1.38M242 289.1h1.38M245 289.1h1.38M246 289.1h1.38M257.4 289.1h1.38M258.9 289.1h1.38M259.9 289.1h1.38M260.4 289.1h1.38M267.4 289.1h1.38M272.8 289.1h1.38M279.8 289.1h1.38M285.3 289.1h1.38M288.3 289.1h1.38M289.8 289.1h1.38M291.3 289.1h1.38M301.7 289.1h1.38M304.7 289.1h1.38M306.2 289.1h1.38M308.2 289.1h1.38M312.7 289.1h1.38M317.6 289.1h1.38M322.6 289.1h1.38M323.1 289.1h1.38M323.6 289.1h1.38M327.1 289.1h1.38M327.6 289.1h1.38M332.1 289.1h1.38M335.1 289.1h1.38M335.6 289.1h1.38M341 289.1h1.38M343.5 289.1h1.38M348.5 289.1h1.38M353.5 289.1h1.38M355 289.1h1.38M357.5 289.1h1.38M358.5 289.1h1.38M359 289.1h1.38M369.9 289.1h1.38M373.9 289.1h1.38M374.9 289.1h1.38M375.9 289.1h1.38M379.9 289.1h1.38M385.3 289.1h1.38M388.3 289.1h1.38M390.8 289.1h1.38M391.8 289.1h1.38M394.8 289.1h1.38M401.3 289.1h1.38M404.7 289.1h1.38M410.2 289.1h1.38M413.2 289.1h1.38M422.2 289.1h1.38M423.7 289.1h1.38M435.1 289.1h1.38M436.1 289.1h1.38M442.1 289.1h1.38M443.1 289.1h1.38M447 289.1h1.38M453 289.1h1.38M455.5 289.1h1.38M459 289.1h1.38M461.5 289.1h1.38M463.5 289.1h1.38M465 289.1h1.38M465.5 289.1h1.38M468.9 289.1h1.38M474.4 289.1h1.38M474.9 289.1h1.38M477.4 289.1h1.38M479.4 289.1h1.38M479.9 289.1h1.38M487.4 289.1h1.38M495.8 289.1h1.38M497.3 289.1h1.38M503.3 289.1h1.38M504.3 289.1h1.38M505.3 289.1h1.38M506.3 289.1h1.38M506.8 289.1h1.38M507.3 289.1h1.38M510.3 289.1h1.38M516.2 289.1h1.38M518.2 289.1h1.38M529.2 289.1h1.38M529.7 289.1h1.38M542.6 289.1h1.38M545.6 289.1h1.38M556 289.1h1.38M557 289.1h1.38M560.5 289.1h1.38M562 289.1h1.38M566 289.1h1.38M567 289.1h1.38M81.7 291.4h1.38M87.7 291.4h1.38M94.7 291.4h1.38M102.1 291.4h1.38M104.6 291.4h1.38M107.1 291.4h1.38M109.6 291.4h1.38M110.6 291.4h1.38M113.6 291.4h1.38M152.4 291.4h1.38M157.9 291.4h1.38M158.9 291.4h1.38M167.8 291.4h1.38M184.3 291.4h1.38M193.2 291.4h1.38M210.1 291.4h1.38M211.6 291.4h1.38M218.1 291.4h1.38M229.5 291.4h1.38M254.4 291.4h1.38M258.9 291.4h1.38M269.4 291.4h1.38M284.3 291.4h1.38M307.7 291.4h1.38M308.7 291.4h1.38M311.2 291.4h1.38M322.1 291.4h1.38M329.6 291.4h1.38M332.6 291.4h1.38M336.6 291.4h1.38M337.6 291.4h1.38M387.8 291.4h1.38M402.3 291.4h1.38M412.2 291.4h1.38M425.6 291.4h1.38M430.1 291.4h1.38M443.6 291.4h1.38M447.5 291.4h1.38M457.5 291.4h1.38M471.9 291.4h1.38M474.4 291.4h1.38M475.4 291.4h1.38M475.9 291.4h1.38M494.8 291.4h1.38M499.3 291.4h1.38M509.3 291.4h1.38M510.3 291.4h1.38M511.2 291.4h1.38M531.2 291.4h1.38M549.1 291.4h1.38M549.6 291.4h1.38M556 291.4h1.38M82.7 293.6h1.38M105.1 293.6h1.38M116.6 293.6h1.38M126 293.6h1.38M136.5 293.6h1.38M152.4 293.6h1.38M166.8 293.6h1.38M172.8 293.6h1.38M209.1 293.6h1.38M216.6 293.6h1.38M221.6 293.6h1.38M237.5 293.6h1.38M241 293.6h1.38M247.5 293.6h1.38M254.9 293.6h1.38M258.9 293.6h1.38M262.9 293.6h1.38M278.8 293.6h1.38M289.3 293.6h1.38M295.7 293.6h1.38M296.2 293.6h1.38M299.2 293.6h1.38M302.7 293.6h1.38M304.2 293.6h1.38M306.7 293.6h1.38M311.2 293.6h1.38M312.2 293.6h1.38M314.7 293.6h1.38M315.7 293.6h1.38M320.1 293.6h1.38M321.6 293.6h1.38M323.6 293.6h1.38M324.6 293.6h1.38M326.1 293.6h1.38M329.6 293.6h1.38M331.1 293.6h1.38M337.1 293.6h1.38M338 293.6h1.38M340 293.6h1.38M342.5 293.6h1.38M356.5 293.6h1.38M361.9 293.6h1.38M368.9 293.6h1.38M371.9 293.6h1.38M376.9 293.6h1.38M379.4 293.6h1.38M381.8 293.6h1.38M389.8 293.6h1.38M392.3 293.6h1.38M400.3 293.6h1.38M410.7 293.6h1.38M429.1 293.6h1.38M431.1 293.6h1.38M439.1 293.6h1.38M447.5 293.6h1.38M448.5 293.6h1.38M458 293.6h1.38M476.4 293.6h1.38M492.3 293.6h1.38M492.8 293.6h1.38M497.3 293.6h1.38M516.7 293.6h1.38M517.7 293.6h1.38M519.2 293.6h1.38M533.6 293.6h1.38M536.6 293.6h1.38M543.6 293.6h1.38M555 293.6h1.38M560.5 293.6h1.38M567.5 293.6h1.38M84.7 295.9h1.38M91.2 295.9h1.38M95.7 295.9h1.38M98.2 295.9h1.38M99.2 295.9h1.38M101.1 295.9h1.38M104.1 295.9h1.38M105.1 295.9h1.38M106.1 295.9h1.38M108.6 295.9h1.38M113.6 295.9h1.38M118.6 295.9h1.38M121.1 295.9h1.38M127.5 295.9h1.38M134 295.9h1.38M134.5 295.9h1.38M137.5 295.9h1.38M138 295.9h1.38M141 295.9h1.38M146.9 295.9h1.38M152.4 295.9h1.38M153.9 295.9h1.38M154.4 295.9h1.38M162.4 295.9h1.38M163.9 295.9h1.38M164.4 295.9h1.38M168.8 295.9h1.38M172.8 295.9h1.38M176.8 295.9h1.38M181.8 295.9h1.38M182.8 295.9h1.38M189.7 295.9h1.38M190.7 295.9h1.38M193.7 295.9h1.38M206.2 295.9h1.38M210.1 295.9h1.38M214.6 295.9h1.38M242 295.9h1.38M249 295.9h1.38M258.4 295.9h1.38M262.4 295.9h1.38M266.4 295.9h1.38M266.9 295.9h1.38M273.3 295.9h1.38M274.8 295.9h1.38M281.3 295.9h1.38M281.8 295.9h1.38M283.8 295.9h1.38M292.8 295.9h1.38M296.7 295.9h1.38M302.2 295.9h1.38M304.2 295.9h1.38M307.7 295.9h1.38M312.2 295.9h1.38M313.7 295.9h1.38M314.7 295.9h1.38M315.7 295.9h1.38M316.1 295.9h1.38M320.1 295.9h1.38M321.1 295.9h1.38M323.1 295.9h1.38M333.6 295.9h1.38M337.6 295.9h1.38M340.5 295.9h1.38M341.5 295.9h1.38M343 295.9h1.38M343.5 295.9h1.38M344 295.9h1.38M347.5 295.9h1.38M348.5 295.9h1.38M349 295.9h1.38M351 295.9h1.38M352.5 295.9h1.38M354 295.9h1.38M358 295.9h1.38M359.4 295.9h1.38M360.9 295.9h1.38M362.4 295.9h1.38M362.9 295.9h1.38M379.4 295.9h1.38M381.8 295.9h1.38M382.3 295.9h1.38M388.8 295.9h1.38M397.3 295.9h1.38M400.8 295.9h1.38M403.7 295.9h1.38M411.2 295.9h1.38M417.7 295.9h1.38M424.2 295.9h1.38M424.6 295.9h1.38M426.1 295.9h1.38M438.1 295.9h1.38M441.6 295.9h1.38M446 295.9h1.38M451.5 295.9h1.38M452.5 295.9h1.38M455.5 295.9h1.38M456 295.9h1.38M456.5 295.9h1.38M462 295.9h1.38M463.5 295.9h1.38M469.9 295.9h1.38M472.4 295.9h1.38M474.4 295.9h1.38M474.9 295.9h1.38M477.9 295.9h1.38M479.4 295.9h1.38M483.4 295.9h1.38M485.4 295.9h1.38M486.4 295.9h1.38M487.4 295.9h1.38M490.8 295.9h1.38M494.8 295.9h1.38M497.8 295.9h1.38M498.3 295.9h1.38M498.8 295.9h1.38M503.8 295.9h1.38M507.8 295.9h1.38M513.2 295.9h1.38M515.2 295.9h1.38M520.7 295.9h1.38M535.1 295.9h1.38M543.1 295.9h1.38M547.6 295.9h1.38M548.1 295.9h1.38M552.6 295.9h1.38M553.6 295.9h1.38M559.5 295.9h1.38M563 295.9h1.38M564.5 295.9h1.38M78.7 298.1h1.38M89.2 298.1h1.38M112.6 298.1h1.38M116.6 298.1h1.38M129.5 298.1h1.38M135 298.1h1.38M150.4 298.1h1.38M150.9 298.1h1.38M153.4 298.1h1.38M168.3 298.1h1.38M182.3 298.1h1.38M205.7 298.1h1.38M210.1 298.1h1.38M214.6 298.1h1.38M216.1 298.1h1.38M224.1 298.1h1.38M232 298.1h1.38M232.5 298.1h1.38M239 298.1h1.38M250.5 298.1h1.38M257.9 298.1h1.38M266.4 298.1h1.38M281.8 298.1h1.38M282.3 298.1h1.38M309.7 298.1h1.38M331.1 298.1h1.38M341 298.1h1.38M370.4 298.1h1.38M403.2 298.1h1.38M416.7 298.1h1.38M424.2 298.1h1.38M432.6 298.1h1.38M433.6 298.1h1.38M434.1 298.1h1.38M436.1 298.1h1.38M457 298.1h1.38M458.5 298.1h1.38M460 298.1h1.38M463 298.1h1.38M467.4 298.1h1.38M484.4 298.1h1.38M497.8 298.1h1.38M501.3 298.1h1.38M504.3 298.1h1.38M515.2 298.1h1.38M522.7 298.1h1.38M556.5 298.1h1.38M561.5 298.1h1.38M563.5 298.1h1.38M568.5 298.1h1.38M118.6 300.4h1.38M126.5 300.4h1.38M129 300.4h1.38M149.4 300.4h1.38M168.3 300.4h1.38M168.8 300.4h1.38M181.8 300.4h1.38M186.7 300.4h1.38M200.7 300.4h1.38M214.1 300.4h1.38M220.1 300.4h1.38M224.1 300.4h1.38M229.1 300.4h1.38M238 300.4h1.38M239 300.4h1.38M248.5 300.4h1.38M265.4 300.4h1.38M296.2 300.4h1.38M308.7 300.4h1.38M334.6 300.4h1.38M350 300.4h1.38M351 300.4h1.38M352 300.4h1.38M360.9 300.4h1.38M361.4 300.4h1.38M367.9 300.4h1.38M370.9 300.4h1.38M371.4 300.4h1.38M383.8 300.4h1.38M386.8 300.4h1.38M388.3 300.4h1.38M389.3 300.4h1.38M408.7 300.4h1.38M412.2 300.4h1.38M419.7 300.4h1.38M432.1 300.4h1.38M436.6 300.4h1.38M437.6 300.4h1.38M439.6 300.4h1.38M452 300.4h1.38M469.9 300.4h1.38M490.3 300.4h1.38M494.3 300.4h1.38M509.3 300.4h1.38M526.2 300.4h1.38M563 300.4h1.38M567 300.4h1.38M104.6 302.7h1.38M119.6 302.7h1.38M126 302.7h1.38M132.5 302.7h1.38M139 302.7h1.38M151.4 302.7h1.38M152.4 302.7h1.38M155.9 302.7h1.38M159.4 302.7h1.38M175.3 302.7h1.38M177.3 302.7h1.38M177.8 302.7h1.38M181.8 302.7h1.38M198.2 302.7h1.38M201.2 302.7h1.38M213.1 302.7h1.38M229.5 302.7h1.38M230 302.7h1.38M237 302.7h1.38M243 302.7h1.38M252.4 302.7h1.38M271.9 302.7h1.38M283.8 302.7h1.38M284.8 302.7h1.38M290.3 302.7h1.38M294.3 302.7h1.38M300.2 302.7h1.38M301.2 302.7h1.38M302.7 302.7h1.38M303.2 302.7h1.38M303.7 302.7h1.38M306.2 302.7h1.38M308.7 302.7h1.38M311.7 302.7h1.38M316.6 302.7h1.38M319.1 302.7h1.38M321.1 302.7h1.38M323.6 302.7h1.38M324.1 302.7h1.38M325.1 302.7h1.38M327.6 302.7h1.38M329.1 302.7h1.38M330.6 302.7h1.38M332.1 302.7h1.38M333.1 302.7h1.38M336.1 302.7h1.38M336.6 302.7h1.38M338.5 302.7h1.38M339 302.7h1.38M340.5 302.7h1.38M341.5 302.7h1.38M342 302.7h1.38M346.5 302.7h1.38M349 302.7h1.38M350 302.7h1.38M351 302.7h1.38M353.5 302.7h1.38M359.9 302.7h1.38M360.9 302.7h1.38M363.9 302.7h1.38M368.4 302.7h1.38M378.4 302.7h1.38M379.4 302.7h1.38M381.8 302.7h1.38M395.8 302.7h1.38M401.8 302.7h1.38M413.7 302.7h1.38M464 302.7h1.38M496.3 302.7h1.38M516.2 302.7h1.38M522.2 302.7h1.38M526.2 302.7h1.38M553.1 302.7h1.38M558.5 302.7h1.38M562 302.7h1.38M88.7 304.9h1.38M113.1 304.9h1.38M120.1 304.9h1.38M120.6 304.9h1.38M124.5 304.9h1.38M128 304.9h1.38M136.5 304.9h1.38M142 304.9h1.38M147.4 304.9h1.38M149.4 304.9h1.38M154.9 304.9h1.38M165.3 304.9h1.38M175.3 304.9h1.38M189.2 304.9h1.38M194.2 304.9h1.38M194.7 304.9h1.38M200.7 304.9h1.38M204.7 304.9h1.38M207.7 304.9h1.38M212.1 304.9h1.38M218.6 304.9h1.38M243 304.9h1.38M246.5 304.9h1.38M249 304.9h1.38M257.9 304.9h1.38M266.4 304.9h1.38M267.9 304.9h1.38M268.9 304.9h1.38M294.7 304.9h1.38M299.2 304.9h1.38M322.1 304.9h1.38M323.1 304.9h1.38M327.1 304.9h1.38M340 304.9h1.38M357 304.9h1.38M357.5 304.9h1.38M362.4 304.9h1.38M373.4 304.9h1.38M385.8 304.9h1.38M404.7 304.9h1.38M409.7 304.9h1.38M467.4 304.9h1.38M476.9 304.9h1.38M479.4 304.9h1.38M485.4 304.9h1.38M504.8 304.9h1.38M516.2 304.9h1.38M529.2 304.9h1.38M530.2 304.9h1.38M543.1 304.9h1.38M544.6 304.9h1.38M546.6 304.9h1.38M552.6 304.9h1.38M554.5 304.9h1.38M569 304.9h1.38M83.2 307.2h1.38M97.7 307.2h1.38M99.2 307.2h1.38M113.1 307.2h1.38M117.1 307.2h1.38M119.6 307.2h1.38M120.1 307.2h1.38M120.6 307.2h1.38M122.5 307.2h1.38M125.5 307.2h1.38M130 307.2h1.38M130.5 307.2h1.38M131 307.2h1.38M136 307.2h1.38M137 307.2h1.38M137.5 307.2h1.38M141 307.2h1.38M144.4 307.2h1.38M158.4 307.2h1.38M159.4 307.2h1.38M168.3 307.2h1.38M169.8 307.2h1.38M173.8 307.2h1.38M175.8 307.2h1.38M178.8 307.2h1.38M188.7 307.2h1.38M192.2 307.2h1.38M195.2 307.2h1.38M198.7 307.2h1.38M207.2 307.2h1.38M208.6 307.2h1.38M215.1 307.2h1.38M220.1 307.2h1.38M221.1 307.2h1.38M221.6 307.2h1.38M233 307.2h1.38M236 307.2h1.38M236.5 307.2h1.38M241.5 307.2h1.38M245.5 307.2h1.38M247 307.2h1.38M250.5 307.2h1.38M251 307.2h1.38M251.9 307.2h1.38M255.4 307.2h1.38M255.9 307.2h1.38M257.4 307.2h1.38M265.9 307.2h1.38M266.9 307.2h1.38M271.9 307.2h1.38M276.3 307.2h1.38M277.3 307.2h1.38M279.8 307.2h1.38M286.3 307.2h1.38M289.8 307.2h1.38M291.8 307.2h1.38M296.2 307.2h1.38M301.7 307.2h1.38M304.2 307.2h1.38M321.6 307.2h1.38M325.1 307.2h1.38M328.1 307.2h1.38M331.6 307.2h1.38M333.6 307.2h1.38M343 307.2h1.38M345.5 307.2h1.38M361.9 307.2h1.38M363.4 307.2h1.38M364.9 307.2h1.38M376.9 307.2h1.38M385.8 307.2h1.38M390.3 307.2h1.38M391.3 307.2h1.38M397.3 307.2h1.38M407.2 307.2h1.38M415.2 307.2h1.38M416.7 307.2h1.38M424.6 307.2h1.38M427.6 307.2h1.38M428.1 307.2h1.38M431.6 307.2h1.38M434.6 307.2h1.38M443.1 307.2h1.38M443.6 307.2h1.38M447 307.2h1.38M453 307.2h1.38M457.5 307.2h1.38M459 307.2h1.38M462 307.2h1.38M467.9 307.2h1.38M468.4 307.2h1.38M470.4 307.2h1.38M472.4 307.2h1.38M477.4 307.2h1.38M478.9 307.2h1.38M479.9 307.2h1.38M480.4 307.2h1.38M480.9 307.2h1.38M481.9 307.2h1.38M482.9 307.2h1.38M483.9 307.2h1.38M484.9 307.2h1.38M490.3 307.2h1.38M503.3 307.2h1.38M509.8 307.2h1.38M517.2 307.2h1.38M517.7 307.2h1.38M521.7 307.2h1.38M522.2 307.2h1.38M525.7 307.2h1.38M526.2 307.2h1.38M529.2 307.2h1.38M533.6 307.2h1.38M537.1 307.2h1.38M545.6 307.2h1.38M546.6 307.2h1.38M556 307.2h1.38M556.5 307.2h1.38M559.5 307.2h1.38M560 307.2h1.38M560.5 307.2h1.38M568 307.2h1.38M84.7 309.5h1.38M89.2 309.5h1.38M107.6 309.5h1.38M132 309.5h1.38M135.5 309.5h1.38M137 309.5h1.38M139 309.5h1.38M186.2 309.5h1.38M208.6 309.5h1.38M213.1 309.5h1.38M217.1 309.5h1.38M234.5 309.5h1.38M236.5 309.5h1.38M253.4 309.5h1.38M284.8 309.5h1.38M310.2 309.5h1.38M314.2 309.5h1.38M315.7 309.5h1.38M317.6 309.5h1.38M332.1 309.5h1.38M340.5 309.5h1.38M344.5 309.5h1.38M354.5 309.5h1.38M365.4 309.5h1.38M376.4 309.5h1.38M389.3 309.5h1.38M390.3 309.5h1.38M391.8 309.5h1.38M398.3 309.5h1.38M400.8 309.5h1.38M427.1 309.5h1.38M427.6 309.5h1.38M430.1 309.5h1.38M435.1 309.5h1.38M451 309.5h1.38M462 309.5h1.38M478.9 309.5h1.38M484.4 309.5h1.38M508.3 309.5h1.38M519.2 309.5h1.38M554 309.5h1.38M557 309.5h1.38M558.5 309.5h1.38M80.7 311.7h1.38M82.7 311.7h1.38M90.7 311.7h1.38M149.4 311.7h1.38M155.4 311.7h1.38M179.3 311.7h1.38M183.8 311.7h1.38M193.7 311.7h1.38M198.7 311.7h1.38M209.1 311.7h1.38M229.1 311.7h1.38M231 311.7h1.38M234 311.7h1.38M236 311.7h1.38M249 311.7h1.38M250 311.7h1.38M258.9 311.7h1.38M272.4 311.7h1.38M280.3 311.7h1.38M299.7 311.7h1.38M300.2 311.7h1.38M302.7 311.7h1.38M305.2 311.7h1.38M306.7 311.7h1.38M311.7 311.7h1.38M312.7 311.7h1.38M315.7 311.7h1.38M325.1 311.7h1.38M327.1 311.7h1.38M330.6 311.7h1.38M333.1 311.7h1.38M337.6 311.7h1.38M338 311.7h1.38M341.5 311.7h1.38M345 311.7h1.38M346.5 311.7h1.38M348.5 311.7h1.38M352.5 311.7h1.38M372.9 311.7h1.38M377.4 311.7h1.38M387.8 311.7h1.38M389.3 311.7h1.38M407.2 311.7h1.38M423.2 311.7h1.38M437.6 311.7h1.38M439.6 311.7h1.38M441.1 311.7h1.38M448.5 311.7h1.38M473.9 311.7h1.38M480.9 311.7h1.38M483.4 311.7h1.38M549.1 311.7h1.38M554.5 311.7h1.38M88.2 314h1.38M89.2 314h1.38M94.7 314h1.38M98.2 314h1.38M101.1 314h1.38M102.1 314h1.38M103.6 314h1.38M108.1 314h1.38M137.5 314h1.38M139.5 314h1.38M142.9 314h1.38M144.4 314h1.38M149.4 314h1.38M150.9 314h1.38M155.4 314h1.38M162.4 314h1.38M162.9 314h1.38M168.3 314h1.38M173.3 314h1.38M176.3 314h1.38M179.3 314h1.38M183.8 314h1.38M190.2 314h1.38M195.2 314h1.38M196.7 314h1.38M197.7 314h1.38M213.6 314h1.38M215.1 314h1.38M216.1 314h1.38M219.1 314h1.38M220.1 314h1.38M223.1 314h1.38M223.6 314h1.38M231 314h1.38M232.5 314h1.38M233.5 314h1.38M236.5 314h1.38M237 314h1.38M242 314h1.38M243.5 314h1.38M246 314h1.38M247 314h1.38M248.5 314h1.38M250.5 314h1.38M251.9 314h1.38M255.4 314h1.38M259.4 314h1.38M259.9 314h1.38M260.9 314h1.38M261.4 314h1.38M270.9 314h1.38M280.3 314h1.38M283.3 314h1.38M287.8 314h1.38M288.3 314h1.38M289.8 314h1.38M314.2 314h1.38M318.6 314h1.38M324.6 314h1.38M331.6 314h1.38M333.6 314h1.38M341.5 314h1.38M343.5 314h1.38M344 314h1.38M345.5 314h1.38M348.5 314h1.38M350 314h1.38M353 314h1.38M355.5 314h1.38M358 314h1.38M386.3 314h1.38M389.8 314h1.38M403.2 314h1.38M408.7 314h1.38M422.7 314h1.38M427.1 314h1.38M427.6 314h1.38M443.1 314h1.38M445.1 314h1.38M445.6 314h1.38M453 314h1.38M459.5 314h1.38M461 314h1.38M464.5 314h1.38M466.5 314h1.38M467 314h1.38M469.4 314h1.38M471.9 314h1.38M473.4 314h1.38M475.9 314h1.38M479.4 314h1.38M481.4 314h1.38M487.9 314h1.38M490.8 314h1.38M504.3 314h1.38M505.8 314h1.38M508.3 314h1.38M512.7 314h1.38M526.2 314h1.38M538.6 314h1.38M541.1 314h1.38M542.1 314h1.38M544.1 314h1.38M552.1 314h1.38M553.1 314h1.38M561.5 314h1.38M562.5 314h1.38M567 314h1.38M569 314h1.38M101.6 316.2h1.38M128 316.2h1.38M136.5 316.2h1.38M139 316.2h1.38M177.3 316.2h1.38M201.7 316.2h1.38M207.2 316.2h1.38M219.1 316.2h1.38M240.5 316.2h1.38M249.5 316.2h1.38M255.9 316.2h1.38M267.4 316.2h1.38M281.8 316.2h1.38M282.3 316.2h1.38M286.3 316.2h1.38M308.2 316.2h1.38M320.6 316.2h1.38M324.1 316.2h1.38M324.6 316.2h1.38M331.6 316.2h1.38M339 316.2h1.38M348 316.2h1.38M349 316.2h1.38M357.5 316.2h1.38M359 316.2h1.38M365.4 316.2h1.38M371.9 316.2h1.38M383.3 316.2h1.38M385.8 316.2h1.38M387.3 316.2h1.38M414.7 316.2h1.38M415.2 316.2h1.38M417.2 316.2h1.38M443.1 316.2h1.38M449.5 316.2h1.38M451 316.2h1.38M454 316.2h1.38M468.4 316.2h1.38M472.4 316.2h1.38M500.3 316.2h1.38M534.1 316.2h1.38M546.1 316.2h1.38M550.1 316.2h1.38M554.5 316.2h1.38M561.5 316.2h1.38M93.7 318.5h1.38M97.2 318.5h1.38M122.5 318.5h1.38M162.4 318.5h1.38M163.4 318.5h1.38M171.3 318.5h1.38M190.7 318.5h1.38M193.7 318.5h1.38M194.2 318.5h1.38M198.7 318.5h1.38M202.2 318.5h1.38M204.7 318.5h1.38M205.7 318.5h1.38M212.1 318.5h1.38M220.6 318.5h1.38M223.1 318.5h1.38M224.6 318.5h1.38M229.5 318.5h1.38M256.4 318.5h1.38M257.4 318.5h1.38M284.3 318.5h1.38M286.3 318.5h1.38M306.7 318.5h1.38M316.6 318.5h1.38M336.6 318.5h1.38M341 318.5h1.38M346 318.5h1.38M357 318.5h1.38M367.4 318.5h1.38M371.9 318.5h1.38M399.3 318.5h1.38M424.2 318.5h1.38M432.1 318.5h1.38M435.1 318.5h1.38M456.5 318.5h1.38M471.9 318.5h1.38M480.4 318.5h1.38M482.9 318.5h1.38M509.3 318.5h1.38M521.2 318.5h1.38M560 318.5h1.38M564.5 318.5h1.38M567 318.5h1.38M78.2 320.8h1.38M80.2 320.8h1.38M81.2 320.8h1.38M86.7 320.8h1.38M94.2 320.8h1.38M99.6 320.8h1.38M104.1 320.8h1.38M105.6 320.8h1.38M107.1 320.8h1.38M116.1 320.8h1.38M123 320.8h1.38M129 320.8h1.38M131.5 320.8h1.38M142.9 320.8h1.38M159.4 320.8h1.38M159.9 320.8h1.38M169.3 320.8h1.38M171.8 320.8h1.38M173.3 320.8h1.38M173.8 320.8h1.38M183.8 320.8h1.38M185.8 320.8h1.38M187.2 320.8h1.38M194.7 320.8h1.38M199.7 320.8h1.38M200.7 320.8h1.38M202.2 320.8h1.38M218.1 320.8h1.38M221.6 320.8h1.38M223.1 320.8h1.38M232.5 320.8h1.38M238 320.8h1.38M238.5 320.8h1.38M246.5 320.8h1.38M250.5 320.8h1.38M262.9 320.8h1.38M278.3 320.8h1.38M280.3 320.8h1.38M282.8 320.8h1.38M287.3 320.8h1.38M288.3 320.8h1.38M288.8 320.8h1.38M289.8 320.8h1.38M290.3 320.8h1.38M295.2 320.8h1.38M297.2 320.8h1.38M297.7 320.8h1.38M298.2 320.8h1.38M302.2 320.8h1.38M302.7 320.8h1.38M313.2 320.8h1.38M313.7 320.8h1.38M315.7 320.8h1.38M316.1 320.8h1.38M320.1 320.8h1.38M321.1 320.8h1.38M322.6 320.8h1.38M326.6 320.8h1.38M327.6 320.8h1.38M328.6 320.8h1.38M333.6 320.8h1.38M335.6 320.8h1.38M340.5 320.8h1.38M343.5 320.8h1.38M344 320.8h1.38M348.5 320.8h1.38M353.5 320.8h1.38M354 320.8h1.38M359.9 320.8h1.38M364.4 320.8h1.38M365.4 320.8h1.38M365.9 320.8h1.38M366.4 320.8h1.38M368.4 320.8h1.38M370.4 320.8h1.38M383.3 320.8h1.38M385.3 320.8h1.38M385.8 320.8h1.38M387.8 320.8h1.38M391.3 320.8h1.38M395.8 320.8h1.38M401.3 320.8h1.38M402.7 320.8h1.38M409.7 320.8h1.38M415.7 320.8h1.38M419.7 320.8h1.38M427.1 320.8h1.38M434.1 320.8h1.38M443.6 320.8h1.38M452 320.8h1.38M455 320.8h1.38M462.5 320.8h1.38M463 320.8h1.38M466.5 320.8h1.38M468.4 320.8h1.38M470.9 320.8h1.38M477.9 320.8h1.38M481.9 320.8h1.38M488.9 320.8h1.38M493.3 320.8h1.38M493.8 320.8h1.38M495.3 320.8h1.38M498.8 320.8h1.38M503.8 320.8h1.38M504.3 320.8h1.38M512.2 320.8h1.38M532.6 320.8h1.38M534.6 320.8h1.38M537.1 320.8h1.38M538.1 320.8h1.38M539.1 320.8h1.38M557.5 320.8h1.38M560.5 320.8h1.38M95.2 323h1.38M113.1 323h1.38M117.6 323h1.38M132.5 323h1.38M184.3 323h1.38M191.2 323h1.38M193.7 323h1.38M219.6 323h1.38M224.1 323h1.38M229.1 323h1.38M237.5 323h1.38M246.5 323h1.38M249 323h1.38M261.4 323h1.38M263.9 323h1.38M277.8 323h1.38M285.3 323h1.38M286.3 323h1.38M290.8 323h1.38M293.8 323h1.38M296.2 323h1.38M300.2 323h1.38M300.7 323h1.38M308.2 323h1.38M329.1 323h1.38M335.1 323h1.38M354 323h1.38M355.5 323h1.38M368.9 323h1.38M370.4 323h1.38M373.9 323h1.38M383.3 323h1.38M402.7 323h1.38M409.2 323h1.38M413.2 323h1.38M449 323h1.38M473.9 323h1.38M474.4 323h1.38M483.9 323h1.38M500.3 323h1.38M502.3 323h1.38M502.8 323h1.38M518.2 323h1.38M520.7 323h1.38M522.7 323h1.38M530.7 323h1.38M541.6 323h1.38M544.6 323h1.38M568 323h1.38M112.6 325.3h1.38M126 325.3h1.38M126.5 325.3h1.38M127 325.3h1.38M131 325.3h1.38M149.4 325.3h1.38M158.9 325.3h1.38M163.9 325.3h1.38M174.3 325.3h1.38M199.7 325.3h1.38M204.2 325.3h1.38M211.1 325.3h1.38M218.1 325.3h1.38M221.6 325.3h1.38M241.5 325.3h1.38M244 325.3h1.38M253.4 325.3h1.38M255.9 325.3h1.38M282.3 325.3h1.38M307.7 325.3h1.38M309.2 325.3h1.38M314.2 325.3h1.38M314.7 325.3h1.38M320.6 325.3h1.38M335.6 325.3h1.38M346.5 325.3h1.38M363.4 325.3h1.38M374.4 325.3h1.38M379.4 325.3h1.38M391.3 325.3h1.38M391.8 325.3h1.38M405.2 325.3h1.38M441.6 325.3h1.38M452.5 325.3h1.38M453 325.3h1.38M457.5 325.3h1.38M459 325.3h1.38M464 325.3h1.38M473.4 325.3h1.38M484.9 325.3h1.38M489.8 325.3h1.38M509.3 325.3h1.38M542.1 325.3h1.38M549.1 325.3h1.38M78.2 327.5h1.38M82.7 327.5h1.38M85.2 327.5h1.38M88.7 327.5h1.38M91.2 327.5h1.38M91.7 327.5h1.38M93.2 327.5h1.38M102.1 327.5h1.38M103.1 327.5h1.38M110.1 327.5h1.38M113.1 327.5h1.38M117.1 327.5h1.38M125 327.5h1.38M126 327.5h1.38M132.5 327.5h1.38M142 327.5h1.38M146.9 327.5h1.38M149.9 327.5h1.38M150.4 327.5h1.38M153.4 327.5h1.38M156.4 327.5h1.38M159.9 327.5h1.38M164.4 327.5h1.38M166.8 327.5h1.38M167.3 327.5h1.38M168.8 327.5h1.38M171.3 327.5h1.38M179.8 327.5h1.38M181.3 327.5h1.38M182.8 327.5h1.38M191.2 327.5h1.38M195.7 327.5h1.38M201.2 327.5h1.38M203.2 327.5h1.38M209.1 327.5h1.38M210.6 327.5h1.38M213.6 327.5h1.38M225.1 327.5h1.38M241 327.5h1.38M243.5 327.5h1.38M256.4 327.5h1.38M260.9 327.5h1.38M278.3 327.5h1.38M278.8 327.5h1.38M286.8 327.5h1.38M287.3 327.5h1.38M289.8 327.5h1.38M291.8 327.5h1.38M293.8 327.5h1.38M294.3 327.5h1.38M300.2 327.5h1.38M304.2 327.5h1.38M309.7 327.5h1.38M310.7 327.5h1.38M312.2 327.5h1.38M313.2 327.5h1.38M318.1 327.5h1.38M322.6 327.5h1.38M327.6 327.5h1.38M333.1 327.5h1.38M340 327.5h1.38M344.5 327.5h1.38M346.5 327.5h1.38M349.5 327.5h1.38M351.5 327.5h1.38M354.5 327.5h1.38M355.5 327.5h1.38M356 327.5h1.38M359.4 327.5h1.38M360.9 327.5h1.38M361.4 327.5h1.38M365.4 327.5h1.38M390.3 327.5h1.38M391.3 327.5h1.38M393.8 327.5h1.38M395.8 327.5h1.38M396.3 327.5h1.38M398.8 327.5h1.38M400.8 327.5h1.38M403.7 327.5h1.38M407.7 327.5h1.38M409.2 327.5h1.38M409.7 327.5h1.38M411.7 327.5h1.38M412.2 327.5h1.38M419.2 327.5h1.38M432.1 327.5h1.38M434.1 327.5h1.38M450.5 327.5h1.38M453 327.5h1.38M454.5 327.5h1.38M455.5 327.5h1.38M458 327.5h1.38M474.9 327.5h1.38M477.9 327.5h1.38M484.4 327.5h1.38M484.9 327.5h1.38M503.3 327.5h1.38M510.3 327.5h1.38M512.7 327.5h1.38M516.2 327.5h1.38M517.2 327.5h1.38M518.7 327.5h1.38M519.7 327.5h1.38M524.7 327.5h1.38M527.7 327.5h1.38M531.7 327.5h1.38M544.1 327.5h1.38M548.1 327.5h1.38M552.1 327.5h1.38M555 327.5h1.38M557 327.5h1.38M559 327.5h1.38M559.5 327.5h1.38M561 327.5h1.38M567 327.5h1.38M568.5 327.5h1.38M79.7 329.8h1.38M84.2 329.8h1.38M86.2 329.8h1.38M117.1 329.8h1.38M138.5 329.8h1.38M146.4 329.8h1.38M157.9 329.8h1.38M161.9 329.8h1.38M162.4 329.8h1.38M166.8 329.8h1.38M169.3 329.8h1.38M191.2 329.8h1.38M215.1 329.8h1.38M224.1 329.8h1.38M229.5 329.8h1.38M241 329.8h1.38M241.5 329.8h1.38M273.3 329.8h1.38M279.8 329.8h1.38M283.8 329.8h1.38M296.2 329.8h1.38M299.7 329.8h1.38M318.1 329.8h1.38M320.1 329.8h1.38M332.1 329.8h1.38M332.6 329.8h1.38M348.5 329.8h1.38M352 329.8h1.38M361.4 329.8h1.38M366.4 329.8h1.38M368.4 329.8h1.38M369.9 329.8h1.38M375.9 329.8h1.38M381.3 329.8h1.38M388.3 329.8h1.38M394.8 329.8h1.38M417.2 329.8h1.38M430.1 329.8h1.38M435.1 329.8h1.38M443.6 329.8h1.38M464 329.8h1.38M488.9 329.8h1.38M495.3 329.8h1.38M509.8 329.8h1.38M512.7 329.8h1.38M516.7 329.8h1.38M544.1 329.8h1.38M568 329.8h1.38M80.7 332.1h1.38M125 332.1h1.38M129.5 332.1h1.38M164.4 332.1h1.38M174.3 332.1h1.38M195.2 332.1h1.38M204.2 332.1h1.38M214.1 332.1h1.38M219.6 332.1h1.38M223.1 332.1h1.38M232 332.1h1.38M242.5 332.1h1.38M243.5 332.1h1.38M248 332.1h1.38M252.4 332.1h1.38M265.4 332.1h1.38M270.9 332.1h1.38M271.4 332.1h1.38M284.3 332.1h1.38M311.2 332.1h1.38M316.6 332.1h1.38M318.6 332.1h1.38M329.1 332.1h1.38M334.1 332.1h1.38M341 332.1h1.38M366.9 332.1h1.38M390.3 332.1h1.38M401.3 332.1h1.38M408.2 332.1h1.38M422.2 332.1h1.38M427.1 332.1h1.38M427.6 332.1h1.38M433.6 332.1h1.38M434.6 332.1h1.38M462.5 332.1h1.38M477.9 332.1h1.38M519.2 332.1h1.38M524.7 332.1h1.38M535.6 332.1h1.38M545.6 332.1h1.38M562.5 332.1h1.38M564.5 332.1h1.38M113.6 334.3h1.38M114.6 334.3h1.38M118.6 334.3h1.38M127.5 334.3h1.38M133 334.3h1.38M134.5 334.3h1.38M140 334.3h1.38M151.9 334.3h1.38M165.3 334.3h1.38M176.8 334.3h1.38M181.8 334.3h1.38M204.7 334.3h1.38M231.5 334.3h1.38M236.5 334.3h1.38M246.5 334.3h1.38M249 334.3h1.38M249.5 334.3h1.38M271.4 334.3h1.38M284.8 334.3h1.38M289.8 334.3h1.38M304.2 334.3h1.38M306.2 334.3h1.38M311.7 334.3h1.38M312.7 334.3h1.38M318.6 334.3h1.38M323.1 334.3h1.38M329.6 334.3h1.38M333.6 334.3h1.38M339.5 334.3h1.38M340 334.3h1.38M343 334.3h1.38M344.5 334.3h1.38M345.5 334.3h1.38M361.9 334.3h1.38M411.2 334.3h1.38M422.2 334.3h1.38M424.2 334.3h1.38M428.6 334.3h1.38M446 334.3h1.38M481.4 334.3h1.38M496.3 334.3h1.38M499.8 334.3h1.38M501.8 334.3h1.38M513.7 334.3h1.38M520.2 334.3h1.38M78.2 336.6h1.38M78.7 336.6h1.38M85.7 336.6h1.38M88.7 336.6h1.38M89.2 336.6h1.38M91.2 336.6h1.38M97.2 336.6h1.38M101.6 336.6h1.38M108.1 336.6h1.38M113.1 336.6h1.38M114.1 336.6h1.38M117.1 336.6h1.38M120.1 336.6h1.38M121.1 336.6h1.38M126.5 336.6h1.38M129.5 336.6h1.38M134 336.6h1.38M143.9 336.6h1.38M145.9 336.6h1.38M146.9 336.6h1.38M147.9 336.6h1.38M154.9 336.6h1.38M165.3 336.6h1.38M168.3 336.6h1.38M172.8 336.6h1.38M180.3 336.6h1.38M182.8 336.6h1.38M188.2 336.6h1.38M191.7 336.6h1.38M194.7 336.6h1.38M199.7 336.6h1.38M205.7 336.6h1.38M207.2 336.6h1.38M216.1 336.6h1.38M217.6 336.6h1.38M218.6 336.6h1.38M220.6 336.6h1.38M221.6 336.6h1.38M224.6 336.6h1.38M225.1 336.6h1.38M227.6 336.6h1.38M240.5 336.6h1.38M253.4 336.6h1.38M262.9 336.6h1.38M268.4 336.6h1.38M268.9 336.6h1.38M271.9 336.6h1.38M275.3 336.6h1.38M276.8 336.6h1.38M280.3 336.6h1.38M285.8 336.6h1.38M290.3 336.6h1.38M290.8 336.6h1.38M294.3 336.6h1.38M296.7 336.6h1.38M300.2 336.6h1.38M300.7 336.6h1.38M301.7 336.6h1.38M302.2 336.6h1.38M303.7 336.6h1.38M306.2 336.6h1.38M309.2 336.6h1.38M318.6 336.6h1.38M324.6 336.6h1.38M328.1 336.6h1.38M329.6 336.6h1.38M330.1 336.6h1.38M338 336.6h1.38M342 336.6h1.38M345.5 336.6h1.38M348 336.6h1.38M349 336.6h1.38M366.9 336.6h1.38M369.4 336.6h1.38M371.4 336.6h1.38M374.4 336.6h1.38M375.9 336.6h1.38M379.4 336.6h1.38M390.8 336.6h1.38M394.3 336.6h1.38M396.3 336.6h1.38M396.8 336.6h1.38M407.7 336.6h1.38M408.7 336.6h1.38M409.2 336.6h1.38M415.7 336.6h1.38M416.2 336.6h1.38M423.2 336.6h1.38M429.1 336.6h1.38M442.1 336.6h1.38M443.6 336.6h1.38M451 336.6h1.38M451.5 336.6h1.38M461.5 336.6h1.38M468.9 336.6h1.38M472.4 336.6h1.38M480.9 336.6h1.38M488.9 336.6h1.38M499.3 336.6h1.38M500.3 336.6h1.38M502.3 336.6h1.38M506.8 336.6h1.38M513.7 336.6h1.38M518.2 336.6h1.38M520.7 336.6h1.38M524.2 336.6h1.38M527.2 336.6h1.38M538.6 336.6h1.38M540.6 336.6h1.38M541.6 336.6h1.38M546.1 336.6h1.38M551.6 336.6h1.38M553.1 336.6h1.38M559.5 336.6h1.38M561 336.6h1.38M568.5 336.6h1.38M569.5 336.6h1.38M570.5 336.6h1.38M571 336.6h1.38M85.7 338.9h1.38M129.5 338.9h1.38M135 338.9h1.38M137 338.9h1.38M138.5 338.9h1.38M144.9 338.9h1.38M146.9 338.9h1.38M171.3 338.9h1.38M188.2 338.9h1.38M194.2 338.9h1.38M198.7 338.9h1.38M204.2 338.9h1.38M228.1 338.9h1.38M242 338.9h1.38M244.5 338.9h1.38M245 338.9h1.38M252.9 338.9h1.38M254.4 338.9h1.38M262.4 338.9h1.38M270.9 338.9h1.38M281.8 338.9h1.38M297.7 338.9h1.38M308.2 338.9h1.38M308.7 338.9h1.38M310.2 338.9h1.38M311.2 338.9h1.38M315.7 338.9h1.38M338 338.9h1.38M340.5 338.9h1.38M348.5 338.9h1.38M351 338.9h1.38M352 338.9h1.38M353 338.9h1.38M355.5 338.9h1.38M356 338.9h1.38M366.9 338.9h1.38M374.9 338.9h1.38M381.3 338.9h1.38M391.3 338.9h1.38M392.3 338.9h1.38M394.8 338.9h1.38M400.3 338.9h1.38M510.7 338.9h1.38M562 338.9h1.38M79.7 341.1h1.38M82.2 341.1h1.38M90.2 341.1h1.38M105.1 341.1h1.38M134 341.1h1.38M135 341.1h1.38M139 341.1h1.38M184.8 341.1h1.38M204.2 341.1h1.38M217.1 341.1h1.38M224.1 341.1h1.38M256.9 341.1h1.38M262.9 341.1h1.38M264.9 341.1h1.38M273.3 341.1h1.38M278.8 341.1h1.38M296.2 341.1h1.38M301.7 341.1h1.38M305.7 341.1h1.38M322.1 341.1h1.38M328.6 341.1h1.38M332.1 341.1h1.38M337.1 341.1h1.38M349 341.1h1.38M354.5 341.1h1.38M370.9 341.1h1.38M373.9 341.1h1.38M375.9 341.1h1.38M376.9 341.1h1.38M394.8 341.1h1.38M408.2 341.1h1.38M408.7 341.1h1.38M449.5 341.1h1.38M487.9 341.1h1.38M498.8 341.1h1.38M501.3 341.1h1.38M538.6 341.1h1.38M541.6 341.1h1.38M80.7 343.4h1.38M87.7 343.4h1.38M94.7 343.4h1.38M102.1 343.4h1.38M103.1 343.4h1.38M104.6 343.4h1.38M111.1 343.4h1.38M127 343.4h1.38M128.5 343.4h1.38M139.5 343.4h1.38M143.4 343.4h1.38M143.9 343.4h1.38M148.9 343.4h1.38M149.4 343.4h1.38M150.4 343.4h1.38M152.4 343.4h1.38M160.4 343.4h1.38M167.3 343.4h1.38M167.8 343.4h1.38M168.3 343.4h1.38M168.8 343.4h1.38M175.8 343.4h1.38M176.8 343.4h1.38M183.3 343.4h1.38M184.3 343.4h1.38M184.8 343.4h1.38M185.8 343.4h1.38M187.7 343.4h1.38M191.7 343.4h1.38M205.2 343.4h1.38M210.6 343.4h1.38M217.1 343.4h1.38M217.6 343.4h1.38M223.6 343.4h1.38M230.5 343.4h1.38M234.5 343.4h1.38M238.5 343.4h1.38M240.5 343.4h1.38M241 343.4h1.38M241.5 343.4h1.38M242.5 343.4h1.38M247 343.4h1.38M252.4 343.4h1.38M254.9 343.4h1.38M260.9 343.4h1.38M268.9 343.4h1.38M273.3 343.4h1.38M276.8 343.4h1.38M277.8 343.4h1.38M286.8 343.4h1.38M287.8 343.4h1.38M291.3 343.4h1.38M291.8 343.4h1.38M298.2 343.4h1.38M303.2 343.4h1.38M304.7 343.4h1.38M305.7 343.4h1.38M310.2 343.4h1.38M312.7 343.4h1.38M314.7 343.4h1.38M320.6 343.4h1.38M322.6 343.4h1.38M324.6 343.4h1.38M330.1 343.4h1.38M335.1 343.4h1.38M337.6 343.4h1.38M344 343.4h1.38M346 343.4h1.38M349.5 343.4h1.38M353.5 343.4h1.38M363.4 343.4h1.38M367.9 343.4h1.38M374.4 343.4h1.38M375.9 343.4h1.38M377.9 343.4h1.38M390.3 343.4h1.38M392.8 343.4h1.38M393.8 343.4h1.38M395.8 343.4h1.38M402.3 343.4h1.38M403.7 343.4h1.38M404.7 343.4h1.38M405.2 343.4h1.38M417.7 343.4h1.38M422.2 343.4h1.38M433.6 343.4h1.38M438.6 343.4h1.38M440.6 343.4h1.38M461 343.4h1.38M466.5 343.4h1.38M467.9 343.4h1.38M469.9 343.4h1.38M475.9 343.4h1.38M477.4 343.4h1.38M486.9 343.4h1.38M487.4 343.4h1.38M488.4 343.4h1.38M490.8 343.4h1.38M506.8 343.4h1.38M509.3 343.4h1.38M511.2 343.4h1.38M518.7 343.4h1.38M521.7 343.4h1.38M528.2 343.4h1.38M534.1 343.4h1.38M534.6 343.4h1.38M538.6 343.4h1.38M547.1 343.4h1.38M553.1 343.4h1.38M555 343.4h1.38M559 343.4h1.38M564 343.4h1.38M568.5 343.4h1.38M85.2 345.6h1.38M121.1 345.6h1.38M142 345.6h1.38M146.4 345.6h1.38M203.2 345.6h1.38M208.1 345.6h1.38M210.6 345.6h1.38M218.6 345.6h1.38M229.5 345.6h1.38M230.5 345.6h1.38M246 345.6h1.38M251.4 345.6h1.38M251.9 345.6h1.38M254.9 345.6h1.38M261.9 345.6h1.38M265.4 345.6h1.38M266.9 345.6h1.38M272.4 345.6h1.38M277.8 345.6h1.38M282.8 345.6h1.38M286.3 345.6h1.38M297.7 345.6h1.38M305.7 345.6h1.38M308.7 345.6h1.38M318.1 345.6h1.38M327.1 345.6h1.38M331.1 345.6h1.38M349.5 345.6h1.38M350 345.6h1.38M362.4 345.6h1.38M363.9 345.6h1.38M382.3 345.6h1.38M387.8 345.6h1.38M388.3 345.6h1.38M401.3 345.6h1.38M402.7 345.6h1.38M439.1 345.6h1.38M448.5 345.6h1.38M462.5 345.6h1.38M469.9 345.6h1.38M480.4 345.6h1.38M490.3 345.6h1.38M492.3 345.6h1.38M515.2 345.6h1.38M519.7 345.6h1.38M547.1 345.6h1.38M558 345.6h1.38M88.7 347.9h1.38M119.1 347.9h1.38M130.5 347.9h1.38M136 347.9h1.38M137 347.9h1.38M166.3 347.9h1.38M170.3 347.9h1.38M196.7 347.9h1.38M200.2 347.9h1.38M205.2 347.9h1.38M213.6 347.9h1.38M216.6 347.9h1.38M226.6 347.9h1.38M227.1 347.9h1.38M238.5 347.9h1.38M259.4 347.9h1.38M290.3 347.9h1.38M292.8 347.9h1.38M302.7 347.9h1.38M319.1 347.9h1.38M322.6 347.9h1.38M335.6 347.9h1.38M337.6 347.9h1.38M340.5 347.9h1.38M350 347.9h1.38M354.5 347.9h1.38M377.9 347.9h1.38M386.8 347.9h1.38M425.1 347.9h1.38M427.6 347.9h1.38M443.1 347.9h1.38M443.6 347.9h1.38M451.5 347.9h1.38M455 347.9h1.38M473.4 347.9h1.38M488.9 347.9h1.38M508.3 347.9h1.38M523.2 347.9h1.38M528.7 347.9h1.38M86.2 350.2h1.38M90.2 350.2h1.38M122 350.2h1.38M139.5 350.2h1.38M157.4 350.2h1.38M166.8 350.2h1.38M169.3 350.2h1.38M175.8 350.2h1.38M184.8 350.2h1.38M199.7 350.2h1.38M220.6 350.2h1.38M229.1 350.2h1.38M275.3 350.2h1.38M281.8 350.2h1.38M282.3 350.2h1.38M301.7 350.2h1.38M316.6 350.2h1.38M318.1 350.2h1.38M318.6 350.2h1.38M319.6 350.2h1.38M321.6 350.2h1.38M325.6 350.2h1.38M333.6 350.2h1.38M343.5 350.2h1.38M344.5 350.2h1.38M346 350.2h1.38M349.5 350.2h1.38M359 350.2h1.38M362.4 350.2h1.38M363.9 350.2h1.38M366.4 350.2h1.38M369.4 350.2h1.38M376.9 350.2h1.38M389.8 350.2h1.38M399.3 350.2h1.38M407.7 350.2h1.38M412.7 350.2h1.38M425.1 350.2h1.38M425.6 350.2h1.38M429.1 350.2h1.38M455.5 350.2h1.38M471.4 350.2h1.38M481.9 350.2h1.38M486.4 350.2h1.38M496.3 350.2h1.38M520.2 350.2h1.38M553.1 350.2h1.38M553.6 350.2h1.38M79.2 352.4h1.38M86.7 352.4h1.38M88.2 352.4h1.38M93.2 352.4h1.38M95.7 352.4h1.38M97.2 352.4h1.38M102.6 352.4h1.38M104.6 352.4h1.38M110.6 352.4h1.38M115.6 352.4h1.38M120.6 352.4h1.38M127 352.4h1.38M129.5 352.4h1.38M134 352.4h1.38M137 352.4h1.38M137.5 352.4h1.38M146.9 352.4h1.38M151.4 352.4h1.38M154.9 352.4h1.38M155.4 352.4h1.38M164.8 352.4h1.38M169.3 352.4h1.38M170.3 352.4h1.38M172.3 352.4h1.38M175.3 352.4h1.38M181.3 352.4h1.38M181.8 352.4h1.38M184.8 352.4h1.38M185.8 352.4h1.38M188.2 352.4h1.38M203.2 352.4h1.38M203.7 352.4h1.38M204.2 352.4h1.38M207.7 352.4h1.38M211.6 352.4h1.38M215.1 352.4h1.38M215.6 352.4h1.38M218.1 352.4h1.38M223.1 352.4h1.38M227.6 352.4h1.38M229.1 352.4h1.38M242.5 352.4h1.38M243 352.4h1.38M245 352.4h1.38M252.9 352.4h1.38M257.4 352.4h1.38M259.4 352.4h1.38M265.4 352.4h1.38M270.9 352.4h1.38M281.8 352.4h1.38M282.3 352.4h1.38M283.8 352.4h1.38M287.3 352.4h1.38M287.8 352.4h1.38M289.8 352.4h1.38M296.7 352.4h1.38M302.2 352.4h1.38M303.2 352.4h1.38M309.2 352.4h1.38M313.7 352.4h1.38M317.6 352.4h1.38M326.1 352.4h1.38M326.6 352.4h1.38M328.1 352.4h1.38M330.6 352.4h1.38M335.1 352.4h1.38M340.5 352.4h1.38M345 352.4h1.38M349 352.4h1.38M372.4 352.4h1.38M374.4 352.4h1.38M384.8 352.4h1.38M387.3 352.4h1.38M388.8 352.4h1.38M390.8 352.4h1.38M399.8 352.4h1.38M401.8 352.4h1.38M404.7 352.4h1.38M411.2 352.4h1.38M420.2 352.4h1.38M422.7 352.4h1.38M442.6 352.4h1.38M448.5 352.4h1.38M464.5 352.4h1.38M468.9 352.4h1.38M481.9 352.4h1.38M486.4 352.4h1.38M491.3 352.4h1.38M492.3 352.4h1.38M493.8 352.4h1.38M499.8 352.4h1.38M501.3 352.4h1.38M509.3 352.4h1.38M525.2 352.4h1.38M542.1 352.4h1.38M549.1 352.4h1.38M556.5 352.4h1.38M567.5 352.4h1.38M121.5 354.7h1.38M125 354.7h1.38M220.6 354.7h1.38M258.4 354.7h1.38M302.7 354.7h1.38M305.2 354.7h1.38M305.7 354.7h1.38M307.7 354.7h1.38M308.7 354.7h1.38M310.2 354.7h1.38M310.7 354.7h1.38M311.2 354.7h1.38M324.1 354.7h1.38M334.6 354.7h1.38M347.5 354.7h1.38M358 354.7h1.38M366.9 354.7h1.38M368.4 354.7h1.38M370.9 354.7h1.38M390.3 354.7h1.38M393.3 354.7h1.38M399.8 354.7h1.38M405.2 354.7h1.38M405.7 354.7h1.38M418.7 354.7h1.38M420.7 354.7h1.38M441.6 354.7h1.38M450 354.7h1.38M463 354.7h1.38M479.9 354.7h1.38M483.4 354.7h1.38M487.4 354.7h1.38M504.8 354.7h1.38M524.2 354.7h1.38M545.1 354.7h1.38M545.6 354.7h1.38M551.1 354.7h1.38M87.2 356.9h1.38M109.1 356.9h1.38M131.5 356.9h1.38M132.5 356.9h1.38M136 356.9h1.38M137.5 356.9h1.38M161.9 356.9h1.38M170.8 356.9h1.38M175.3 356.9h1.38M207.2 356.9h1.38M223.6 356.9h1.38M239 356.9h1.38M251.9 356.9h1.38M277.8 356.9h1.38M292.3 356.9h1.38M312.7 356.9h1.38M315.7 356.9h1.38M318.1 356.9h1.38M321.6 356.9h1.38M334.1 356.9h1.38M339 356.9h1.38M344 356.9h1.38M347.5 356.9h1.38M359 356.9h1.38M390.3 356.9h1.38M392.3 356.9h1.38M403.2 356.9h1.38M434.1 356.9h1.38M439.6 356.9h1.38M448 356.9h1.38M471.4 356.9h1.38M482.4 356.9h1.38M487.9 356.9h1.38M506.8 356.9h1.38M528.7 356.9h1.38M548.1 356.9h1.38M555 356.9h1.38M81.2 359.2h1.38M84.7 359.2h1.38M89.2 359.2h1.38M92.7 359.2h1.38M96.7 359.2h1.38M100.1 359.2h1.38M106.6 359.2h1.38M123.5 359.2h1.38M125 359.2h1.38M129 359.2h1.38M130.5 359.2h1.38M133.5 359.2h1.38M146.9 359.2h1.38M154.4 359.2h1.38M155.9 359.2h1.38M159.9 359.2h1.38M164.8 359.2h1.38M173.8 359.2h1.38M179.8 359.2h1.38M190.7 359.2h1.38M203.2 359.2h1.38M204.7 359.2h1.38M206.2 359.2h1.38M208.1 359.2h1.38M228.6 359.2h1.38M235.5 359.2h1.38M239 359.2h1.38M242.5 359.2h1.38M244 359.2h1.38M253.4 359.2h1.38M271.9 359.2h1.38M276.3 359.2h1.38M276.8 359.2h1.38M279.8 359.2h1.38M282.8 359.2h1.38M289.3 359.2h1.38M292.3 359.2h1.38M294.3 359.2h1.38M298.2 359.2h1.38M304.7 359.2h1.38M309.2 359.2h1.38M315.2 359.2h1.38M317.6 359.2h1.38M318.1 359.2h1.38M320.1 359.2h1.38M329.6 359.2h1.38M333.1 359.2h1.38M334.6 359.2h1.38M339 359.2h1.38M340.5 359.2h1.38M347.5 359.2h1.38M348.5 359.2h1.38M352 359.2h1.38M353.5 359.2h1.38M354 359.2h1.38M356 359.2h1.38M357.5 359.2h1.38M360.4 359.2h1.38M363.4 359.2h1.38M366.4 359.2h1.38M375.9 359.2h1.38M378.9 359.2h1.38M381.3 359.2h1.38M383.3 359.2h1.38M385.8 359.2h1.38M386.8 359.2h1.38M397.3 359.2h1.38M404.2 359.2h1.38M405.2 359.2h1.38M405.7 359.2h1.38M406.2 359.2h1.38M406.7 359.2h1.38M415.2 359.2h1.38M416.7 359.2h1.38M417.2 359.2h1.38M437.6 359.2h1.38M438.1 359.2h1.38M440.1 359.2h1.38M441.1 359.2h1.38M442.1 359.2h1.38M449.5 359.2h1.38M450 359.2h1.38M459 359.2h1.38M461 359.2h1.38M466.5 359.2h1.38M467.4 359.2h1.38M469.9 359.2h1.38M476.9 359.2h1.38M497.8 359.2h1.38M510.7 359.2h1.38M526.2 359.2h1.38M526.7 359.2h1.38M542.1 359.2h1.38M554 359.2h1.38M555 359.2h1.38M113.1 361.5h1.38M115.6 361.5h1.38M123 361.5h1.38M134 361.5h1.38M143.9 361.5h1.38M169.3 361.5h1.38M222.1 361.5h1.38M225.6 361.5h1.38M239.5 361.5h1.38M246.5 361.5h1.38M256.9 361.5h1.38M261.9 361.5h1.38M275.3 361.5h1.38M276.3 361.5h1.38M278.8 361.5h1.38M293.8 361.5h1.38M295.2 361.5h1.38M298.7 361.5h1.38M303.7 361.5h1.38M309.7 361.5h1.38M310.7 361.5h1.38M317.1 361.5h1.38M322.1 361.5h1.38M323.1 361.5h1.38M330.1 361.5h1.38M332.1 361.5h1.38M334.6 361.5h1.38M337.6 361.5h1.38M339 361.5h1.38M340 361.5h1.38M346.5 361.5h1.38M349.5 361.5h1.38M352 361.5h1.38M359 361.5h1.38M370.9 361.5h1.38M376.4 361.5h1.38M392.3 361.5h1.38M400.8 361.5h1.38M407.7 361.5h1.38M412.2 361.5h1.38M418.7 361.5h1.38M446.5 361.5h1.38M472.4 361.5h1.38M477.9 361.5h1.38M482.9 361.5h1.38M499.3 361.5h1.38M534.1 361.5h1.38M551.1 361.5h1.38M80.2 363.7h1.38M134.5 363.7h1.38M147.9 363.7h1.38M165.8 363.7h1.38M185.3 363.7h1.38M189.2 363.7h1.38M189.7 363.7h1.38M240.5 363.7h1.38M246 363.7h1.38M258.9 363.7h1.38M261.9 363.7h1.38M262.9 363.7h1.38M277.3 363.7h1.38M278.3 363.7h1.38M279.3 363.7h1.38M291.3 363.7h1.38M291.8 363.7h1.38M304.7 363.7h1.38M309.7 363.7h1.38M310.7 363.7h1.38M312.7 363.7h1.38M314.7 363.7h1.38M342 363.7h1.38M343.5 363.7h1.38M344.5 363.7h1.38M350.5 363.7h1.38M353 363.7h1.38M357 363.7h1.38M359.4 363.7h1.38M386.3 363.7h1.38M387.3 363.7h1.38M388.3 363.7h1.38M394.3 363.7h1.38M406.2 363.7h1.38M421.7 363.7h1.38M425.1 363.7h1.38M438.6 363.7h1.38M442.1 363.7h1.38M483.4 363.7h1.38M518.7 363.7h1.38M530.7 363.7h1.38M539.1 363.7h1.38M549.6 363.7h1.38M561 363.7h1.38M84.2 366h1.38M92.7 366h1.38M114.6 366h1.38M126.5 366h1.38M168.8 366h1.38M197.2 366h1.38M199.7 366h1.38M208.6 366h1.38M211.1 366h1.38M224.6 366h1.38M238 366h1.38M245 366h1.38M257.9 366h1.38M283.8 366h1.38M285.3 366h1.38M290.3 366h1.38M291.3 366h1.38M295.2 366h1.38M295.7 366h1.38M299.2 366h1.38M299.7 366h1.38M306.2 366h1.38M316.6 366h1.38M332.6 366h1.38M338 366h1.38M338.5 366h1.38M343 366h1.38M353.5 366h1.38M363.9 366h1.38M365.9 366h1.38M369.4 366h1.38M370.9 366h1.38M371.4 366h1.38M373.9 366h1.38M398.3 366h1.38M405.7 366h1.38M411.2 366h1.38M433.6 366h1.38M492.3 366h1.38M499.8 366h1.38M509.3 366h1.38M524.2 366h1.38M79.2 368.2h1.38M83.2 368.2h1.38M88.2 368.2h1.38M91.2 368.2h1.38M109.1 368.2h1.38M114.1 368.2h1.38M119.1 368.2h1.38M123 368.2h1.38M129.5 368.2h1.38M141 368.2h1.38M150.4 368.2h1.38M150.9 368.2h1.38M152.9 368.2h1.38M154.4 368.2h1.38M161.4 368.2h1.38M162.4 368.2h1.38M166.8 368.2h1.38M175.3 368.2h1.38M189.7 368.2h1.38M190.7 368.2h1.38M201.7 368.2h1.38M208.6 368.2h1.38M210.6 368.2h1.38M211.6 368.2h1.38M221.1 368.2h1.38M225.6 368.2h1.38M230 368.2h1.38M232.5 368.2h1.38M235.5 368.2h1.38M239.5 368.2h1.38M241 368.2h1.38M241.5 368.2h1.38M244 368.2h1.38M246.5 368.2h1.38M247.5 368.2h1.38M253.9 368.2h1.38M261.9 368.2h1.38M276.3 368.2h1.38M290.3 368.2h1.38M299.7 368.2h1.38M300.7 368.2h1.38M303.2 368.2h1.38M303.7 368.2h1.38M309.2 368.2h1.38M311.2 368.2h1.38M313.2 368.2h1.38M315.7 368.2h1.38M322.6 368.2h1.38M325.6 368.2h1.38M336.6 368.2h1.38M338 368.2h1.38M341 368.2h1.38M347 368.2h1.38M355 368.2h1.38M359 368.2h1.38M362.4 368.2h1.38M363.4 368.2h1.38M370.9 368.2h1.38M371.4 368.2h1.38M371.9 368.2h1.38M378.4 368.2h1.38M382.8 368.2h1.38M395.8 368.2h1.38M402.7 368.2h1.38M410.7 368.2h1.38M414.7 368.2h1.38M417.7 368.2h1.38M425.6 368.2h1.38M427.1 368.2h1.38M433.1 368.2h1.38M439.1 368.2h1.38M455 368.2h1.38M455.5 368.2h1.38M459 368.2h1.38M461.5 368.2h1.38M464 368.2h1.38M467 368.2h1.38M469.9 368.2h1.38M477.4 368.2h1.38M495.3 368.2h1.38M499.8 368.2h1.38M503.3 368.2h1.38M512.2 368.2h1.38M512.7 368.2h1.38M518.2 368.2h1.38M519.2 368.2h1.38M519.7 368.2h1.38M530.2 368.2h1.38M533.6 368.2h1.38M535.6 368.2h1.38M537.1 368.2h1.38M550.6 368.2h1.38M557.5 368.2h1.38M566.5 368.2h1.38M79.7 370.5h1.38M84.2 370.5h1.38M95.7 370.5h1.38M96.7 370.5h1.38M98.7 370.5h1.38M107.1 370.5h1.38M126.5 370.5h1.38M134 370.5h1.38M138.5 370.5h1.38M141.5 370.5h1.38M146.9 370.5h1.38M177.8 370.5h1.38M192.2 370.5h1.38M206.7 370.5h1.38M231 370.5h1.38M246.5 370.5h1.38M253.9 370.5h1.38M258.9 370.5h1.38M262.4 370.5h1.38M276.8 370.5h1.38M278.8 370.5h1.38M309.7 370.5h1.38M314.2 370.5h1.38M316.1 370.5h1.38M319.1 370.5h1.38M325.1 370.5h1.38M331.1 370.5h1.38M332.6 370.5h1.38M335.6 370.5h1.38M338.5 370.5h1.38M339.5 370.5h1.38M345 370.5h1.38M350 370.5h1.38M373.4 370.5h1.38M381.8 370.5h1.38M404.2 370.5h1.38M412.2 370.5h1.38M448.5 370.5h1.38M471.9 370.5h1.38M534.1 370.5h1.38M78.2 372.8h1.38M94.2 372.8h1.38M116.6 372.8h1.38M120.6 372.8h1.38M129.5 372.8h1.38M138 372.8h1.38M146.4 372.8h1.38M176.3 372.8h1.38M185.3 372.8h1.38M185.8 372.8h1.38M214.6 372.8h1.38M255.9 372.8h1.38M259.4 372.8h1.38M269.9 372.8h1.38M270.4 372.8h1.38M274.3 372.8h1.38M274.8 372.8h1.38M284.3 372.8h1.38M284.8 372.8h1.38M294.7 372.8h1.38M297.7 372.8h1.38M298.2 372.8h1.38M301.2 372.8h1.38M306.2 372.8h1.38M321.6 372.8h1.38M327.1 372.8h1.38M341 372.8h1.38M344.5 372.8h1.38M346.5 372.8h1.38M347 372.8h1.38M347.5 372.8h1.38M352.5 372.8h1.38M353.5 372.8h1.38M356.5 372.8h1.38M374.9 372.8h1.38M377.4 372.8h1.38M384.8 372.8h1.38M385.3 372.8h1.38M472.9 372.8h1.38M477.4 372.8h1.38M508.3 372.8h1.38M518.7 372.8h1.38M544.6 372.8h1.38M550.6 372.8h1.38M85.7 375h1.38M88.7 375h1.38M110.6 375h1.38M112.6 375h1.38M120.6 375h1.38M128 375h1.38M128.5 375h1.38M130.5 375h1.38M136 375h1.38M151.4 375h1.38M153.9 375h1.38M154.4 375h1.38M160.4 375h1.38M166.3 375h1.38M170.8 375h1.38M175.8 375h1.38M179.8 375h1.38M181.3 375h1.38M188.2 375h1.38M188.7 375h1.38M190.7 375h1.38M201.2 375h1.38M203.7 375h1.38M205.7 375h1.38M208.6 375h1.38M236 375h1.38M238.5 375h1.38M253.9 375h1.38M259.4 375h1.38M263.4 375h1.38M266.9 375h1.38M268.4 375h1.38M274.3 375h1.38M277.8 375h1.38M278.3 375h1.38M289.8 375h1.38M290.8 375h1.38M295.2 375h1.38M297.7 375h1.38M309.7 375h1.38M314.2 375h1.38M316.1 375h1.38M316.6 375h1.38M320.6 375h1.38M323.1 375h1.38M324.6 375h1.38M327.1 375h1.38M328.6 375h1.38M332.1 375h1.38M337.6 375h1.38M342 375h1.38M346.5 375h1.38M349.5 375h1.38M353 375h1.38M354.5 375h1.38M356.5 375h1.38M358.5 375h1.38M359 375h1.38M361.4 375h1.38M363.4 375h1.38M365.4 375h1.38M372.9 375h1.38M382.3 375h1.38M383.8 375h1.38M403.2 375h1.38M409.2 375h1.38M419.7 375h1.38M423.2 375h1.38M423.7 375h1.38M424.6 375h1.38M428.6 375h1.38M429.1 375h1.38M432.1 375h1.38M440.6 375h1.38M448.5 375h1.38M450.5 375h1.38M468.4 375h1.38M470.9 375h1.38M483.4 375h1.38M498.8 375h1.38M504.3 375h1.38M520.7 375h1.38M536.1 375h1.38M548.6 375h1.38M554 375h1.38M554.5 375h1.38M556.5 375h1.38M566.5 375h1.38M567 375h1.38M91.2 377.3h1.38M95.2 377.3h1.38M114.1 377.3h1.38M189.7 377.3h1.38M234.5 377.3h1.38M247 377.3h1.38M265.9 377.3h1.38M287.3 377.3h1.38M291.8 377.3h1.38M296.2 377.3h1.38M297.2 377.3h1.38M303.2 377.3h1.38M304.2 377.3h1.38M327.1 377.3h1.38M332.6 377.3h1.38M338.5 377.3h1.38M344 377.3h1.38M351.5 377.3h1.38M358 377.3h1.38M369.9 377.3h1.38M370.9 377.3h1.38M375.4 377.3h1.38M387.8 377.3h1.38M428.1 377.3h1.38M430.1 377.3h1.38M484.4 377.3h1.38M520.7 377.3h1.38M538.6 377.3h1.38M550.6 377.3h1.38M557 377.3h1.38M570.5 377.3h1.38M87.2 379.6h1.38M133 379.6h1.38M196.2 379.6h1.38M198.2 379.6h1.38M252.4 379.6h1.38M253.4 379.6h1.38M259.4 379.6h1.38M260.9 379.6h1.38M284.3 379.6h1.38M288.3 379.6h1.38M292.3 379.6h1.38M295.7 379.6h1.38M297.7 379.6h1.38M303.2 379.6h1.38M304.2 379.6h1.38M305.7 379.6h1.38M311.2 379.6h1.38M315.2 379.6h1.38M316.6 379.6h1.38M317.6 379.6h1.38M321.1 379.6h1.38M327.6 379.6h1.38M328.1 379.6h1.38M330.6 379.6h1.38M332.6 379.6h1.38M333.6 379.6h1.38M341.5 379.6h1.38M345 379.6h1.38M349.5 379.6h1.38M352.5 379.6h1.38M365.4 379.6h1.38M369.9 379.6h1.38M372.9 379.6h1.38M384.8 379.6h1.38M385.3 379.6h1.38M388.3 379.6h1.38M427.1 379.6h1.38M452 379.6h1.38M482.4 379.6h1.38M534.6 379.6h1.38M81.2 381.8h1.38M104.1 381.8h1.38M109.6 381.8h1.38M216.1 381.8h1.38M216.6 381.8h1.38M219.6 381.8h1.38M224.1 381.8h1.38M255.9 381.8h1.38M264.4 381.8h1.38M286.3 381.8h1.38M290.8 381.8h1.38M294.7 381.8h1.38M297.2 381.8h1.38M314.2 381.8h1.38M319.6 381.8h1.38M323.6 381.8h1.38M327.6 381.8h1.38M328.6 381.8h1.38M330.6 381.8h1.38M335.1 381.8h1.38M338 381.8h1.38M339.5 381.8h1.38M346.5 381.8h1.38M350 381.8h1.38M367.4 381.8h1.38M374.9 381.8h1.38M392.3 381.8h1.38M396.8 381.8h1.38M408.7 381.8h1.38M417.2 381.8h1.38M421.7 381.8h1.38M482.9 381.8h1.38M567.5 381.8h1.38M78.7 384.1h1.38M80.2 384.1h1.38M82.2 384.1h1.38M84.2 384.1h1.38M90.7 384.1h1.38M94.7 384.1h1.38M98.7 384.1h1.38M103.6 384.1h1.38M106.6 384.1h1.38M112.1 384.1h1.38M126.5 384.1h1.38M129.5 384.1h1.38M134.5 384.1h1.38M135 384.1h1.38M151.9 384.1h1.38M155.9 384.1h1.38M158.4 384.1h1.38M172.8 384.1h1.38M174.8 384.1h1.38M177.3 384.1h1.38M205.2 384.1h1.38M211.1 384.1h1.38M213.1 384.1h1.38M217.6 384.1h1.38M218.1 384.1h1.38M220.1 384.1h1.38M226.1 384.1h1.38M231 384.1h1.38M232 384.1h1.38M235.5 384.1h1.38M238.5 384.1h1.38M239.5 384.1h1.38M245.5 384.1h1.38M248.5 384.1h1.38M252.9 384.1h1.38M256.4 384.1h1.38M262.4 384.1h1.38M267.9 384.1h1.38M270.9 384.1h1.38M277.3 384.1h1.38M282.8 384.1h1.38M290.8 384.1h1.38M291.3 384.1h1.38M304.2 384.1h1.38M312.2 384.1h1.38M314.7 384.1h1.38M320.6 384.1h1.38M323.1 384.1h1.38M325.1 384.1h1.38M329.1 384.1h1.38M336.1 384.1h1.38M339 384.1h1.38M339.5 384.1h1.38M343.5 384.1h1.38M358.5 384.1h1.38M363.9 384.1h1.38M381.8 384.1h1.38M384.3 384.1h1.38M398.8 384.1h1.38M410.7 384.1h1.38M416.2 384.1h1.38M417.7 384.1h1.38M419.7 384.1h1.38M434.6 384.1h1.38M436.1 384.1h1.38M436.6 384.1h1.38M440.1 384.1h1.38M441.6 384.1h1.38M442.1 384.1h1.38M446 384.1h1.38M446.5 384.1h1.38M449.5 384.1h1.38M456 384.1h1.38M464 384.1h1.38M474.9 384.1h1.38M477.9 384.1h1.38M489.3 384.1h1.38M489.8 384.1h1.38M494.8 384.1h1.38M507.8 384.1h1.38M511.7 384.1h1.38M514.2 384.1h1.38M516.2 384.1h1.38M516.7 384.1h1.38M518.2 384.1h1.38M523.2 384.1h1.38M544.1 384.1h1.38M546.6 384.1h1.38M551.1 384.1h1.38M560 384.1h1.38M565.5 384.1h1.38M567 384.1h1.38M99.6 386.3h1.38M142.9 386.3h1.38M160.9 386.3h1.38M203.7 386.3h1.38M207.2 386.3h1.38M226.6 386.3h1.38M240.5 386.3h1.38M254.9 386.3h1.38M275.8 386.3h1.38M280.8 386.3h1.38M283.3 386.3h1.38M290.3 386.3h1.38M293.8 386.3h1.38M296.2 386.3h1.38M296.7 386.3h1.38M309.7 386.3h1.38M317.6 386.3h1.38M320.6 386.3h1.38M329.6 386.3h1.38M337.1 386.3h1.38M347 386.3h1.38M360.9 386.3h1.38M370.9 386.3h1.38M375.4 386.3h1.38M378.4 386.3h1.38M379.9 386.3h1.38M385.8 386.3h1.38M389.8 386.3h1.38M479.4 386.3h1.38M522.2 386.3h1.38M92.7 388.6h1.38M100.1 388.6h1.38M107.1 388.6h1.38M119.1 388.6h1.38M142.5 388.6h1.38M152.4 388.6h1.38M183.8 388.6h1.38M190.2 388.6h1.38M195.2 388.6h1.38M268.4 388.6h1.38M278.8 388.6h1.38M290.3 388.6h1.38M301.2 388.6h1.38M305.2 388.6h1.38M312.2 388.6h1.38M321.6 388.6h1.38M327.6 388.6h1.38M333.6 388.6h1.38M357.5 388.6h1.38M361.4 388.6h1.38M373.9 388.6h1.38M402.3 388.6h1.38M406.2 388.6h1.38M433.1 388.6h1.38M436.1 388.6h1.38M443.6 388.6h1.38M454.5 388.6h1.38M470.4 388.6h1.38M507.8 388.6h1.38M558 388.6h1.38M95.7 390.9h1.38M108.1 390.9h1.38M137 390.9h1.38M172.3 390.9h1.38M212.1 390.9h1.38M221.1 390.9h1.38M234.5 390.9h1.38M252.9 390.9h1.38M263.4 390.9h1.38M264.9 390.9h1.38M266.4 390.9h1.38M277.3 390.9h1.38M281.3 390.9h1.38M295.2 390.9h1.38M301.7 390.9h1.38M316.6 390.9h1.38M323.1 390.9h1.38M324.1 390.9h1.38M347 390.9h1.38M353 390.9h1.38M359 390.9h1.38M359.9 390.9h1.38M360.4 390.9h1.38M368.4 390.9h1.38M369.4 390.9h1.38M370.4 390.9h1.38M377.4 390.9h1.38M381.8 390.9h1.38M402.3 390.9h1.38M412.2 390.9h1.38M456.5 390.9h1.38M504.8 390.9h1.38M509.8 390.9h1.38M532.6 390.9h1.38M569 390.9h1.38M95.2 393.1h1.38M98.7 393.1h1.38M99.6 393.1h1.38M114.1 393.1h1.38M130 393.1h1.38M149.4 393.1h1.38M155.4 393.1h1.38M159.4 393.1h1.38M161.4 393.1h1.38M171.3 393.1h1.38M180.3 393.1h1.38M198.2 393.1h1.38M224.6 393.1h1.38M242 393.1h1.38M243 393.1h1.38M244 393.1h1.38M249 393.1h1.38M254.9 393.1h1.38M258.9 393.1h1.38M266.9 393.1h1.38M271.4 393.1h1.38M287.8 393.1h1.38M292.3 393.1h1.38M295.2 393.1h1.38M295.7 393.1h1.38M298.2 393.1h1.38M299.2 393.1h1.38M299.7 393.1h1.38M302.7 393.1h1.38M303.2 393.1h1.38M305.2 393.1h1.38M306.7 393.1h1.38M307.2 393.1h1.38M309.7 393.1h1.38M310.7 393.1h1.38M314.7 393.1h1.38M323.6 393.1h1.38M324.6 393.1h1.38M330.6 393.1h1.38M334.1 393.1h1.38M355 393.1h1.38M357.5 393.1h1.38M362.9 393.1h1.38M363.4 393.1h1.38M364.9 393.1h1.38M373.9 393.1h1.38M376.4 393.1h1.38M392.3 393.1h1.38M395.3 393.1h1.38M395.8 393.1h1.38M396.3 393.1h1.38M399.3 393.1h1.38M400.8 393.1h1.38M405.2 393.1h1.38M413.7 393.1h1.38M415.7 393.1h1.38M424.6 393.1h1.38M440.1 393.1h1.38M444.6 393.1h1.38M452.5 393.1h1.38M454 393.1h1.38M457.5 393.1h1.38M458.5 393.1h1.38M460 393.1h1.38M462.5 393.1h1.38M467 393.1h1.38M484.9 393.1h1.38M493.8 393.1h1.38M494.3 393.1h1.38M506.8 393.1h1.38M520.7 393.1h1.38M521.2 393.1h1.38M521.7 393.1h1.38M522.2 393.1h1.38M524.7 393.1h1.38M526.2 393.1h1.38M529.2 393.1h1.38M530.2 393.1h1.38M535.1 393.1h1.38M537.6 393.1h1.38M538.1 393.1h1.38M545.6 393.1h1.38M551.1 393.1h1.38M559.5 393.1h1.38M562.5 393.1h1.38M81.7 395.4h1.38M88.2 395.4h1.38M90.2 395.4h1.38M98.7 395.4h1.38M112.6 395.4h1.38M143.9 395.4h1.38M145.4 395.4h1.38M152.4 395.4h1.38M160.4 395.4h1.38M163.9 395.4h1.38M206.7 395.4h1.38M254.4 395.4h1.38M266.4 395.4h1.38M272.8 395.4h1.38M273.3 395.4h1.38M291.3 395.4h1.38M291.8 395.4h1.38M298.2 395.4h1.38M299.7 395.4h1.38M301.7 395.4h1.38M317.6 395.4h1.38M322.6 395.4h1.38M324.6 395.4h1.38M330.1 395.4h1.38M334.6 395.4h1.38M339 395.4h1.38M344 395.4h1.38M350.5 395.4h1.38M359 395.4h1.38M366.9 395.4h1.38M390.3 395.4h1.38M398.8 395.4h1.38M411.2 395.4h1.38M435.1 395.4h1.38M484.9 395.4h1.38M499.3 395.4h1.38M542.6 395.4h1.38M555.5 395.4h1.38M80.2 397.6h1.38M105.1 397.6h1.38M119.6 397.6h1.38M142.9 397.6h1.38M206.2 397.6h1.38M210.1 397.6h1.38M250 397.6h1.38M269.9 397.6h1.38M278.8 397.6h1.38M282.3 397.6h1.38M287.3 397.6h1.38M291.3 397.6h1.38M296.7 397.6h1.38M305.2 397.6h1.38M306.7 397.6h1.38M323.1 397.6h1.38M329.6 397.6h1.38M334.1 397.6h1.38M346 397.6h1.38M348 397.6h1.38M353 397.6h1.38M353.5 397.6h1.38M367.4 397.6h1.38M369.9 397.6h1.38M370.9 397.6h1.38M391.8 397.6h1.38M406.2 397.6h1.38M412.2 397.6h1.38M412.7 397.6h1.38M434.1 397.6h1.38M437.6 397.6h1.38M440.1 397.6h1.38M521.2 397.6h1.38M538.6 397.6h1.38M541.1 397.6h1.38M104.1 399.9h1.38M105.6 399.9h1.38M112.1 399.9h1.38M113.1 399.9h1.38M116.1 399.9h1.38M123.5 399.9h1.38M130 399.9h1.38M134.5 399.9h1.38M135 399.9h1.38M137.5 399.9h1.38M155.9 399.9h1.38M156.9 399.9h1.38M164.4 399.9h1.38M171.8 399.9h1.38M182.3 399.9h1.38M186.2 399.9h1.38M202.7 399.9h1.38M213.6 399.9h1.38M220.1 399.9h1.38M230.5 399.9h1.38M231 399.9h1.38M233.5 399.9h1.38M234.5 399.9h1.38M235 399.9h1.38M235.5 399.9h1.38M236.5 399.9h1.38M237 399.9h1.38M254.4 399.9h1.38M265.9 399.9h1.38M271.4 399.9h1.38M273.3 399.9h1.38M276.3 399.9h1.38M283.3 399.9h1.38M283.8 399.9h1.38M289.3 399.9h1.38M292.3 399.9h1.38M294.7 399.9h1.38M299.7 399.9h1.38M309.2 399.9h1.38M314.2 399.9h1.38M326.6 399.9h1.38M327.6 399.9h1.38M335.6 399.9h1.38M340 399.9h1.38M340.5 399.9h1.38M343.5 399.9h1.38M348 399.9h1.38M352.5 399.9h1.38M353.5 399.9h1.38M359.9 399.9h1.38M361.4 399.9h1.38M365.4 399.9h1.38M365.9 399.9h1.38M382.8 399.9h1.38M389.3 399.9h1.38M390.3 399.9h1.38M391.8 399.9h1.38M394.8 399.9h1.38M406.7 399.9h1.38M408.7 399.9h1.38M411.7 399.9h1.38M413.2 399.9h1.38M418.2 399.9h1.38M422.2 399.9h1.38M427.6 399.9h1.38M429.6 399.9h1.38M430.6 399.9h1.38M446 399.9h1.38M449.5 399.9h1.38M452.5 399.9h1.38M454 399.9h1.38M461.5 399.9h1.38M468.9 399.9h1.38M476.4 399.9h1.38M477.4 399.9h1.38M477.9 399.9h1.38M479.4 399.9h1.38M479.9 399.9h1.38M484.4 399.9h1.38M492.8 399.9h1.38M493.8 399.9h1.38M499.3 399.9h1.38M501.3 399.9h1.38M505.3 399.9h1.38M511.2 399.9h1.38M512.2 399.9h1.38M512.7 399.9h1.38M513.7 399.9h1.38M517.7 399.9h1.38M520.2 399.9h1.38M528.2 399.9h1.38M535.1 399.9h1.38M556.5 399.9h1.38M560.5 399.9h1.38M562.5 399.9h1.38M116.1 402.2h1.38M126.5 402.2h1.38M162.9 402.2h1.38M181.3 402.2h1.38M236 402.2h1.38M242.5 402.2h1.38M246 402.2h1.38M256.4 402.2h1.38M279.8 402.2h1.38M287.8 402.2h1.38M288.3 402.2h1.38M297.2 402.2h1.38M306.2 402.2h1.38M334.6 402.2h1.38M338.5 402.2h1.38M354.5 402.2h1.38M355.5 402.2h1.38M372.4 402.2h1.38M379.4 402.2h1.38M381.3 402.2h1.38M385.8 402.2h1.38M389.3 402.2h1.38M389.8 402.2h1.38M427.1 402.2h1.38M431.6 402.2h1.38M437.1 402.2h1.38M447 402.2h1.38M462 402.2h1.38M462.5 402.2h1.38M481.4 402.2h1.38M490.3 402.2h1.38M547.6 402.2h1.38M552.6 402.2h1.38M553.1 402.2h1.38M108.1 404.4h1.38M117.1 404.4h1.38M117.6 404.4h1.38M135 404.4h1.38M157.9 404.4h1.38M172.8 404.4h1.38M192.7 404.4h1.38M193.2 404.4h1.38M213.6 404.4h1.38M220.6 404.4h1.38M221.1 404.4h1.38M221.6 404.4h1.38M277.8 404.4h1.38M279.3 404.4h1.38M289.8 404.4h1.38M292.8 404.4h1.38M301.2 404.4h1.38M306.2 404.4h1.38M308.2 404.4h1.38M310.2 404.4h1.38M314.7 404.4h1.38M317.1 404.4h1.38M324.1 404.4h1.38M325.1 404.4h1.38M330.1 404.4h1.38M331.6 404.4h1.38M338 404.4h1.38M353.5 404.4h1.38M375.4 404.4h1.38M380.9 404.4h1.38M381.8 404.4h1.38M387.8 404.4h1.38M422.7 404.4h1.38M436.1 404.4h1.38M452.5 404.4h1.38M484.4 404.4h1.38M490.8 404.4h1.38M514.2 404.4h1.38M519.7 404.4h1.38M542.6 404.4h1.38M77.8 406.7h1.38M82.2 406.7h1.38M105.1 406.7h1.38M107.1 406.7h1.38M126.5 406.7h1.38M159.4 406.7h1.38M170.3 406.7h1.38M171.3 406.7h1.38M190.2 406.7h1.38M211.6 406.7h1.38M212.6 406.7h1.38M221.1 406.7h1.38M229.5 406.7h1.38M253.4 406.7h1.38M263.4 406.7h1.38M266.4 406.7h1.38M284.3 406.7h1.38M287.3 406.7h1.38M295.2 406.7h1.38M306.2 406.7h1.38M316.1 406.7h1.38M324.6 406.7h1.38M335.1 406.7h1.38M344 406.7h1.38M353.5 406.7h1.38M371.4 406.7h1.38M431.1 406.7h1.38M432.1 406.7h1.38M436.1 406.7h1.38M458.5 406.7h1.38M482.4 406.7h1.38M509.3 406.7h1.38M531.7 406.7h1.38M79.2 408.9h1.38M81.7 408.9h1.38M90.7 408.9h1.38M92.2 408.9h1.38M97.2 408.9h1.38M98.7 408.9h1.38M101.1 408.9h1.38M104.1 408.9h1.38M111.6 408.9h1.38M112.1 408.9h1.38M115.6 408.9h1.38M119.6 408.9h1.38M125 408.9h1.38M126.5 408.9h1.38M128 408.9h1.38M130 408.9h1.38M140.5 408.9h1.38M144.4 408.9h1.38M144.9 408.9h1.38M147.4 408.9h1.38M151.9 408.9h1.38M155.9 408.9h1.38M157.4 408.9h1.38M168.8 408.9h1.38M171.8 408.9h1.38M173.3 408.9h1.38M174.3 408.9h1.38M185.8 408.9h1.38M196.7 408.9h1.38M211.1 408.9h1.38M214.1 408.9h1.38M232 408.9h1.38M235 408.9h1.38M240 408.9h1.38M240.5 408.9h1.38M245 408.9h1.38M258.4 408.9h1.38M259.4 408.9h1.38M262.9 408.9h1.38M267.4 408.9h1.38M276.3 408.9h1.38M277.8 408.9h1.38M283.8 408.9h1.38M286.3 408.9h1.38M302.2 408.9h1.38M302.7 408.9h1.38M307.2 408.9h1.38M308.7 408.9h1.38M315.7 408.9h1.38M317.1 408.9h1.38M335.1 408.9h1.38M340.5 408.9h1.38M341.5 408.9h1.38M344 408.9h1.38M348.5 408.9h1.38M354 408.9h1.38M358 408.9h1.38M361.9 408.9h1.38M363.9 408.9h1.38M365.4 408.9h1.38M379.4 408.9h1.38M379.9 408.9h1.38M387.8 408.9h1.38M397.3 408.9h1.38M399.8 408.9h1.38M402.7 408.9h1.38M403.7 408.9h1.38M410.2 408.9h1.38M417.2 408.9h1.38M419.7 408.9h1.38M424.2 408.9h1.38M425.1 408.9h1.38M431.1 408.9h1.38M435.1 408.9h1.38M442.1 408.9h1.38M444.1 408.9h1.38M455 408.9h1.38M455.5 408.9h1.38M468.4 408.9h1.38M468.9 408.9h1.38M474.9 408.9h1.38M477.4 408.9h1.38M481.9 408.9h1.38M488.9 408.9h1.38M494.3 408.9h1.38M494.8 408.9h1.38M497.3 408.9h1.38M498.8 408.9h1.38M503.3 408.9h1.38M511.7 408.9h1.38M512.2 408.9h1.38M527.2 408.9h1.38M530.7 408.9h1.38M532.6 408.9h1.38M545.1 408.9h1.38M546.1 408.9h1.38M549.6 408.9h1.38M550.6 408.9h1.38M555 408.9h1.38M557 408.9h1.38M568 408.9h1.38M132 411.2h1.38M149.4 411.2h1.38M152.4 411.2h1.38M173.8 411.2h1.38M185.8 411.2h1.38M189.2 411.2h1.38M243.5 411.2h1.38M259.4 411.2h1.38M281.3 411.2h1.38M306.7 411.2h1.38M317.1 411.2h1.38M320.6 411.2h1.38M323.1 411.2h1.38M331.1 411.2h1.38M343 411.2h1.38M368.4 411.2h1.38M383.8 411.2h1.38M392.3 411.2h1.38M401.3 411.2h1.38M442.1 411.2h1.38M464 411.2h1.38M490.8 411.2h1.38M492.3 411.2h1.38M493.3 411.2h1.38M500.3 411.2h1.38M524.2 411.2h1.38M524.7 411.2h1.38M534.6 411.2h1.38M554.5 411.2h1.38M558.5 411.2h1.38M115.1 413.5h1.38M119.1 413.5h1.38M136.5 413.5h1.38M141 413.5h1.38M166.3 413.5h1.38M194.2 413.5h1.38M205.7 413.5h1.38M225.1 413.5h1.38M263.4 413.5h1.38M270.9 413.5h1.38M274.8 413.5h1.38M276.3 413.5h1.38M297.7 413.5h1.38M317.6 413.5h1.38M319.6 413.5h1.38M320.1 413.5h1.38M326.6 413.5h1.38M344.5 413.5h1.38M348.5 413.5h1.38M353.5 413.5h1.38M357.5 413.5h1.38M366.4 413.5h1.38M377.4 413.5h1.38M385.8 413.5h1.38M390.8 413.5h1.38M461 413.5h1.38M477.4 413.5h1.38M478.4 413.5h1.38M507.3 413.5h1.38M508.3 413.5h1.38M539.1 413.5h1.38M553.6 413.5h1.38M558 413.5h1.38M115.6 415.7h1.38M147.9 415.7h1.38M177.8 415.7h1.38M184.3 415.7h1.38M202.2 415.7h1.38M216.1 415.7h1.38M260.9 415.7h1.38M269.9 415.7h1.38M270.9 415.7h1.38M276.8 415.7h1.38M291.8 415.7h1.38M294.3 415.7h1.38M304.7 415.7h1.38M318.6 415.7h1.38M323.6 415.7h1.38M335.1 415.7h1.38M344.5 415.7h1.38M356 415.7h1.38M361.9 415.7h1.38M366.9 415.7h1.38M373.4 415.7h1.38M385.8 415.7h1.38M386.8 415.7h1.38M391.3 415.7h1.38M409.2 415.7h1.38M413.7 415.7h1.38M441.1 415.7h1.38M514.7 415.7h1.38M522.2 415.7h1.38M561 415.7h1.38M568.5 415.7h1.38M81.2 418h1.38M81.7 418h1.38M82.7 418h1.38M89.7 418h1.38M104.1 418h1.38M107.1 418h1.38M110.1 418h1.38M112.1 418h1.38M122.5 418h1.38M133 418h1.38M137 418h1.38M139.5 418h1.38M143.4 418h1.38M160.4 418h1.38M166.8 418h1.38M170.3 418h1.38M170.8 418h1.38M179.3 418h1.38M188.2 418h1.38M192.2 418h1.38M231 418h1.38M237 418h1.38M262.4 418h1.38M263.4 418h1.38M264.9 418h1.38M265.9 418h1.38M266.9 418h1.38M269.4 418h1.38M274.8 418h1.38M281.3 418h1.38M294.7 418h1.38M303.2 418h1.38M310.2 418h1.38M314.2 418h1.38M314.7 418h1.38M320.1 418h1.38M349.5 418h1.38M352 418h1.38M359.4 418h1.38M361.4 418h1.38M364.4 418h1.38M367.4 418h1.38M367.9 418h1.38M371.4 418h1.38M372.4 418h1.38M376.4 418h1.38M377.4 418h1.38M394.3 418h1.38M407.7 418h1.38M413.7 418h1.38M414.7 418h1.38M420.7 418h1.38M427.1 418h1.38M430.1 418h1.38M440.6 418h1.38M442.1 418h1.38M445.1 418h1.38M453.5 418h1.38M461 418h1.38M470.9 418h1.38M478.9 418h1.38M480.9 418h1.38M498.8 418h1.38M503.3 418h1.38M504.8 418h1.38M507.8 418h1.38M518.7 418h1.38M532.2 418h1.38M533.1 418h1.38M533.6 418h1.38M546.6 418h1.38M549.6 418h1.38M555 418h1.38M556 418h1.38M560 418h1.38M569.5 418h1.38M82.2 420.3h1.38M95.2 420.3h1.38M112.1 420.3h1.38M126 420.3h1.38M145.4 420.3h1.38M170.3 420.3h1.38M230 420.3h1.38M233.5 420.3h1.38M239 420.3h1.38M247.5 420.3h1.38M284.3 420.3h1.38M289.3 420.3h1.38M310.7 420.3h1.38M319.1 420.3h1.38M334.6 420.3h1.38M340 420.3h1.38M368.9 420.3h1.38M373.9 420.3h1.38M397.3 420.3h1.38M433.6 420.3h1.38M453 420.3h1.38M469.9 420.3h1.38M476.9 420.3h1.38M517.7 420.3h1.38M528.7 420.3h1.38M541.1 420.3h1.38M565.5 420.3h1.38M101.6 422.5h1.38M110.6 422.5h1.38M140 422.5h1.38M144.9 422.5h1.38M163.9 422.5h1.38M184.8 422.5h1.38M225.6 422.5h1.38M249 422.5h1.38M260.4 422.5h1.38M291.3 422.5h1.38M297.7 422.5h1.38M312.7 422.5h1.38M337.1 422.5h1.38M361.9 422.5h1.38M415.7 422.5h1.38M416.2 422.5h1.38M448 422.5h1.38M484.4 422.5h1.38M520.7 422.5h1.38M527.7 422.5h1.38M530.7 422.5h1.38M563.5 422.5h1.38M86.2 424.8h1.38M93.2 424.8h1.38M106.6 424.8h1.38M110.1 424.8h1.38M112.1 424.8h1.38M117.6 424.8h1.38M126.5 424.8h1.38M155.4 424.8h1.38M157.4 424.8h1.38M158.4 424.8h1.38M171.3 424.8h1.38M181.3 424.8h1.38M196.2 424.8h1.38M198.7 424.8h1.38M202.7 424.8h1.38M208.1 424.8h1.38M210.1 424.8h1.38M215.1 424.8h1.38M239 424.8h1.38M241.5 424.8h1.38M245 424.8h1.38M250 424.8h1.38M254.9 424.8h1.38M267.9 424.8h1.38M287.8 424.8h1.38M296.7 424.8h1.38M300.7 424.8h1.38M305.2 424.8h1.38M315.2 424.8h1.38M321.6 424.8h1.38M328.6 424.8h1.38M330.6 424.8h1.38M335.6 424.8h1.38M349.5 424.8h1.38M353.5 424.8h1.38M354 424.8h1.38M354.5 424.8h1.38M357.5 424.8h1.38M376.9 424.8h1.38M385.3 424.8h1.38M385.8 424.8h1.38M394.3 424.8h1.38M397.8 424.8h1.38M402.3 424.8h1.38M413.7 424.8h1.38M417.7 424.8h1.38M420.7 424.8h1.38M426.1 424.8h1.38M431.1 424.8h1.38M435.6 424.8h1.38M451.5 424.8h1.38M455.5 424.8h1.38M470.9 424.8h1.38M477.4 424.8h1.38M484.9 424.8h1.38M488.4 424.8h1.38M498.8 424.8h1.38M503.8 424.8h1.38M513.7 424.8h1.38M520.7 424.8h1.38M521.7 424.8h1.38M526.2 424.8h1.38M527.7 424.8h1.38M535.1 424.8h1.38M546.1 424.8h1.38M555 424.8h1.38M564.5 424.8h1.38M82.7 427h1.38M131 427h1.38M165.8 427h1.38M167.8 427h1.38M222.6 427h1.38M235 427h1.38M291.3 427h1.38M331.1 427h1.38M337.1 427h1.38M427.1 427h1.38M474.9 427h1.38M485.4 427h1.38M537.6 427h1.38M99.2 429.3h1.38M144.9 429.3h1.38M159.4 429.3h1.38M217.1 429.3h1.38M231.5 429.3h1.38M236 429.3h1.38M281.3 429.3h1.38M288.3 429.3h1.38M304.7 429.3h1.38M325.6 429.3h1.38M339.5 429.3h1.38M423.2 429.3h1.38M423.7 429.3h1.38M436.6 429.3h1.38M457.5 429.3h1.38M131 431.6h1.38M240 431.6h1.38M268.9 431.6h1.38M305.2 431.6h1.38M329.6 431.6h1.38M343 431.6h1.38M355 431.6h1.38M363.9 431.6h1.38M375.4 431.6h1.38M422.7 431.6h1.38M425.1 431.6h1.38M435.6 431.6h1.38M501.3 431.6h1.38M515.2 431.6h1.38M531.2 431.6h1.38M82.2 433.8h1.38M102.6 433.8h1.38M108.6 433.8h1.38M112.6 433.8h1.38M115.6 433.8h1.38M123.5 433.8h1.38M124.5 433.8h1.38M157.4 433.8h1.38M161.9 433.8h1.38M162.4 433.8h1.38M171.8 433.8h1.38M177.3 433.8h1.38M182.8 433.8h1.38M198.2 433.8h1.38M216.1 433.8h1.38M236 433.8h1.38M240 433.8h1.38M242 433.8h1.38M292.8 433.8h1.38M302.7 433.8h1.38M308.2 433.8h1.38M312.7 433.8h1.38M320.1 433.8h1.38M349.5 433.8h1.38M352.5 433.8h1.38M355.5 433.8h1.38M358.5 433.8h1.38M360.4 433.8h1.38M388.3 433.8h1.38M390.8 433.8h1.38M400.3 433.8h1.38M411.7 433.8h1.38M431.1 433.8h1.38M456.5 433.8h1.38M457 433.8h1.38M457.5 433.8h1.38M465 433.8h1.38M467 433.8h1.38M469.4 433.8h1.38M481.4 433.8h1.38M481.9 433.8h1.38M483.4 433.8h1.38M490.8 433.8h1.38M492.3 433.8h1.38M501.3 433.8h1.38M511.2 433.8h1.38M511.7 433.8h1.38M528.2 433.8h1.38M531.2 433.8h1.38M543.1 433.8h1.38M551.6 433.8h1.38M133 436.1h1.38M148.4 436.1h1.38M151.4 436.1h1.38M204.7 436.1h1.38M235.5 436.1h1.38M265.4 436.1h1.38M294.3 436.1h1.38M319.1 436.1h1.38M329.1 436.1h1.38M355 436.1h1.38M362.9 436.1h1.38M365.9 436.1h1.38M390.8 436.1h1.38M427.6 436.1h1.38M434.1 436.1h1.38M440.6 436.1h1.38M445.1 436.1h1.38M461.5 436.1h1.38M89.2 438.3h1.38M257.4 438.3h1.38M271.4 438.3h1.38M314.2 438.3h1.38M417.7 438.3h1.38M456 438.3h1.38M481.9 438.3h1.38M505.3 438.3h1.38M548.6 438.3h1.38M110.1 440.6h1.38M139.5 440.6h1.38M154.4 440.6h1.38M184.8 440.6h1.38M213.1 440.6h1.38M286.3 440.6h1.38M299.2 440.6h1.38M322.1 440.6h1.38M338 440.6h1.38M370.9 440.6h1.38M433.6 440.6h1.38M459 440.6h1.38M110.1 442.9h1.38M227.1 442.9h1.38M258.4 442.9h1.38M277.8 442.9h1.38M323.6 442.9h1.38M326.1 442.9h1.38M356 442.9h1.38M365.4 442.9h1.38M490.8 442.9h1.38M503.3 442.9h1.38M521.7 442.9h1.38M90.2 445.1h1.38M93.2 445.1h1.38M113.6 445.1h1.38M116.1 445.1h1.38M186.2 445.1h1.38M191.7 445.1h1.38M198.2 445.1h1.38M204.7 445.1h1.38M207.7 445.1h1.38M211.1 445.1h1.38M232.5 445.1h1.38M237.5 445.1h1.38M248 445.1h1.38M257.9 445.1h1.38M258.4 445.1h1.38M264.4 445.1h1.38M265.4 445.1h1.38M273.3 445.1h1.38M274.8 445.1h1.38M289.8 445.1h1.38M297.7 445.1h1.38M319.1 445.1h1.38M323.1 445.1h1.38M324.6 445.1h1.38M353.5 445.1h1.38M357 445.1h1.38M368.9 445.1h1.38M376.4 445.1h1.38M376.9 445.1h1.38M393.8 445.1h1.38M407.7 445.1h1.38M440.6 445.1h1.38M444.1 445.1h1.38M470.9 445.1h1.38M479.9 445.1h1.38M486.9 445.1h1.38M503.8 445.1h1.38M505.8 445.1h1.38M523.7 445.1h1.38M544.6 445.1h1.38M569.5 445.1h1.38M113.1 447.4h1.38M170.8 447.4h1.38M255.4 447.4h1.38M275.8 447.4h1.38M297.7 447.4h1.38M329.1 447.4h1.38M462 447.4h1.38M491.8 447.4h1.38M540.1 447.4h1.38M109.6 449.7h1.38M165.8 449.7h1.38M166.3 449.7h1.38M166.8 449.7h1.38M175.3 449.7h1.38M185.8 449.7h1.38M298.7 449.7h1.38M348 449.7h1.38M401.3 449.7h1.38M421.7 449.7h1.38M476.4 449.7h1.38M548.6 449.7h1.38M103.6 451.9h1.38M144.4 451.9h1.38M147.9 451.9h1.38M165.3 451.9h1.38M200.7 451.9h1.38M209.6 451.9h1.38M244 451.9h1.38M258.9 451.9h1.38M292.3 451.9h1.38M322.6 451.9h1.38M389.3 451.9h1.38M416.7 451.9h1.38M417.7 451.9h1.38M460 451.9h1.38M486.4 451.9h1.38M522.2 451.9h1.38M98.2 454.2h1.38M103.1 454.2h1.38M114.6 454.2h1.38M124 454.2h1.38M235 454.2h1.38M309.2 454.2h1.38M377.9 454.2h1.38M391.3 454.2h1.38M405.7 454.2h1.38M435.6 454.2h1.38M462 454.2h1.38M491.8 454.2h1.38M497.3 454.2h1.38M500.3 454.2h1.38M514.2 454.2h1.38M539.1 454.2h1.38M81.2 456.4h1.38M118.6 456.4h1.38M275.8 456.4h1.38M300.7 456.4h1.38M318.1 456.4h1.38M85.2 458.7h1.38M119.1 458.7h1.38M156.9 458.7h1.38M348 458.7h1.38M371.4 458.7h1.38M542.1 458.7h1.38M106.1 461h1.38M186.7 461h1.38M202.7 461h1.38M217.1 461h1.38M230.5 461h1.38M240 461h1.38M274.3 461h1.38M285.3 461h1.38M367.4 461h1.38M405.7 461h1.38M150.9 463.2h1.38M186.2 463.2h1.38M199.2 463.2h1.38M242.5 463.2h1.38M313.7 463.2h1.38M354.5 463.2h1.38M144.4 465.5h1.38M272.8 465.5h1.38M381.8 465.5h1.38M386.3 465.5h1.38M423.7 465.5h1.38M433.1 465.5h1.38M498.3 465.5h1.38M506.3 465.5h1.38M510.3 465.5h1.38M534.1 465.5h1.38M549.6 465.5h1.38M89.2 467.7h1.38M221.1 467.7h1.38M299.7 467.7h1.38M351.5 467.7h1.38M362.9 467.7h1.38M437.1 467.7h1.38M554.5 467.7h1.38M557 467.7h1.38M201.7 470h1.38M266.4 470h1.38M334.1 470h1.38M350.5 470h1.38M353 470h1.38M431.1 470h1.38M433.6 470h1.38M174.3 472.3h1.38M233.5 472.3h1.38M360.9 472.3h1.38M401.8 472.3h1.38M404.2 472.3h1.38M466 472.3h1.38M485.9 472.3h1.38M563.5 472.3h1.38M338.5 474.5h1.38M518.2 474.5h1.38M554 474.5h1.38M571 474.5h1.38M343.5 476.8h1.38M395.8 476.8h1.38M505.8 476.8h1.38M507.3 476.8h1.38M539.6 476.8h1.38M126 479h1.38M148.9 479h1.38M259.9 479h1.38M266.4 479h1.38M288.3 479h1.38M291.3 479h1.38M340.5 479h1.38M369.9 479h1.38M440.1 479h1.38M441.6 479h1.38M514.7 479h1.38M102.1 481.3h1.38M337.6 481.3h1.38M453.5 481.3h1.38M545.6 481.3h1.38M571 481.3h1.38M94.2 483.6h1.38M149.4 483.6h1.38M198.2 483.6h1.38M209.6 483.6h1.38M304.7 483.6h1.38M384.3 483.6h1.38M407.7 483.6h1.38M464.5 483.6h1.38M523.7 483.6h1.38M534.6 483.6h1.38M548.1 483.6h1.38M86.2 485.8h1.38M94.2 485.8h1.38M182.8 485.8h1.38M296.7 485.8h1.38M529.7 485.8h1.38M531.2 485.8h1.38M564.5 485.8h1.38M100.6 488.1h1.38M177.8 488.1h1.38M178.3 488.1h1.38M226.1 488.1h1.38M236.5 488.1h1.38M563 488.1h1.38M218.1 490.4h1.38M244 490.4h1.38M467 490.4h1.38M484.4 490.4h1.38M269.4 492.6h1.38M320.1 492.6h1.38M340.5 492.6h1.38M512.7 492.6h1.38M538.1 492.6h1.38M113.6 494.9h1.38M126 494.9h1.38M228.1 497.1h1.38M312.2 497.1h1.38M433.1 497.1h1.38M477.4 497.1h1.38M555.5 497.1h1.38M108.6 499.4h1.38M147.4 499.4h1.38M271.4 499.4h1.38M315.7 499.4h1.38M382.8 499.4h1.38M143.9 501.7h1.38M163.4 501.7h1.38M515.7 501.7h1.38M377.4 503.9h1.38M490.8 503.9h1.38M149.4 506.2h1.38M212.1 506.2h1.38M506.3 506.2h1.38M178.8 508.4h1.38M305.2 508.4h1.38M264.4 510.7h1.38M284.8 510.7h1.38M305.7 510.7h1.38M526.2 510.7h1.38M555.5 510.7h1.38M168.8 513h1.38M259.9 513h1.38M294.3 513h1.38M305.2 513h1.38M364.9 513h1.38M397.3 513h1.38M330.6 515.2h1.38M467.9 515.2h1.38M492.8 517.5h1.38M226.1 519.8h1.38M242 519.8h1.38M478.4 519.8h1.38M168.3 522h1.38M187.7 522h1.38M188.2 522h1.38M372.9 522h1.38M250 524.3h1.38M413.2 524.3h1.38M91.7 526.5h1.38M132 526.5h1.38M184.3 526.5h1.38M407.2 528.8h1.38M368.4 531.1h1.38M278.8 533.3h1.38M310.7 535.6h1.38M345 537.8h1.38M178.8 540.1h1.38M395.3 540.1h1.38M506.3 542.4h1.38M563.5 542.4h1.38M375.4 544.6h1.38M177.8 546.9h1.38M560.5 549.1h1.38M386.8 553.7h1.38M96.2 558.2h1.38" stroke="#000" stroke-width="1.38" fill="none"/>
<path d="M281.25 580.24V47.81M369.35 580.24V47.81" stroke="#006400" stroke-width="2.25" stroke-dasharray="9 9" stroke-linecap="round" fill="none" clip-path="url(#c1)"/>
<path d="M59.76 359.2H592.19" stroke="#d02d30" stroke-width="2.25" stroke-dasharray="9 9" stroke-linecap="round" fill="none" clip-path="url(#c1)"/>
<clipPath id="c1"><rect x="59.76" y="47.81" width="532.43" height="532.43"/></clipPath>
<rect x="59.76" y="47.81" width="532.43" height="532.43" fill="none" stroke="#000" stroke-width="0.75"/>
<path d="M126.22 580.24H524.38M126.22 580.24v5.98M225.76 580.24v5.98M325.3 580.24v5.98M424.84 580.24v5.98M524.38 580.24v5.98" fill="none" stroke="#000" stroke-width="0.75"/>
<text transform="translate(126.22 602.04) scale(.93 1)" class="t" text-anchor="middle">-400</text>
<text transform="translate(225.76 602.04) scale(.93 1)" class="t" text-anchor="middle">-200</text>
<text transform="translate(325.3 602.04) scale(.93 1)" class="t" text-anchor="middle">0</text>
<text transform="translate(424.84 602.04) scale(.93 1)" class="t" text-anchor="middle">200</text>
<text transform="translate(524.38 602.04) scale(.93 1)" class="t" text-anchor="middle">400</text>
<path d="M59.76 67.5V519.75M59.76 519.75h-5.98M59.76 406.69h-5.98M59.76 293.62h-5.98M59.76 180.56h-5.98M59.76 67.5h-5.98" fill="none" stroke="#000" stroke-width="0.75"/>
<text transform="translate(45.16 519.75) rotate(-90) scale(.93 1)" class="t" text-anchor="middle">80</text>
<text transform="translate(45.16 406.69) rotate(-90) scale(.93 1)" class="t" text-anchor="middle">85</text>
<text transform="translate(45.16 293.62) rotate(-90) scale(.93 1)" class="t" text-anchor="middle">90</text>
<text transform="translate(45.16 180.56) rotate(-90) scale(.93 1)" class="t" text-anchor="middle">95</text>
<text transform="translate(45.16 67.5) rotate(-90) scale(.93 1)" class="t" text-anchor="middle">100</text>
<text x="323" y="31.81" class="m" text-anchor="middle">Top hit for each peak</text>
<text x="325.98" y="625.54" class="l" text-anchor="middle">Distance to peak summit</text>
<text transform="translate(22.16 314.02) rotate(-90)" class="l" text-anchor="middle">Motif score</text>
<defs><filter id="hm" filterUnits="userSpaceOnUse" x="675.76" y="23.81" width="584" height="584" color-interpolation-filters="sRGB"><feGaussianBlur stdDeviation="4"/><feComponentTransfer><feFuncR type="table" tableValues="1 0 1"/><feFuncG type="table" tableValues="1 0 0"/><feFuncB type="table" tableValues="1 1 0"/><feFuncA type="linear" slope="0" intercept="1"/></feComponentTransfer></filter><clipPath id="hc"><rect x="699.76" y="47.81" width="532.43" height="532.43"/></clipPath></defs>
<g clip-path="url(#hc)"><g filter="url(#hm)" shape-rendering="crispEdges">
<rect x="675.76" y="23.81" width="584" height="584" fill="#000"/>
<path fill="#020202" d="M675.76 23.81h32v8h-32zM1227.76 23.81h32v8h-32zM675.76 31.81h32v8h-32zM1227.76 31.81h32v8h-32zM675.76 39.81h32v8h-32zM1227.76 39.81h32v8h-32zM675.76 47.81h24v8h-24zM1227.76 47.81h32v8h-32zM675.76 55.81h32v8h-32zM1227.76 55.81h32v8h-32zM675.76 63.81h24v8h-24zM1227.76 63.81h32v8h-32zM675.76 511.81h32v8h-32zM1227.76 511.81h32v8h-32zM675.76 519.81h40v8h-40zM1211.76 519.81h48v8h-48zM675.76 527.81h64v8h-64zM1187.76 527.81h72v8h-72zM675.76 535.81h584v8h-584zM699.76 543.81h528v8h-528zM715.76 551.81h504v8h-504z"/>
<path fill="#040404" d="M707.76 23.81h48v8h-48zM1171.76 23.81h56v8h-56zM707.76 31.81h48v8h-48zM1171.76 31.81h56v8h-56zM707.76 39.81h48v8h-48zM1171.76 39.81h56v8h-56zM699.76 47.81h48v8h-48zM1187.76 47.81h40v8h-40zM707.76 55.81h40v8h-40zM1179.76 55.81h48v8h-48zM699.76 63.81h32v8h-32zM1195.76 63.81h32v8h-32zM675.76 71.81h40v8h-40zM1211.76 71.81h48v8h-48zM675.76 79.81h32v8h-32zM1227.76 79.81h32v8h-32zM675.76 487.81h24v8h-24zM1227.76 487.81h32v8h-32zM675.76 495.81h32v8h-32zM1219.76 495.81h40v8h-40zM675.76 503.81h40v8h-40zM1211.76 503.81h48v8h-48zM707.76 511.81h48v8h-48zM1179.76 511.81h48v8h-48zM715.76 519.81h496v8h-496zM739.76 527.81h448v8h-448z"/>
<path fill="#060606" d="M755.76 23.81h112v8h-112zM1067.76 23.81h104v8h-104zM755.76 31.81h112v8h-112zM1067.76 31.81h104v8h-104zM755.76 39.81h112v8h-112zM1067.76 39.81h104v8h-104zM747.76 47.81h120v8h-120zM1067.76 47.81h120v8h-120zM747.76 55.81h120v8h-120zM1059.76 55.81h120v8h-120zM731.76 63.81h136v8h-136zM1059.76 63.81h136v8h-136zM715.76 71.81h144v8h-144zM1075.76 71.81h136v8h-136zM707.76 79.81h16v8h-16zM1211.76 79.81h16v8h-16zM675.76 87.81h32v8h-32zM1219.76 87.81h40v8h-40zM675.76 95.81h32v8h-32zM1227.76 95.81h32v8h-32zM675.76 103.81h24v8h-24zM1227.76 103.81h32v8h-32zM675.76 111.81h24v8h-24zM1227.76 111.81h32v8h-32zM675.76 119.81h24v8h-24zM1227.76 119.81h32v8h-32zM675.76 127.81h24v8h-24zM1227.76 127.81h32v8h-32zM675.76 135.81h32v8h-32zM1227.76 135.81h32v8h-32zM675.76 143.81h32v8h-32zM1227.76 143.81h32v8h-32zM675.76 151.81h32v8h-32zM1219.76 151.81h40v8h-40zM675.76 159.81h32v8h-32zM1219.76 159.81h40v8h-40zM675.76 167.81h24v8h-24zM1227.76 167.81h32v8h-32zM675.76 471.81h24v8h-24zM1227.76 471.81h32v8h-32zM675.76 479.81h32v8h-32zM1219.76 479.81h40v8h-40zM699.76 487.81h16v8h-16zM1211.76 487.81h16v8h-16zM707.76 495.81h24v8h-24zM1195.76 495.81h24v8h-24zM715.76 503.81h496v8h-496zM755.76 511.81h424v8h-424z"/>
<path fill="#080808" d="M867.76 23.81h8v8h-8zM1059.76 23.81h8v8h-8zM867.76 31.81h8v8h-8zM1059.76 31.81h8v8h-8zM867.76 39.81h8v8h-8zM1059.76 39.81h8v8h-8zM867.76 47.81h8v8h-8zM1059.76 47.81h8v8h-8zM867.76 55.81h8v8h-8zM1051.76 55.81h8v8h-8zM867.76 63.81h16v8h-16zM1051.76 63.81h8v8h-8zM859.76 71.81h16v8h-16zM1059.76 71.81h16v8h-16zM723.76 79.81h136v8h-136zM1075.76 79.81h136v8h-136zM707.76 87.81h16v8h-16zM1203.76 87.81h16v8h-16zM707.76 95.81h8v8h-8zM1211.76 95.81h16v8h-16zM699.76 103.81h16v8h-16zM1219.76 103.81h8v8h-8zM699.76 111.81h16v8h-16zM1219.76 111.81h8v8h-8zM699.76 119.81h16v8h-16zM1219.76 119.81h8v8h-8zM699.76 127.81h16v8h-16zM1211.76 127.81h16v8h-16zM707.76 135.81h8v8h-8zM1211.76 135.81h16v8h-16zM707.76 143.81h8v8h-8zM1211.76 143.81h16v8h-16zM707.76 151.81h16v8h-16zM1211.76 151.81h8v8h-8zM707.76 159.81h8v8h-8zM1211.76 159.81h8v8h-8zM699.76 167.81h16v8h-16zM1219.76 167.81h8v8h-8zM675.76 175.81h32v8h-32zM1227.76 175.81h32v8h-32zM675.76 463.81h24v8h-24zM1227.76 463.81h32v8h-32zM699.76 471.81h8v8h-8zM1219.76 471.81h8v8h-8zM707.76 479.81h16v8h-16zM1211.76 479.81h8v8h-8zM715.76 487.81h32v8h-32zM1179.76 487.81h32v8h-32zM731.76 495.81h464v8h-464z"/>
<path fill="#0a0a0a" d="M875.76 23.81h8v8h-8zM1051.76 23.81h8v8h-8zM875.76 31.81h8v8h-8zM1051.76 31.81h8v8h-8zM875.76 39.81h8v8h-8zM1051.76 39.81h8v8h-8zM875.76 47.81h8v8h-8zM1051.76 47.81h8v8h-8zM875.76 55.81h8v8h-8zM1043.76 63.81h8v8h-8zM875.76 71.81h8v8h-8zM1051.76 71.81h8v8h-8zM859.76 79.81h16v8h-16zM1059.76 79.81h16v8h-16zM723.76 87.81h128v8h-128zM1075.76 87.81h128v8h-128zM715.76 95.81h16v8h-16zM1195.76 95.81h16v8h-16zM715.76 103.81h8v8h-8zM1203.76 103.81h16v8h-16zM715.76 111.81h8v8h-8zM1203.76 111.81h16v8h-16zM715.76 119.81h16v8h-16zM1203.76 119.81h16v8h-16zM715.76 127.81h16v8h-16zM1195.76 127.81h16v8h-16zM715.76 135.81h16v8h-16zM1195.76 135.81h16v8h-16zM715.76 143.81h24v8h-24zM1187.76 143.81h24v8h-24zM723.76 151.81h24v8h-24zM1179.76 151.81h32v8h-32zM715.76 159.81h32v8h-32zM1179.76 159.81h32v8h-32zM715.76 167.81h16v8h-16zM1203.76 167.81h16v8h-16zM707.76 175.81h8v8h-8zM1211.76 175.81h16v8h-16zM675.76 183.81h32v8h-32zM1227.76 183.81h32v8h-32zM675.76 455.81h24v8h-24zM1227.76 455.81h32v8h-32zM699.76 463.81h8v8h-8zM1219.76 463.81h8v8h-8zM707.76 471.81h16v8h-16zM1203.76 471.81h16v8h-16zM723.76 479.81h40v8h-40zM1171.76 479.81h40v8h-40zM747.76 487.81h432v8h-432z"/>
<path fill="#0c0c0c" d="M1043.76 23.81h8v8h-8zM1043.76 31.81h8v8h-8zM1043.76 39.81h8v8h-8zM1043.76 47.81h8v8h-8zM1043.76 55.81h8v8h-8zM883.76 63.81h8v8h-8zM883.76 71.81h8v8h-8zM1043.76 71.81h8v8h-8zM875.76 79.81h8v8h-8zM1051.76 79.81h8v8h-8zM851.76 87.81h24v8h-24zM1059.76 87.81h16v8h-16zM731.76 95.81h128v8h-128zM1075.76 95.81h120v8h-120zM723.76 103.81h128v8h-128zM1083.76 103.81h120v8h-120zM723.76 111.81h120v8h-120zM1083.76 111.81h120v8h-120zM731.76 119.81h120v8h-120zM1075.76 119.81h128v8h-128zM731.76 127.81h128v8h-128zM1075.76 127.81h120v8h-120zM731.76 135.81h136v8h-136zM1067.76 135.81h128v8h-128zM739.76 143.81h128v8h-128zM1067.76 143.81h120v8h-120zM747.76 151.81h120v8h-120zM1067.76 151.81h112v8h-112zM747.76 159.81h112v8h-112zM1067.76 159.81h112v8h-112zM731.76 167.81h112v8h-112zM1091.76 167.81h112v8h-112zM715.76 175.81h16v8h-16zM1203.76 175.81h8v8h-8zM707.76 183.81h8v8h-8zM1219.76 183.81h8v8h-8zM675.76 191.81h32v8h-32zM1227.76 191.81h32v8h-32zM675.76 447.81h24v8h-24zM1227.76 447.81h32v8h-32zM699.76 455.81h8v8h-8zM1219.76 455.81h8v8h-8zM707.76 463.81h16v8h-16zM1211.76 463.81h8v8h-8zM723.76 471.81h24v8h-24zM1179.76 471.81h24v8h-24zM763.76 479.81h408v8h-408z"/>
<path fill="#0e0e0e" d="M883.76 23.81h8v8h-8zM883.76 31.81h8v8h-8zM883.76 39.81h8v8h-8zM883.76 47.81h8v8h-8zM883.76 55.81h8v8h-8zM1035.76 63.81h8v8h-8zM1043.76 79.81h8v8h-8zM1051.76 87.81h8v8h-8zM859.76 95.81h16v8h-16zM1059.76 95.81h16v8h-16zM851.76 103.81h16v8h-16zM1067.76 103.81h16v8h-16zM843.76 111.81h24v8h-24zM1067.76 111.81h16v8h-16zM851.76 119.81h16v8h-16zM1059.76 119.81h16v8h-16zM859.76 127.81h16v8h-16zM1059.76 127.81h16v8h-16zM867.76 135.81h8v8h-8zM1059.76 135.81h8v8h-8zM867.76 143.81h8v8h-8zM1051.76 143.81h16v8h-16zM867.76 151.81h8v8h-8zM1051.76 151.81h16v8h-16zM859.76 159.81h16v8h-16zM1059.76 159.81h8v8h-8zM843.76 167.81h16v8h-16zM1075.76 167.81h16v8h-16zM731.76 175.81h88v8h-88zM1163.76 175.81h40v8h-40zM715.76 183.81h8v8h-8zM1211.76 183.81h8v8h-8zM1219.76 191.81h8v8h-8zM675.76 199.81h24v8h-24zM1227.76 199.81h32v8h-32zM675.76 439.81h24v8h-24zM1227.76 439.81h32v8h-32zM699.76 447.81h8v8h-8zM1219.76 447.81h8v8h-8zM707.76 455.81h8v8h-8zM1211.76 455.81h8v8h-8zM723.76 463.81h16v8h-16zM1195.76 463.81h16v8h-16zM747.76 471.81h184v8h-184zM1003.76 471.81h176v8h-176z"/>
<path fill="#101010" d="M1035.76 55.81h8v8h-8zM891.76 63.81h8v8h-8zM1035.76 71.81h8v8h-8zM883.76 79.81h8v8h-8zM875.76 87.81h8v8h-8zM1051.76 95.81h8v8h-8zM867.76 103.81h8v8h-8zM1059.76 103.81h8v8h-8zM867.76 111.81h8v8h-8zM1059.76 111.81h8v8h-8zM867.76 119.81h8v8h-8zM1051.76 127.81h8v8h-8zM875.76 135.81h8v8h-8zM1051.76 135.81h8v8h-8zM875.76 143.81h8v8h-8zM875.76 151.81h8v8h-8zM875.76 159.81h8v8h-8zM1051.76 159.81h8v8h-8zM859.76 167.81h8v8h-8zM1059.76 167.81h16v8h-16zM819.76 175.81h32v8h-32zM1083.76 175.81h80v8h-80zM723.76 183.81h16v8h-16zM1195.76 183.81h16v8h-16zM707.76 191.81h8v8h-8zM1211.76 191.81h8v8h-8zM699.76 199.81h8v8h-8zM675.76 207.81h24v8h-24zM1227.76 207.81h32v8h-32zM1227.76 431.81h32v8h-32zM699.76 439.81h8v8h-8zM707.76 447.81h8v8h-8zM715.76 455.81h16v8h-16zM1203.76 455.81h8v8h-8zM739.76 463.81h144v8h-144zM1043.76 463.81h152v8h-152zM931.76 471.81h72v8h-72z"/>
<path fill="#121212" d="M1035.76 23.81h8v8h-8zM1035.76 31.81h8v8h-8zM1035.76 39.81h8v8h-8zM1035.76 47.81h8v8h-8zM891.76 71.81h8v8h-8zM1043.76 87.81h8v8h-8zM875.76 95.81h8v8h-8zM1051.76 103.81h8v8h-8zM1051.76 111.81h8v8h-8zM875.76 119.81h8v8h-8zM1051.76 119.81h8v8h-8zM875.76 127.81h8v8h-8zM1043.76 135.81h8v8h-8zM1043.76 143.81h8v8h-8zM883.76 151.81h8v8h-8zM1043.76 151.81h8v8h-8zM1043.76 159.81h8v8h-8zM867.76 167.81h8v8h-8zM851.76 175.81h8v8h-8zM1075.76 175.81h8v8h-8zM739.76 183.81h96v8h-96zM1115.76 183.81h80v8h-80zM715.76 191.81h8v8h-8zM1203.76 191.81h8v8h-8zM707.76 199.81h8v8h-8zM1219.76 199.81h8v8h-8zM699.76 207.81h8v8h-8zM1227.76 423.81h32v8h-32zM675.76 431.81h24v8h-24zM1219.76 439.81h8v8h-8zM715.76 447.81h8v8h-8zM1211.76 447.81h8v8h-8zM731.76 455.81h16v8h-16zM1179.76 455.81h24v8h-24zM883.76 463.81h48v8h-48zM1003.76 463.81h40v8h-40z"/>
<path fill="#141414" d="M891.76 55.81h8v8h-8zM1035.76 79.81h8v8h-8zM883.76 87.81h8v8h-8zM875.76 103.81h8v8h-8zM875.76 111.81h8v8h-8zM1043.76 127.81h8v8h-8zM883.76 135.81h8v8h-8zM883.76 143.81h8v8h-8zM883.76 159.81h8v8h-8zM875.76 167.81h8v8h-8zM1051.76 167.81h8v8h-8zM859.76 175.81h8v8h-8zM1067.76 175.81h8v8h-8zM835.76 183.81h16v8h-16zM1083.76 183.81h32v8h-32zM723.76 191.81h16v8h-16zM1195.76 191.81h8v8h-8zM1211.76 199.81h8v8h-8zM675.76 215.81h24v8h-24zM1227.76 215.81h32v8h-32zM1227.76 415.81h32v8h-32zM675.76 423.81h24v8h-24zM699.76 431.81h8v8h-8zM1219.76 431.81h8v8h-8zM707.76 439.81h8v8h-8zM1211.76 439.81h8v8h-8zM723.76 447.81h8v8h-8zM1203.76 447.81h8v8h-8zM747.76 455.81h136v8h-136zM1051.76 455.81h128v8h-128zM931.76 463.81h72v8h-72z"/>
<path fill="#161616" d="M891.76 23.81h8v8h-8zM891.76 31.81h8v8h-8zM891.76 39.81h8v8h-8zM891.76 47.81h8v8h-8zM1027.76 63.81h8v8h-8zM1027.76 71.81h8v8h-8zM891.76 79.81h8v8h-8zM1043.76 95.81h8v8h-8zM1043.76 103.81h8v8h-8zM1043.76 111.81h8v8h-8zM1043.76 119.81h8v8h-8zM883.76 127.81h8v8h-8zM1035.76 143.81h8v8h-8zM1035.76 151.81h8v8h-8zM867.76 175.81h8v8h-8zM1059.76 175.81h8v8h-8zM851.76 183.81h8v8h-8zM1075.76 183.81h8v8h-8zM739.76 191.81h96v8h-96zM1163.76 191.81h32v8h-32zM715.76 199.81h8v8h-8zM1203.76 199.81h8v8h-8zM707.76 207.81h8v8h-8zM1219.76 207.81h8v8h-8zM1227.76 375.81h32v8h-32zM1227.76 383.81h32v8h-32zM1227.76 391.81h32v8h-32zM1227.76 399.81h32v8h-32zM1227.76 407.81h32v8h-32zM675.76 415.81h24v8h-24zM699.76 423.81h8v8h-8zM715.76 439.81h8v8h-8zM731.76 447.81h16v8h-16zM1179.76 447.81h24v8h-24zM883.76 455.81h32v8h-32zM1019.76 455.81h32v8h-32z"/>
<path fill="#181818" d="M1027.76 55.81h8v8h-8zM899.76 63.81h8v8h-8zM899.76 71.81h8v8h-8zM1035.76 87.81h8v8h-8zM883.76 95.81h8v8h-8zM883.76 111.81h8v8h-8zM883.76 119.81h8v8h-8zM1035.76 135.81h8v8h-8zM891.76 143.81h8v8h-8zM891.76 151.81h8v8h-8zM1035.76 159.81h8v8h-8zM1043.76 167.81h8v8h-8zM859.76 183.81h8v8h-8zM1067.76 183.81h8v8h-8zM835.76 191.81h16v8h-16zM1091.76 191.81h72v8h-72zM723.76 199.81h16v8h-16zM1195.76 199.81h8v8h-8zM1211.76 207.81h8v8h-8zM699.76 215.81h8v8h-8zM1235.76 359.81h24v8h-24zM1227.76 367.81h32v8h-32zM675.76 375.81h24v8h-24zM675.76 383.81h24v8h-24zM675.76 391.81h24v8h-24zM675.76 399.81h24v8h-24zM675.76 407.81h24v8h-24zM699.76 415.81h8v8h-8zM1219.76 423.81h8v8h-8zM707.76 431.81h8v8h-8zM1211.76 431.81h8v8h-8zM1203.76 439.81h8v8h-8zM747.76 447.81h120v8h-120zM1067.76 447.81h112v8h-112zM915.76 455.81h24v8h-24zM987.76 455.81h32v8h-32z"/>
<path fill="#1a1a1a" d="M1027.76 79.81h8v8h-8zM891.76 87.81h8v8h-8zM883.76 103.81h8v8h-8zM1035.76 127.81h8v8h-8zM891.76 135.81h8v8h-8zM891.76 159.81h8v8h-8zM883.76 167.81h8v8h-8zM1051.76 175.81h8v8h-8zM851.76 191.81h8v8h-8zM1083.76 191.81h8v8h-8zM739.76 199.81h80v8h-80zM1187.76 199.81h8v8h-8zM715.76 207.81h8v8h-8zM1219.76 215.81h8v8h-8zM675.76 223.81h24v8h-24zM1227.76 223.81h32v8h-32zM1227.76 351.81h32v8h-32zM675.76 359.81h24v8h-24zM1227.76 359.81h8v8h-8zM675.76 367.81h24v8h-24zM699.76 383.81h8v8h-8zM699.76 391.81h8v8h-8zM699.76 399.81h8v8h-8zM699.76 407.81h8v8h-8zM1219.76 415.81h8v8h-8zM723.76 439.81h16v8h-16zM1187.76 439.81h16v8h-16zM867.76 447.81h24v8h-24zM1035.76 447.81h32v8h-32zM939.76 455.81h48v8h-48z"/>
<path fill="#1c1c1c" d="M1027.76 23.81h8v8h-8zM1027.76 31.81h8v8h-8zM1027.76 39.81h8v8h-8zM1027.76 47.81h8v8h-8zM899.76 55.81h8v8h-8zM1035.76 95.81h8v8h-8zM1035.76 119.81h8v8h-8zM891.76 127.81h8v8h-8zM1027.76 151.81h8v8h-8zM875.76 175.81h8v8h-8zM1059.76 183.81h8v8h-8zM1075.76 191.81h8v8h-8zM819.76 199.81h24v8h-24zM1107.76 199.81h80v8h-80zM723.76 207.81h8v8h-8zM1203.76 207.81h8v8h-8zM707.76 215.81h8v8h-8zM699.76 223.81h8v8h-8zM1227.76 343.81h32v8h-32zM675.76 351.81h24v8h-24zM699.76 367.81h8v8h-8zM699.76 375.81h8v8h-8zM1219.76 375.81h8v8h-8zM1219.76 383.81h8v8h-8zM1219.76 391.81h8v8h-8zM1219.76 399.81h8v8h-8zM1219.76 407.81h8v8h-8zM707.76 423.81h8v8h-8zM1211.76 423.81h8v8h-8zM715.76 431.81h8v8h-8zM1203.76 431.81h8v8h-8zM739.76 439.81h96v8h-96zM1099.76 439.81h88v8h-88zM891.76 447.81h16v8h-16zM1019.76 447.81h16v8h-16z"/>
<path fill="#1e1e1e" d="M1019.76 71.81h8v8h-8zM899.76 79.81h8v8h-8zM1035.76 103.81h8v8h-8zM1035.76 111.81h8v8h-8zM1027.76 143.81h8v8h-8zM1027.76 159.81h8v8h-8zM1035.76 167.81h8v8h-8zM867.76 183.81h8v8h-8zM859.76 191.81h8v8h-8zM1067.76 191.81h8v8h-8zM843.76 199.81h8v8h-8zM1083.76 199.81h24v8h-24zM731.76 207.81h8v8h-8zM1195.76 207.81h8v8h-8zM1211.76 215.81h8v8h-8zM675.76 231.81h24v8h-24zM1227.76 231.81h32v8h-32zM1227.76 335.81h32v8h-32zM675.76 343.81h24v8h-24zM699.76 359.81h8v8h-8zM1219.76 367.81h8v8h-8zM707.76 407.81h8v8h-8zM707.76 415.81h8v8h-8zM1211.76 415.81h8v8h-8zM715.76 423.81h8v8h-8zM723.76 431.81h8v8h-8zM1195.76 431.81h8v8h-8zM835.76 439.81h32v8h-32zM1059.76 439.81h40v8h-40zM907.76 447.81h16v8h-16zM1003.76 447.81h16v8h-16z"/>
<path fill="#202020" d="M899.76 23.81h8v8h-8zM899.76 31.81h8v8h-8zM899.76 39.81h8v8h-8zM899.76 47.81h8v8h-8zM1019.76 63.81h8v8h-8zM891.76 95.81h8v8h-8zM891.76 119.81h8v8h-8zM1027.76 135.81h8v8h-8zM899.76 151.81h8v8h-8zM899.76 159.81h8v8h-8zM891.76 167.81h8v8h-8zM1043.76 175.81h8v8h-8zM851.76 199.81h8v8h-8zM1075.76 199.81h8v8h-8zM739.76 207.81h88v8h-88zM1187.76 207.81h8v8h-8zM715.76 215.81h8v8h-8zM1219.76 223.81h8v8h-8zM1235.76 319.81h24v8h-24zM1227.76 327.81h32v8h-32zM675.76 335.81h24v8h-24zM699.76 351.81h8v8h-8zM1219.76 359.81h8v8h-8zM707.76 375.81h8v8h-8zM707.76 383.81h8v8h-8zM1211.76 383.81h8v8h-8zM707.76 391.81h8v8h-8zM1211.76 391.81h8v8h-8zM707.76 399.81h8v8h-8zM1211.76 399.81h8v8h-8zM1211.76 407.81h8v8h-8zM1203.76 423.81h8v8h-8zM731.76 431.81h16v8h-16zM1179.76 431.81h16v8h-16zM867.76 439.81h24v8h-24zM1043.76 439.81h16v8h-16zM923.76 447.81h24v8h-24zM987.76 447.81h16v8h-16z"/>
<path fill="#222222" d="M907.76 71.81h8v8h-8zM1027.76 87.81h8v8h-8zM891.76 103.81h8v8h-8zM891.76 111.81h8v8h-8zM899.76 143.81h8v8h-8zM883.76 175.81h8v8h-8zM1051.76 183.81h8v8h-8zM1059.76 191.81h8v8h-8zM827.76 207.81h16v8h-16zM1155.76 207.81h32v8h-32zM707.76 223.81h8v8h-8zM699.76 231.81h8v8h-8zM675.76 239.81h24v8h-24zM1235.76 239.81h24v8h-24zM1227.76 311.81h32v8h-32zM675.76 319.81h24v8h-24zM1227.76 319.81h8v8h-8zM675.76 327.81h24v8h-24zM699.76 343.81h8v8h-8zM1219.76 351.81h8v8h-8zM707.76 367.81h8v8h-8zM1211.76 375.81h8v8h-8zM715.76 415.81h8v8h-8zM1203.76 415.81h8v8h-8zM723.76 423.81h8v8h-8zM1195.76 423.81h8v8h-8zM747.76 431.81h96v8h-96zM1083.76 431.81h96v8h-96zM891.76 439.81h8v8h-8zM1027.76 439.81h16v8h-16zM947.76 447.81h40v8h-40z"/>
<path fill="#242424" d="M1019.76 55.81h8v8h-8zM907.76 63.81h8v8h-8zM1027.76 127.81h8v8h-8zM899.76 135.81h8v8h-8zM1027.76 167.81h8v8h-8zM875.76 183.81h8v8h-8zM867.76 191.81h8v8h-8zM859.76 199.81h8v8h-8zM1067.76 199.81h8v8h-8zM843.76 207.81h8v8h-8zM1091.76 207.81h64v8h-64zM723.76 215.81h8v8h-8zM1203.76 215.81h8v8h-8zM1227.76 239.81h8v8h-8zM675.76 247.81h24v8h-24zM1235.76 295.81h24v8h-24zM1227.76 303.81h32v8h-32zM675.76 311.81h24v8h-24zM699.76 335.81h8v8h-8zM1219.76 343.81h8v8h-8zM707.76 359.81h8v8h-8zM1211.76 367.81h8v8h-8zM715.76 383.81h8v8h-8zM715.76 391.81h8v8h-8zM1203.76 391.81h8v8h-8zM715.76 399.81h8v8h-8zM1203.76 399.81h8v8h-8zM715.76 407.81h8v8h-8zM1203.76 407.81h8v8h-8zM723.76 415.81h8v8h-8zM731.76 423.81h8v8h-8zM1187.76 423.81h8v8h-8zM843.76 431.81h24v8h-24zM1059.76 431.81h24v8h-24zM899.76 439.81h16v8h-16zM1019.76 439.81h8v8h-8z"/>
<path fill="#262626" d="M1019.76 79.81h8v8h-8zM899.76 87.81h8v8h-8zM1019.76 151.81h8v8h-8zM1019.76 159.81h8v8h-8zM851.76 207.81h8v8h-8zM1083.76 207.81h8v8h-8zM731.76 215.81h16v8h-16zM1195.76 215.81h8v8h-8zM1211.76 223.81h8v8h-8zM1219.76 231.81h8v8h-8zM699.76 239.81h8v8h-8zM1227.76 247.81h32v8h-32zM675.76 255.81h24v8h-24zM1227.76 287.81h32v8h-32zM675.76 295.81h24v8h-24zM1227.76 295.81h8v8h-8zM675.76 303.81h24v8h-24zM699.76 327.81h8v8h-8zM1219.76 335.81h8v8h-8zM707.76 351.81h8v8h-8zM1211.76 359.81h8v8h-8zM715.76 367.81h8v8h-8zM715.76 375.81h8v8h-8zM1203.76 375.81h8v8h-8zM1203.76 383.81h8v8h-8zM723.76 407.81h8v8h-8zM1195.76 415.81h8v8h-8zM739.76 423.81h80v8h-80zM1107.76 423.81h80v8h-80zM867.76 431.81h16v8h-16zM1051.76 431.81h8v8h-8zM915.76 439.81h8v8h-8zM1011.76 439.81h8v8h-8z"/>
<path fill="#282828" d="M1027.76 95.81h8v8h-8zM1027.76 119.81h8v8h-8zM899.76 127.81h8v8h-8zM1019.76 143.81h8v8h-8zM899.76 167.81h8v8h-8zM1035.76 175.81h8v8h-8zM1051.76 191.81h8v8h-8zM867.76 199.81h8v8h-8zM1059.76 199.81h8v8h-8zM1075.76 207.81h8v8h-8zM747.76 215.81h88v8h-88zM1187.76 215.81h8v8h-8zM715.76 223.81h8v8h-8zM707.76 231.81h8v8h-8zM1227.76 255.81h32v8h-32zM675.76 263.81h24v8h-24zM1227.76 263.81h32v8h-32zM675.76 271.81h24v8h-24zM1227.76 271.81h32v8h-32zM675.76 279.81h24v8h-24zM1227.76 279.81h32v8h-32zM675.76 287.81h24v8h-24zM699.76 311.81h8v8h-8zM699.76 319.81h8v8h-8zM1219.76 327.81h8v8h-8zM707.76 343.81h8v8h-8zM1211.76 351.81h8v8h-8zM1203.76 367.81h8v8h-8zM723.76 375.81h8v8h-8zM723.76 383.81h8v8h-8zM1195.76 383.81h8v8h-8zM723.76 391.81h8v8h-8zM1195.76 391.81h8v8h-8zM723.76 399.81h8v8h-8zM1195.76 399.81h8v8h-8zM731.76 407.81h8v8h-8zM1195.76 407.81h8v8h-8zM731.76 415.81h16v8h-16zM1179.76 415.81h16v8h-16zM819.76 423.81h32v8h-32zM1075.76 423.81h32v8h-32zM883.76 431.81h8v8h-8zM1043.76 431.81h8v8h-8zM923.76 439.81h8v8h-8zM995.76 439.81h16v8h-16z"/>
<path fill="#2a2a2a" d="M1019.76 23.81h8v8h-8zM1019.76 31.81h8v8h-8zM1019.76 39.81h8v8h-8zM1019.76 47.81h8v8h-8zM907.76 55.81h8v8h-8zM907.76 79.81h8v8h-8zM1027.76 111.81h8v8h-8zM907.76 151.81h8v8h-8zM907.76 159.81h8v8h-8zM891.76 175.81h8v8h-8zM1043.76 183.81h8v8h-8zM875.76 191.81h8v8h-8zM859.76 207.81h8v8h-8zM1067.76 207.81h8v8h-8zM835.76 215.81h16v8h-16zM1171.76 215.81h16v8h-16zM699.76 247.81h8v8h-8zM699.76 303.81h8v8h-8zM1219.76 319.81h8v8h-8zM707.76 335.81h8v8h-8zM1211.76 343.81h8v8h-8zM715.76 359.81h8v8h-8zM1203.76 359.81h8v8h-8zM723.76 367.81h8v8h-8zM1195.76 375.81h8v8h-8zM731.76 383.81h8v8h-8zM1187.76 383.81h8v8h-8zM731.76 391.81h16v8h-16zM1187.76 391.81h8v8h-8zM731.76 399.81h16v8h-16zM1187.76 399.81h8v8h-8zM739.76 407.81h8v8h-8zM1179.76 407.81h16v8h-16zM747.76 415.81h80v8h-80zM1099.76 415.81h80v8h-80zM851.76 423.81h16v8h-16zM1059.76 423.81h16v8h-16zM891.76 431.81h8v8h-8zM1027.76 431.81h16v8h-16zM931.76 439.81h24v8h-24zM979.76 439.81h16v8h-16z"/>
<path fill="#2c2c2c" d="M1011.76 63.81h8v8h-8zM1011.76 71.81h8v8h-8zM899.76 95.81h8v8h-8zM1027.76 103.81h8v8h-8zM899.76 119.81h8v8h-8zM1019.76 135.81h8v8h-8zM907.76 143.81h8v8h-8zM883.76 183.81h8v8h-8zM851.76 215.81h8v8h-8zM1115.76 215.81h56v8h-56zM723.76 223.81h8v8h-8zM1203.76 223.81h8v8h-8zM1219.76 239.81h8v8h-8zM699.76 255.81h8v8h-8zM699.76 263.81h8v8h-8zM699.76 287.81h8v8h-8zM699.76 295.81h8v8h-8zM1219.76 303.81h8v8h-8zM1219.76 311.81h8v8h-8zM1211.76 335.81h8v8h-8zM715.76 351.81h8v8h-8zM1203.76 351.81h8v8h-8zM723.76 359.81h8v8h-8zM1195.76 367.81h8v8h-8zM731.76 375.81h16v8h-16zM1179.76 375.81h16v8h-16zM739.76 383.81h32v8h-32zM1147.76 383.81h40v8h-40zM747.76 391.81h56v8h-56zM1123.76 391.81h64v8h-64zM747.76 399.81h64v8h-64zM1115.76 399.81h72v8h-72zM747.76 407.81h80v8h-80zM1107.76 407.81h72v8h-72zM827.76 415.81h24v8h-24zM1075.76 415.81h24v8h-24zM867.76 423.81h8v8h-8zM1051.76 423.81h8v8h-8zM899.76 431.81h8v8h-8zM1019.76 431.81h8v8h-8zM955.76 439.81h24v8h-24z"/>
<path fill="#2e2e2e" d="M1019.76 167.81h8v8h-8zM867.76 207.81h8v8h-8zM1083.76 215.81h32v8h-32zM731.76 223.81h8v8h-8zM715.76 231.81h8v8h-8zM1211.76 231.81h8v8h-8zM707.76 239.81h8v8h-8zM699.76 271.81h8v8h-8zM699.76 279.81h8v8h-8zM1219.76 295.81h8v8h-8zM707.76 327.81h8v8h-8zM1211.76 327.81h8v8h-8zM715.76 343.81h8v8h-8zM1195.76 359.81h8v8h-8zM731.76 367.81h16v8h-16zM1179.76 367.81h16v8h-16zM747.76 375.81h40v8h-40zM1115.76 375.81h64v8h-64zM771.76 383.81h56v8h-56zM1099.76 383.81h48v8h-48zM803.76 391.81h32v8h-32zM1091.76 391.81h32v8h-32zM811.76 399.81h32v8h-32zM1091.76 399.81h24v8h-24zM827.76 407.81h24v8h-24zM1083.76 407.81h24v8h-24zM851.76 415.81h16v8h-16zM1067.76 415.81h8v8h-8zM875.76 423.81h8v8h-8zM1043.76 423.81h8v8h-8zM907.76 431.81h8v8h-8z"/>
<path fill="#303030" d="M907.76 23.81h8v8h-8zM907.76 31.81h8v8h-8zM907.76 39.81h8v8h-8zM907.76 47.81h8v8h-8zM915.76 71.81h8v8h-8zM1019.76 87.81h8v8h-8zM899.76 103.81h8v8h-8zM899.76 111.81h8v8h-8zM875.76 199.81h8v8h-8zM1051.76 199.81h8v8h-8zM1059.76 207.81h8v8h-8zM859.76 215.81h8v8h-8zM1075.76 215.81h8v8h-8zM739.76 223.81h16v8h-16zM1195.76 223.81h8v8h-8zM1219.76 247.81h8v8h-8zM1219.76 287.81h8v8h-8zM707.76 319.81h8v8h-8zM715.76 335.81h8v8h-8zM1203.76 343.81h8v8h-8zM723.76 351.81h8v8h-8zM1195.76 351.81h8v8h-8zM731.76 359.81h8v8h-8zM1187.76 359.81h8v8h-8zM747.76 367.81h32v8h-32zM1123.76 367.81h56v8h-56zM787.76 375.81h32v8h-32zM1091.76 375.81h24v8h-24zM827.76 383.81h16v8h-16zM1083.76 383.81h16v8h-16zM835.76 391.81h16v8h-16zM1083.76 391.81h8v8h-8zM843.76 399.81h8v8h-8zM1075.76 399.81h16v8h-16zM851.76 407.81h8v8h-8zM1075.76 407.81h8v8h-8zM867.76 415.81h8v8h-8zM1059.76 415.81h8v8h-8zM883.76 423.81h8v8h-8zM1035.76 423.81h8v8h-8zM915.76 431.81h8v8h-8zM1011.76 431.81h8v8h-8z"/>
<path fill="#323232" d="M915.76 63.81h8v8h-8zM1019.76 127.81h8v8h-8zM907.76 135.81h8v8h-8zM1011.76 151.81h8v8h-8zM1011.76 159.81h8v8h-8zM907.76 167.81h8v8h-8zM1027.76 175.81h8v8h-8zM1043.76 191.81h8v8h-8zM755.76 223.81h88v8h-88zM1187.76 223.81h8v8h-8zM707.76 247.81h8v8h-8zM1219.76 255.81h8v8h-8zM1219.76 263.81h8v8h-8zM1219.76 271.81h8v8h-8zM1219.76 279.81h8v8h-8zM707.76 311.81h8v8h-8zM1211.76 319.81h8v8h-8zM1203.76 335.81h8v8h-8zM723.76 343.81h8v8h-8zM731.76 351.81h8v8h-8zM739.76 359.81h16v8h-16zM1163.76 359.81h24v8h-24zM779.76 367.81h24v8h-24zM1099.76 367.81h24v8h-24zM819.76 375.81h16v8h-16zM1083.76 375.81h8v8h-8zM843.76 383.81h8v8h-8zM1075.76 383.81h8v8h-8zM851.76 391.81h8v8h-8zM1075.76 391.81h8v8h-8zM851.76 399.81h8v8h-8zM1067.76 399.81h8v8h-8zM859.76 407.81h8v8h-8zM1067.76 407.81h8v8h-8zM875.76 415.81h8v8h-8zM1051.76 415.81h8v8h-8zM891.76 423.81h8v8h-8zM923.76 431.81h8v8h-8zM1003.76 431.81h8v8h-8z"/>
<path fill="#343434" d="M1011.76 55.81h8v8h-8zM1011.76 79.81h8v8h-8zM907.76 87.81h8v8h-8zM1035.76 183.81h8v8h-8zM1067.76 215.81h8v8h-8zM843.76 223.81h8v8h-8zM1171.76 223.81h16v8h-16zM723.76 231.81h8v8h-8zM1203.76 231.81h8v8h-8zM715.76 239.81h8v8h-8zM1211.76 239.81h8v8h-8zM707.76 255.81h8v8h-8zM707.76 303.81h8v8h-8zM1211.76 311.81h8v8h-8zM715.76 327.81h8v8h-8zM1203.76 327.81h8v8h-8zM1195.76 343.81h8v8h-8zM739.76 351.81h8v8h-8zM1179.76 351.81h16v8h-16zM755.76 359.81h32v8h-32zM1099.76 359.81h64v8h-64zM803.76 367.81h16v8h-16zM1083.76 367.81h16v8h-16zM835.76 375.81h16v8h-16zM1075.76 375.81h8v8h-8zM851.76 383.81h8v8h-8zM1067.76 383.81h8v8h-8zM859.76 391.81h8v8h-8zM1067.76 391.81h8v8h-8zM859.76 399.81h8v8h-8zM867.76 407.81h8v8h-8zM1059.76 407.81h8v8h-8zM1043.76 415.81h8v8h-8zM899.76 423.81h8v8h-8zM1027.76 423.81h8v8h-8zM931.76 431.81h8v8h-8zM987.76 431.81h16v8h-16z"/>
<path fill="#363636" d="M1011.76 143.81h8v8h-8zM915.76 151.81h8v8h-8zM915.76 159.81h8v8h-8zM899.76 175.81h8v8h-8zM883.76 191.81h8v8h-8zM875.76 207.81h8v8h-8zM1051.76 207.81h8v8h-8zM867.76 215.81h8v8h-8zM851.76 223.81h8v8h-8zM1147.76 223.81h24v8h-24zM731.76 231.81h8v8h-8zM707.76 263.81h8v8h-8zM707.76 287.81h8v8h-8zM707.76 295.81h8v8h-8zM1211.76 295.81h8v8h-8zM1211.76 303.81h8v8h-8zM715.76 319.81h8v8h-8zM723.76 335.81h8v8h-8zM1195.76 335.81h8v8h-8zM731.76 343.81h8v8h-8zM1187.76 343.81h8v8h-8zM747.76 351.81h16v8h-16zM1123.76 351.81h56v8h-56zM787.76 359.81h16v8h-16zM1091.76 359.81h8v8h-8zM819.76 367.81h16v8h-16zM1075.76 367.81h8v8h-8zM851.76 375.81h8v8h-8zM1067.76 375.81h8v8h-8zM859.76 383.81h8v8h-8zM1059.76 391.81h8v8h-8zM867.76 399.81h8v8h-8zM1059.76 399.81h8v8h-8zM875.76 407.81h8v8h-8zM1051.76 407.81h8v8h-8zM883.76 415.81h8v8h-8zM907.76 423.81h8v8h-8zM1019.76 423.81h8v8h-8zM939.76 431.81h16v8h-16zM979.76 431.81h8v8h-8z"/>
<path fill="#383838" d="M1019.76 95.81h8v8h-8zM1019.76 119.81h8v8h-8zM907.76 127.81h8v8h-8zM891.76 183.81h8v8h-8zM1059.76 215.81h8v8h-8zM859.76 223.81h8v8h-8zM1091.76 223.81h56v8h-56zM739.76 231.81h8v8h-8zM1195.76 231.81h8v8h-8zM1211.76 247.81h8v8h-8zM707.76 271.81h8v8h-8zM707.76 279.81h8v8h-8zM1211.76 287.81h8v8h-8zM715.76 311.81h8v8h-8zM1203.76 319.81h8v8h-8zM723.76 327.81h8v8h-8zM739.76 343.81h8v8h-8zM1171.76 343.81h16v8h-16zM763.76 351.81h24v8h-24zM1091.76 351.81h32v8h-32zM803.76 359.81h16v8h-16zM1075.76 359.81h16v8h-16zM835.76 367.81h16v8h-16zM1067.76 367.81h8v8h-8zM1059.76 383.81h8v8h-8zM867.76 391.81h8v8h-8zM1051.76 399.81h8v8h-8zM1043.76 407.81h8v8h-8zM891.76 415.81h8v8h-8zM1035.76 415.81h8v8h-8zM1011.76 423.81h8v8h-8zM955.76 431.81h24v8h-24z"/>
<path fill="#3a3a3a" d="M915.76 55.81h8v8h-8zM1003.76 71.81h8v8h-8zM915.76 79.81h8v8h-8zM1043.76 199.81h8v8h-8zM1083.76 223.81h8v8h-8zM747.76 231.81h8v8h-8zM811.76 231.81h24v8h-24zM723.76 239.81h8v8h-8zM1203.76 239.81h8v8h-8zM715.76 247.81h8v8h-8zM1211.76 255.81h8v8h-8zM1211.76 279.81h8v8h-8zM1203.76 311.81h8v8h-8zM1195.76 327.81h8v8h-8zM731.76 335.81h8v8h-8zM1187.76 335.81h8v8h-8zM747.76 343.81h16v8h-16zM1107.76 343.81h64v8h-64zM787.76 351.81h8v8h-8zM1083.76 351.81h8v8h-8zM819.76 359.81h8v8h-8zM851.76 367.81h8v8h-8zM859.76 375.81h8v8h-8zM1059.76 375.81h8v8h-8zM867.76 383.81h8v8h-8zM1051.76 391.81h8v8h-8zM875.76 399.81h8v8h-8zM883.76 407.81h8v8h-8zM1027.76 415.81h8v8h-8zM915.76 423.81h8v8h-8z"/>
<path fill="#3c3c3c" d="M1011.76 47.81h8v8h-8zM1003.76 63.81h8v8h-8zM1019.76 111.81h8v8h-8zM1011.76 135.81h8v8h-8zM915.76 143.81h8v8h-8zM1011.76 167.81h8v8h-8zM883.76 199.81h8v8h-8zM875.76 215.81h8v8h-8zM1075.76 223.81h8v8h-8zM755.76 231.81h56v8h-56zM835.76 231.81h16v8h-16zM1187.76 231.81h8v8h-8zM715.76 255.81h8v8h-8zM1211.76 263.81h8v8h-8zM1211.76 271.81h8v8h-8zM715.76 303.81h8v8h-8zM1203.76 303.81h8v8h-8zM723.76 319.81h8v8h-8zM1195.76 319.81h8v8h-8zM731.76 327.81h8v8h-8zM1187.76 327.81h8v8h-8zM739.76 335.81h8v8h-8zM1163.76 335.81h24v8h-24zM763.76 343.81h16v8h-16zM1091.76 343.81h16v8h-16zM795.76 351.81h16v8h-16zM1075.76 351.81h8v8h-8zM827.76 359.81h16v8h-16zM1067.76 359.81h8v8h-8zM859.76 367.81h8v8h-8zM1059.76 367.81h8v8h-8zM867.76 375.81h8v8h-8zM1051.76 383.81h8v8h-8zM875.76 391.81h8v8h-8zM1043.76 399.81h8v8h-8zM1035.76 407.81h8v8h-8zM899.76 415.81h8v8h-8zM923.76 423.81h8v8h-8zM1003.76 423.81h8v8h-8z"/>
<path fill="#3e3e3e" d="M1011.76 23.81h8v8h-8zM1011.76 31.81h8v8h-8zM1011.76 39.81h8v8h-8zM1019.76 103.81h8v8h-8zM907.76 119.81h8v8h-8zM1019.76 175.81h8v8h-8zM1035.76 191.81h8v8h-8zM1051.76 215.81h8v8h-8zM867.76 223.81h8v8h-8zM1067.76 223.81h8v8h-8zM851.76 231.81h8v8h-8zM1179.76 231.81h8v8h-8zM731.76 239.81h8v8h-8zM715.76 295.81h8v8h-8zM1203.76 295.81h8v8h-8zM1195.76 311.81h8v8h-8zM1179.76 327.81h8v8h-8zM747.76 335.81h16v8h-16zM1099.76 335.81h64v8h-64zM779.76 343.81h16v8h-16zM1075.76 343.81h16v8h-16zM811.76 351.81h8v8h-8zM1067.76 351.81h8v8h-8zM843.76 359.81h8v8h-8zM1059.76 359.81h8v8h-8zM1051.76 375.81h8v8h-8zM875.76 383.81h8v8h-8zM1043.76 391.81h8v8h-8zM883.76 399.81h8v8h-8zM891.76 407.81h8v8h-8zM1019.76 415.81h8v8h-8zM995.76 423.81h8v8h-8z"/>
<path fill="#404040" d="M923.76 71.81h8v8h-8zM907.76 95.81h8v8h-8zM1003.76 151.81h8v8h-8zM1003.76 159.81h8v8h-8zM915.76 167.81h8v8h-8zM1043.76 207.81h8v8h-8zM859.76 231.81h8v8h-8zM1163.76 231.81h16v8h-16zM1195.76 239.81h8v8h-8zM723.76 247.81h8v8h-8zM1203.76 247.81h8v8h-8zM715.76 263.81h8v8h-8zM715.76 271.81h8v8h-8zM715.76 279.81h8v8h-8zM715.76 287.81h8v8h-8zM1203.76 287.81h8v8h-8zM723.76 311.81h8v8h-8zM731.76 319.81h8v8h-8zM1187.76 319.81h8v8h-8zM739.76 327.81h8v8h-8zM1155.76 327.81h24v8h-24zM763.76 335.81h16v8h-16zM1083.76 335.81h16v8h-16zM795.76 343.81h8v8h-8zM1067.76 343.81h8v8h-8zM819.76 351.81h8v8h-8zM1059.76 351.81h8v8h-8zM851.76 359.81h8v8h-8zM867.76 367.81h8v8h-8zM1051.76 367.81h8v8h-8zM875.76 375.81h8v8h-8zM1043.76 383.81h8v8h-8zM883.76 391.81h8v8h-8zM1035.76 399.81h8v8h-8zM1027.76 407.81h8v8h-8zM907.76 415.81h8v8h-8zM931.76 423.81h8v8h-8zM987.76 423.81h8v8h-8z"/>
<path fill="#424242" d="M923.76 63.81h8v8h-8zM1011.76 87.81h8v8h-8zM1027.76 183.81h8v8h-8zM891.76 191.81h8v8h-8zM883.76 207.81h8v8h-8zM1059.76 223.81h8v8h-8zM1123.76 231.81h40v8h-40zM739.76 239.81h16v8h-16zM819.76 239.81h24v8h-24zM1203.76 255.81h8v8h-8zM1203.76 263.81h8v8h-8zM1203.76 271.81h8v8h-8zM1203.76 279.81h8v8h-8zM723.76 303.81h8v8h-8zM1195.76 303.81h8v8h-8zM1187.76 311.81h8v8h-8zM1171.76 319.81h16v8h-16zM747.76 327.81h16v8h-16zM1099.76 327.81h56v8h-56zM779.76 335.81h8v8h-8zM1075.76 335.81h8v8h-8zM803.76 343.81h8v8h-8zM827.76 351.81h8v8h-8zM859.76 359.81h8v8h-8zM1051.76 359.81h8v8h-8zM1043.76 375.81h8v8h-8zM883.76 383.81h8v8h-8zM1035.76 391.81h8v8h-8zM891.76 399.81h8v8h-8zM899.76 407.81h8v8h-8zM1011.76 415.81h8v8h-8zM939.76 423.81h16v8h-16zM979.76 423.81h8v8h-8z"/>
<path fill="#444444" d="M915.76 23.81h8v8h-8zM915.76 31.81h8v8h-8zM915.76 39.81h8v8h-8zM915.76 47.81h8v8h-8zM907.76 103.81h8v8h-8zM907.76 111.81h8v8h-8zM1011.76 127.81h8v8h-8zM915.76 135.81h8v8h-8zM923.76 159.81h8v8h-8zM907.76 175.81h8v8h-8zM875.76 223.81h8v8h-8zM867.76 231.81h8v8h-8zM1083.76 231.81h40v8h-40zM755.76 239.81h64v8h-64zM843.76 239.81h16v8h-16zM1187.76 239.81h8v8h-8zM731.76 247.81h8v8h-8zM1195.76 247.81h8v8h-8zM723.76 255.81h8v8h-8zM723.76 295.81h8v8h-8zM1195.76 295.81h8v8h-8zM731.76 311.81h8v8h-8zM1179.76 311.81h8v8h-8zM739.76 319.81h8v8h-8zM1139.76 319.81h32v8h-32zM763.76 327.81h16v8h-16zM1083.76 327.81h16v8h-16zM787.76 335.81h16v8h-16zM1067.76 335.81h8v8h-8zM811.76 343.81h8v8h-8zM1059.76 343.81h8v8h-8zM835.76 351.81h16v8h-16zM1051.76 351.81h8v8h-8zM867.76 359.81h8v8h-8zM875.76 367.81h8v8h-8zM1043.76 367.81h8v8h-8zM883.76 375.81h8v8h-8zM891.76 391.81h8v8h-8zM1027.76 399.81h8v8h-8zM1019.76 407.81h8v8h-8zM915.76 415.81h8v8h-8zM955.76 423.81h24v8h-24z"/>
<path fill="#464646" d="M1003.76 79.81h8v8h-8zM923.76 151.81h8v8h-8zM899.76 183.81h8v8h-8zM1035.76 199.81h8v8h-8zM1043.76 215.81h8v8h-8zM1051.76 223.81h8v8h-8zM1075.76 231.81h8v8h-8zM1179.76 239.81h8v8h-8zM723.76 263.81h8v8h-8zM723.76 287.81h8v8h-8zM1195.76 287.81h8v8h-8zM1187.76 303.81h8v8h-8zM1171.76 311.81h8v8h-8zM747.76 319.81h16v8h-16zM1091.76 319.81h48v8h-48zM779.76 327.81h8v8h-8zM1067.76 327.81h16v8h-16zM803.76 335.81h8v8h-8zM1059.76 335.81h8v8h-8zM819.76 343.81h8v8h-8zM1051.76 343.81h8v8h-8zM851.76 351.81h8v8h-8zM1043.76 359.81h8v8h-8zM1035.76 383.81h8v8h-8zM899.76 399.81h8v8h-8zM907.76 407.81h8v8h-8zM923.76 415.81h8v8h-8zM1003.76 415.81h8v8h-8z"/>
<path fill="#484848" d="M1003.76 55.81h8v8h-8zM915.76 87.81h8v8h-8zM1003.76 143.81h8v8h-8zM883.76 215.81h8v8h-8zM1067.76 231.81h8v8h-8zM859.76 239.81h8v8h-8zM1171.76 239.81h8v8h-8zM739.76 247.81h8v8h-8zM819.76 247.81h32v8h-32zM1187.76 247.81h8v8h-8zM731.76 255.81h8v8h-8zM1195.76 255.81h8v8h-8zM723.76 271.81h8v8h-8zM723.76 279.81h8v8h-8zM1195.76 279.81h8v8h-8zM1187.76 295.81h8v8h-8zM731.76 303.81h8v8h-8zM1179.76 303.81h8v8h-8zM739.76 311.81h8v8h-8zM1123.76 311.81h48v8h-48zM763.76 319.81h8v8h-8zM1075.76 319.81h16v8h-16zM787.76 327.81h16v8h-16zM1059.76 327.81h8v8h-8zM827.76 343.81h8v8h-8zM859.76 351.81h8v8h-8zM1043.76 351.81h8v8h-8zM875.76 359.81h8v8h-8zM883.76 367.81h8v8h-8zM1035.76 375.81h8v8h-8zM891.76 383.81h8v8h-8zM1027.76 391.81h8v8h-8z"/>
<path fill="#4a4a4a" d="M1003.76 167.81h8v8h-8zM891.76 199.81h8v8h-8zM1059.76 231.81h8v8h-8zM867.76 239.81h8v8h-8zM1147.76 239.81h24v8h-24zM747.76 247.81h8v8h-8zM803.76 247.81h16v8h-16zM851.76 247.81h8v8h-8zM1195.76 263.81h8v8h-8zM1195.76 271.81h8v8h-8zM1187.76 287.81h8v8h-8zM731.76 295.81h8v8h-8zM1179.76 295.81h8v8h-8zM1163.76 303.81h16v8h-16zM747.76 311.81h8v8h-8zM1083.76 311.81h40v8h-40zM771.76 319.81h16v8h-16zM1067.76 319.81h8v8h-8zM803.76 327.81h8v8h-8zM811.76 335.81h8v8h-8zM1051.76 335.81h8v8h-8zM835.76 343.81h16v8h-16zM1043.76 343.81h8v8h-8zM867.76 351.81h8v8h-8zM1035.76 367.81h8v8h-8zM891.76 375.81h8v8h-8zM899.76 391.81h8v8h-8zM1019.76 399.81h8v8h-8zM1011.76 407.81h8v8h-8zM931.76 415.81h8v8h-8zM995.76 415.81h8v8h-8z"/>
<path fill="#4c4c4c" d="M995.76 71.81h8v8h-8zM923.76 79.81h8v8h-8zM915.76 127.81h8v8h-8zM1035.76 207.81h8v8h-8zM875.76 231.81h8v8h-8zM1107.76 239.81h40v8h-40zM755.76 247.81h48v8h-48zM859.76 247.81h8v8h-8zM1179.76 247.81h8v8h-8zM739.76 255.81h8v8h-8zM827.76 255.81h32v8h-32zM1187.76 255.81h8v8h-8zM731.76 263.81h8v8h-8zM1187.76 279.81h8v8h-8zM731.76 287.81h8v8h-8zM1171.76 295.81h8v8h-8zM739.76 303.81h8v8h-8zM1123.76 303.81h40v8h-40zM755.76 311.81h16v8h-16zM1067.76 311.81h16v8h-16zM787.76 319.81h16v8h-16zM1059.76 319.81h8v8h-8zM811.76 327.81h8v8h-8zM1051.76 327.81h8v8h-8zM819.76 335.81h16v8h-16zM1043.76 335.81h8v8h-8zM851.76 343.81h16v8h-16zM875.76 351.81h8v8h-8zM883.76 359.81h8v8h-8zM1035.76 359.81h8v8h-8zM1027.76 383.81h8v8h-8zM907.76 399.81h8v8h-8zM915.76 407.81h8v8h-8zM987.76 415.81h8v8h-8z"/>
<path fill="#4e4e4e" d="M995.76 63.81h8v8h-8zM1011.76 95.81h8v8h-8zM1011.76 119.81h8v8h-8zM923.76 143.81h8v8h-8zM995.76 159.81h8v8h-8zM923.76 167.81h8v8h-8zM1011.76 175.81h8v8h-8zM1027.76 191.81h8v8h-8zM883.76 223.81h8v8h-8zM1043.76 223.81h8v8h-8zM1075.76 239.81h32v8h-32zM867.76 247.81h8v8h-8zM1171.76 247.81h8v8h-8zM811.76 255.81h16v8h-16zM859.76 255.81h8v8h-8zM827.76 263.81h40v8h-40zM1187.76 263.81h8v8h-8zM731.76 271.81h8v8h-8zM835.76 271.81h24v8h-24zM1187.76 271.81h8v8h-8zM731.76 279.81h8v8h-8zM843.76 279.81h16v8h-16zM843.76 287.81h16v8h-16zM1179.76 287.81h8v8h-8zM739.76 295.81h8v8h-8zM1155.76 295.81h16v8h-16zM747.76 303.81h8v8h-8zM1083.76 303.81h40v8h-40zM771.76 311.81h16v8h-16zM1059.76 311.81h8v8h-8zM803.76 319.81h8v8h-8zM1051.76 319.81h8v8h-8zM819.76 327.81h8v8h-8zM835.76 335.81h8v8h-8zM867.76 343.81h8v8h-8zM1035.76 351.81h8v8h-8zM891.76 367.81h8v8h-8zM1027.76 375.81h8v8h-8zM899.76 383.81h8v8h-8zM1019.76 391.81h8v8h-8zM1003.76 407.81h8v8h-8zM939.76 415.81h8v8h-8zM979.76 415.81h8v8h-8z"/>
<path fill="#505050" d="M923.76 55.81h8v8h-8zM1003.76 135.81h8v8h-8zM891.76 207.81h8v8h-8zM1051.76 231.81h8v8h-8zM875.76 239.81h8v8h-8zM1067.76 239.81h8v8h-8zM1155.76 247.81h16v8h-16zM747.76 255.81h8v8h-8zM803.76 255.81h8v8h-8zM867.76 255.81h8v8h-8zM1179.76 255.81h8v8h-8zM739.76 263.81h8v8h-8zM819.76 263.81h8v8h-8zM1179.76 263.81h8v8h-8zM827.76 271.81h8v8h-8zM859.76 271.81h8v8h-8zM1179.76 271.81h8v8h-8zM827.76 279.81h16v8h-16zM859.76 279.81h8v8h-8zM1179.76 279.81h8v8h-8zM827.76 287.81h16v8h-16zM859.76 287.81h8v8h-8zM1163.76 287.81h16v8h-16zM827.76 295.81h40v8h-40zM1115.76 295.81h40v8h-40zM755.76 303.81h8v8h-8zM827.76 303.81h40v8h-40zM1067.76 303.81h16v8h-16zM787.76 311.81h32v8h-32zM811.76 319.81h16v8h-16zM827.76 327.81h8v8h-8zM1043.76 327.81h8v8h-8zM843.76 335.81h24v8h-24zM875.76 343.81h8v8h-8zM1035.76 343.81h8v8h-8zM883.76 351.81h8v8h-8zM891.76 359.81h8v8h-8zM1027.76 367.81h8v8h-8zM899.76 375.81h8v8h-8zM907.76 391.81h8v8h-8zM1011.76 399.81h8v8h-8zM923.76 407.81h8v8h-8zM947.76 415.81h32v8h-32z"/>
<path fill="#525252" d="M931.76 71.81h8v8h-8zM995.76 151.81h8v8h-8zM931.76 159.81h8v8h-8zM1019.76 183.81h8v8h-8zM1035.76 215.81h8v8h-8zM1131.76 247.81h24v8h-24zM755.76 255.81h48v8h-48zM1171.76 255.81h8v8h-8zM811.76 263.81h8v8h-8zM867.76 263.81h8v8h-8zM739.76 271.81h8v8h-8zM819.76 271.81h8v8h-8zM867.76 271.81h8v8h-8zM739.76 279.81h8v8h-8zM819.76 279.81h8v8h-8zM867.76 279.81h8v8h-8zM1171.76 279.81h8v8h-8zM739.76 287.81h8v8h-8zM819.76 287.81h8v8h-8zM867.76 287.81h8v8h-8zM1147.76 287.81h16v8h-16zM747.76 295.81h8v8h-8zM819.76 295.81h8v8h-8zM867.76 295.81h8v8h-8zM1075.76 295.81h40v8h-40zM763.76 303.81h64v8h-64zM867.76 303.81h8v8h-8zM1059.76 303.81h8v8h-8zM819.76 311.81h56v8h-56zM1051.76 311.81h8v8h-8zM827.76 319.81h32v8h-32zM1043.76 319.81h8v8h-8zM835.76 327.81h32v8h-32zM867.76 335.81h16v8h-16zM1035.76 335.81h8v8h-8zM883.76 343.81h8v8h-8zM1027.76 359.81h8v8h-8zM1019.76 383.81h8v8h-8zM915.76 399.81h8v8h-8zM995.76 407.81h8v8h-8z"/>
<path fill="#545454" d="M1003.76 23.81h8v8h-8zM1003.76 31.81h8v8h-8zM1003.76 39.81h8v8h-8zM1003.76 47.81h8v8h-8zM931.76 63.81h8v8h-8zM1011.76 111.81h8v8h-8zM915.76 175.81h8v8h-8zM899.76 191.81h8v8h-8zM891.76 215.81h8v8h-8zM883.76 231.81h8v8h-8zM1059.76 239.81h8v8h-8zM875.76 247.81h8v8h-8zM1083.76 247.81h48v8h-48zM1155.76 255.81h16v8h-16zM747.76 263.81h8v8h-8zM803.76 263.81h8v8h-8zM1163.76 263.81h16v8h-16zM811.76 271.81h8v8h-8zM1163.76 271.81h16v8h-16zM811.76 279.81h8v8h-8zM875.76 279.81h8v8h-8zM1155.76 279.81h16v8h-16zM811.76 287.81h8v8h-8zM875.76 287.81h8v8h-8zM1099.76 287.81h48v8h-48zM755.76 295.81h8v8h-8zM803.76 295.81h16v8h-16zM875.76 295.81h8v8h-8zM1067.76 295.81h8v8h-8zM875.76 303.81h8v8h-8zM1051.76 303.81h8v8h-8zM875.76 311.81h8v8h-8zM1043.76 311.81h8v8h-8zM859.76 319.81h24v8h-24zM867.76 327.81h16v8h-16zM1035.76 327.81h8v8h-8zM883.76 335.81h8v8h-8zM891.76 351.81h8v8h-8zM1027.76 351.81h8v8h-8zM899.76 367.81h8v8h-8zM907.76 383.81h8v8h-8zM1011.76 391.81h8v8h-8zM931.76 407.81h8v8h-8z"/>
<path fill="#565656" d="M1011.76 103.81h8v8h-8zM915.76 119.81h8v8h-8zM1067.76 247.81h16v8h-16zM875.76 255.81h8v8h-8zM1139.76 255.81h16v8h-16zM755.76 263.81h16v8h-16zM787.76 263.81h16v8h-16zM875.76 263.81h8v8h-8zM1155.76 263.81h8v8h-8zM747.76 271.81h8v8h-8zM803.76 271.81h8v8h-8zM875.76 271.81h8v8h-8zM1155.76 271.81h8v8h-8zM747.76 279.81h8v8h-8zM803.76 279.81h8v8h-8zM1131.76 279.81h24v8h-24zM747.76 287.81h8v8h-8zM803.76 287.81h8v8h-8zM1075.76 287.81h24v8h-24zM763.76 295.81h40v8h-40zM1059.76 295.81h8v8h-8zM883.76 303.81h8v8h-8zM883.76 311.81h8v8h-8zM883.76 319.81h8v8h-8zM1035.76 319.81h8v8h-8zM883.76 327.81h8v8h-8zM1027.76 335.81h8v8h-8zM891.76 343.81h8v8h-8zM1027.76 343.81h8v8h-8zM899.76 359.81h8v8h-8zM1019.76 375.81h8v8h-8zM1003.76 399.81h8v8h-8zM987.76 407.81h8v8h-8z"/>
<path fill="#585858" d="M1003.76 87.81h8v8h-8zM915.76 95.81h8v8h-8zM923.76 135.81h8v8h-8zM931.76 151.81h8v8h-8zM995.76 167.81h8v8h-8zM907.76 183.81h8v8h-8zM1027.76 199.81h8v8h-8zM1043.76 231.81h8v8h-8zM883.76 239.81h8v8h-8zM1051.76 239.81h8v8h-8zM1083.76 255.81h56v8h-56zM771.76 263.81h16v8h-16zM1131.76 263.81h24v8h-24zM755.76 271.81h8v8h-8zM795.76 271.81h8v8h-8zM1131.76 271.81h24v8h-24zM755.76 279.81h8v8h-8zM795.76 279.81h8v8h-8zM1075.76 279.81h56v8h-56zM755.76 287.81h8v8h-8zM795.76 287.81h8v8h-8zM883.76 287.81h8v8h-8zM1059.76 287.81h16v8h-16zM883.76 295.81h8v8h-8zM1051.76 295.81h8v8h-8zM1043.76 303.81h8v8h-8zM1035.76 311.81h8v8h-8zM891.76 327.81h8v8h-8zM1027.76 327.81h8v8h-8zM891.76 335.81h8v8h-8zM899.76 351.81h8v8h-8zM1019.76 367.81h8v8h-8zM907.76 375.81h8v8h-8zM915.76 391.81h8v8h-8zM923.76 399.81h8v8h-8zM939.76 407.81h8v8h-8z"/>
<path fill="#5a5a5a" d="M995.76 79.81h8v8h-8zM1003.76 127.81h8v8h-8zM891.76 223.81h8v8h-8zM1035.76 223.81h8v8h-8zM883.76 247.81h8v8h-8zM1059.76 247.81h8v8h-8zM1067.76 255.81h16v8h-16zM1075.76 263.81h56v8h-56zM763.76 271.81h32v8h-32zM883.76 271.81h8v8h-8zM1075.76 271.81h56v8h-56zM763.76 279.81h8v8h-8zM787.76 279.81h8v8h-8zM883.76 279.81h8v8h-8zM1067.76 279.81h8v8h-8zM763.76 287.81h32v8h-32zM1051.76 287.81h8v8h-8zM1043.76 295.81h8v8h-8zM891.76 303.81h8v8h-8zM891.76 311.81h8v8h-8zM891.76 319.81h8v8h-8zM1027.76 319.81h8v8h-8zM899.76 343.81h8v8h-8zM1019.76 351.81h8v8h-8zM1019.76 359.81h8v8h-8zM907.76 367.81h8v8h-8zM1011.76 383.81h8v8h-8zM995.76 399.81h8v8h-8zM947.76 407.81h8v8h-8zM979.76 407.81h8v8h-8z"/>
<path fill="#5c5c5c" d="M923.76 47.81h8v8h-8zM987.76 71.81h8v8h-8zM995.76 143.81h8v8h-8zM987.76 159.81h8v8h-8zM931.76 167.81h8v8h-8zM1051.76 247.81h8v8h-8zM883.76 255.81h8v8h-8zM1059.76 255.81h8v8h-8zM883.76 263.81h8v8h-8zM1067.76 263.81h8v8h-8zM1067.76 271.81h8v8h-8zM771.76 279.81h16v8h-16zM1059.76 279.81h8v8h-8zM891.76 295.81h8v8h-8zM1035.76 303.81h8v8h-8zM899.76 327.81h8v8h-8zM899.76 335.81h8v8h-8zM1019.76 335.81h8v8h-8zM1019.76 343.81h8v8h-8zM907.76 359.81h8v8h-8zM1011.76 375.81h8v8h-8zM915.76 383.81h8v8h-8zM1003.76 391.81h8v8h-8zM931.76 399.81h8v8h-8zM955.76 407.81h24v8h-24z"/>
<path fill="#5e5e5e" d="M923.76 23.81h8v8h-8zM923.76 31.81h8v8h-8zM923.76 39.81h8v8h-8zM995.76 55.81h8v8h-8zM915.76 111.81h8v8h-8zM899.76 199.81h8v8h-8zM1027.76 207.81h8v8h-8zM1043.76 239.81h8v8h-8zM1059.76 263.81h8v8h-8zM1059.76 271.81h8v8h-8zM1051.76 279.81h8v8h-8zM891.76 287.81h8v8h-8zM1043.76 287.81h8v8h-8zM899.76 311.81h8v8h-8zM1027.76 311.81h8v8h-8zM899.76 319.81h8v8h-8zM1019.76 327.81h8v8h-8zM907.76 343.81h8v8h-8zM907.76 351.81h8v8h-8zM1011.76 367.81h8v8h-8zM923.76 391.81h8v8h-8z"/>
<path fill="#606060" d="M987.76 63.81h8v8h-8zM931.76 79.81h8v8h-8zM923.76 87.81h8v8h-8zM915.76 103.81h8v8h-8zM939.76 159.81h8v8h-8zM1003.76 175.81h8v8h-8zM891.76 231.81h8v8h-8zM1035.76 231.81h8v8h-8zM1051.76 255.81h8v8h-8zM1051.76 263.81h8v8h-8zM891.76 271.81h8v8h-8zM1051.76 271.81h8v8h-8zM891.76 279.81h8v8h-8zM1035.76 295.81h8v8h-8zM899.76 303.81h8v8h-8zM1027.76 303.81h8v8h-8zM1019.76 319.81h8v8h-8zM907.76 327.81h8v8h-8zM907.76 335.81h8v8h-8zM1011.76 359.81h8v8h-8zM915.76 375.81h8v8h-8zM1003.76 383.81h8v8h-8zM939.76 399.81h8v8h-8zM987.76 399.81h8v8h-8z"/>
<path fill="#626262" d="M939.76 71.81h8v8h-8zM931.76 143.81h8v8h-8zM987.76 151.81h8v8h-8zM1019.76 191.81h8v8h-8zM899.76 207.81h8v8h-8zM1027.76 215.81h8v8h-8zM891.76 239.81h8v8h-8zM1043.76 247.81h8v8h-8zM891.76 263.81h8v8h-8zM1043.76 279.81h8v8h-8zM1035.76 287.81h8v8h-8zM899.76 295.81h8v8h-8zM1019.76 311.81h8v8h-8zM907.76 319.81h8v8h-8zM1011.76 335.81h8v8h-8zM1011.76 343.81h8v8h-8zM1011.76 351.81h8v8h-8zM915.76 367.81h8v8h-8zM923.76 383.81h8v8h-8zM995.76 391.81h8v8h-8zM979.76 399.81h8v8h-8z"/>
<path fill="#646464" d="M923.76 127.81h8v8h-8zM891.76 247.81h8v8h-8zM891.76 255.81h8v8h-8zM1043.76 255.81h8v8h-8zM1043.76 263.81h8v8h-8zM1043.76 271.81h8v8h-8zM899.76 287.81h8v8h-8zM1027.76 295.81h8v8h-8zM907.76 311.81h8v8h-8zM1011.76 327.81h8v8h-8zM915.76 335.81h8v8h-8zM915.76 343.81h8v8h-8zM915.76 351.81h8v8h-8zM915.76 359.81h8v8h-8zM1003.76 375.81h8v8h-8zM931.76 391.81h8v8h-8zM947.76 399.81h8v8h-8z"/>
<path fill="#666666" d="M931.76 55.81h8v8h-8zM939.76 63.81h8v8h-8zM995.76 135.81h8v8h-8zM987.76 167.81h8v8h-8zM923.76 175.81h8v8h-8zM1011.76 183.81h8v8h-8zM899.76 215.81h8v8h-8zM1035.76 239.81h8v8h-8zM899.76 279.81h8v8h-8zM1035.76 279.81h8v8h-8zM907.76 303.81h8v8h-8zM1019.76 303.81h8v8h-8zM1011.76 319.81h8v8h-8zM915.76 327.81h8v8h-8zM1003.76 367.81h8v8h-8zM923.76 375.81h8v8h-8zM995.76 383.81h8v8h-8zM987.76 391.81h8v8h-8zM955.76 399.81h24v8h-24z"/>
<path fill="#686868" d="M1003.76 119.81h8v8h-8zM939.76 151.81h8v8h-8zM979.76 159.81h8v8h-8zM1027.76 223.81h8v8h-8zM1035.76 271.81h8v8h-8zM1027.76 287.81h8v8h-8zM1011.76 311.81h8v8h-8zM915.76 319.81h8v8h-8zM1003.76 327.81h8v8h-8zM1003.76 335.81h8v8h-8zM1003.76 343.81h8v8h-8zM1003.76 351.81h8v8h-8zM1003.76 359.81h8v8h-8zM923.76 367.81h8v8h-8zM931.76 383.81h8v8h-8zM939.76 391.81h8v8h-8z"/>
<path fill="#6a6a6a" d="M1003.76 95.81h8v8h-8zM939.76 167.81h8v8h-8zM907.76 191.81h8v8h-8zM899.76 223.81h8v8h-8zM1035.76 247.81h8v8h-8zM1035.76 255.81h8v8h-8zM1035.76 263.81h8v8h-8zM899.76 271.81h8v8h-8zM907.76 295.81h8v8h-8zM1019.76 295.81h8v8h-8zM915.76 311.81h8v8h-8zM923.76 335.81h8v8h-8zM923.76 343.81h8v8h-8zM923.76 351.81h8v8h-8zM923.76 359.81h8v8h-8zM995.76 375.81h8v8h-8zM979.76 391.81h8v8h-8z"/>
<path fill="#6c6c6c" d="M995.76 47.81h8v8h-8zM979.76 71.81h8v8h-8zM947.76 159.81h8v8h-8zM915.76 183.81h8v8h-8zM1019.76 199.81h8v8h-8zM899.76 263.81h8v8h-8zM1027.76 279.81h8v8h-8zM907.76 287.81h8v8h-8zM915.76 303.81h8v8h-8zM923.76 319.81h8v8h-8zM1003.76 319.81h8v8h-8zM923.76 327.81h8v8h-8zM931.76 375.81h8v8h-8zM987.76 383.81h8v8h-8zM947.76 391.81h8v8h-8z"/>
<path fill="#6e6e6e" d="M995.76 23.81h8v8h-8zM995.76 31.81h8v8h-8zM995.76 39.81h8v8h-8zM987.76 79.81h8v8h-8zM931.76 135.81h8v8h-8zM987.76 143.81h8v8h-8zM899.76 231.81h8v8h-8zM1027.76 231.81h8v8h-8zM899.76 255.81h8v8h-8zM1011.76 303.81h8v8h-8zM995.76 327.81h8v8h-8zM995.76 335.81h8v8h-8zM995.76 343.81h8v8h-8zM995.76 351.81h8v8h-8zM995.76 359.81h8v8h-8zM995.76 367.81h8v8h-8zM939.76 383.81h8v8h-8zM955.76 391.81h24v8h-24z"/>
<path fill="#707070" d="M979.76 63.81h8v8h-8zM947.76 71.81h8v8h-8zM979.76 151.81h8v8h-8zM971.76 159.81h8v8h-8zM995.76 175.81h8v8h-8zM899.76 239.81h8v8h-8zM899.76 247.81h8v8h-8zM1027.76 271.81h8v8h-8zM907.76 279.81h8v8h-8zM1019.76 287.81h8v8h-8zM915.76 295.81h8v8h-8zM923.76 311.81h8v8h-8zM1003.76 311.81h8v8h-8zM931.76 327.81h8v8h-8zM931.76 335.81h8v8h-8zM931.76 343.81h8v8h-8zM931.76 351.81h8v8h-8zM931.76 359.81h8v8h-8zM931.76 367.81h8v8h-8zM987.76 375.81h8v8h-8zM979.76 383.81h8v8h-8z"/>
<path fill="#727272" d="M995.76 87.81h8v8h-8zM1003.76 111.81h8v8h-8zM923.76 119.81h8v8h-8zM955.76 159.81h8v8h-8zM979.76 167.81h8v8h-8zM1019.76 207.81h8v8h-8zM1027.76 239.81h8v8h-8zM1027.76 255.81h8v8h-8zM1027.76 263.81h8v8h-8zM1011.76 295.81h8v8h-8zM931.76 319.81h8v8h-8zM995.76 319.81h8v8h-8zM987.76 335.81h8v8h-8zM987.76 343.81h8v8h-8zM939.76 375.81h8v8h-8zM947.76 383.81h8v8h-8z"/>
<path fill="#747474" d="M987.76 55.81h8v8h-8zM947.76 63.81h8v8h-8zM939.76 79.81h8v8h-8zM923.76 95.81h8v8h-8zM1003.76 103.81h8v8h-8zM995.76 127.81h8v8h-8zM947.76 151.81h8v8h-8zM963.76 159.81h8v8h-8zM907.76 199.81h8v8h-8zM1027.76 247.81h8v8h-8zM907.76 271.81h8v8h-8zM1019.76 279.81h8v8h-8zM923.76 303.81h8v8h-8zM1003.76 303.81h8v8h-8zM939.76 327.81h8v8h-8zM987.76 327.81h8v8h-8zM939.76 335.81h8v8h-8zM939.76 343.81h8v8h-8zM987.76 351.81h8v8h-8zM987.76 359.81h8v8h-8zM939.76 367.81h8v8h-8zM987.76 367.81h8v8h-8zM955.76 383.81h24v8h-24z"/>
<path fill="#767676" d="M931.76 47.81h8v8h-8zM971.76 71.81h8v8h-8zM939.76 143.81h8v8h-8zM947.76 167.81h8v8h-8zM931.76 175.81h8v8h-8zM1019.76 215.81h8v8h-8zM907.76 263.81h8v8h-8zM915.76 287.81h8v8h-8zM931.76 311.81h8v8h-8zM995.76 311.81h8v8h-8zM987.76 319.81h8v8h-8zM979.76 335.81h8v8h-8zM979.76 343.81h8v8h-8zM939.76 351.81h8v8h-8zM939.76 359.81h8v8h-8zM947.76 375.81h8v8h-8zM979.76 375.81h8v8h-8z"/>
<path fill="#787878" d="M931.76 23.81h8v8h-8zM931.76 31.81h8v8h-8zM931.76 39.81h8v8h-8zM955.76 71.81h8v8h-8zM907.76 207.81h8v8h-8zM1019.76 271.81h8v8h-8zM1011.76 287.81h8v8h-8zM939.76 319.81h8v8h-8zM947.76 327.81h8v8h-8zM979.76 327.81h8v8h-8zM947.76 335.81h8v8h-8zM971.76 335.81h8v8h-8zM947.76 343.81h8v8h-8zM979.76 351.81h8v8h-8zM979.76 359.81h8v8h-8zM979.76 367.81h8v8h-8zM955.76 375.81h8v8h-8zM971.76 375.81h8v8h-8z"/>
<path fill="#7a7a7a" d="M963.76 71.81h8v8h-8zM931.76 87.81h8v8h-8zM971.76 151.81h8v8h-8zM971.76 167.81h8v8h-8zM1003.76 183.81h8v8h-8zM1011.76 191.81h8v8h-8zM907.76 215.81h8v8h-8zM1019.76 223.81h8v8h-8zM907.76 255.81h8v8h-8zM1019.76 263.81h8v8h-8zM915.76 279.81h8v8h-8zM923.76 295.81h8v8h-8zM1003.76 295.81h8v8h-8zM995.76 303.81h8v8h-8zM987.76 311.81h8v8h-8zM947.76 319.81h8v8h-8zM979.76 319.81h8v8h-8zM955.76 327.81h24v8h-24zM955.76 335.81h16v8h-16zM955.76 343.81h24v8h-24zM947.76 351.81h8v8h-8zM971.76 351.81h8v8h-8zM947.76 359.81h8v8h-8zM947.76 367.81h8v8h-8zM971.76 367.81h8v8h-8zM963.76 375.81h8v8h-8z"/>
<path fill="#7c7c7c" d="M939.76 55.81h8v8h-8zM971.76 63.81h8v8h-8zM955.76 151.81h8v8h-8zM955.76 167.81h8v8h-8zM907.76 223.81h8v8h-8zM1019.76 231.81h8v8h-8zM1011.76 279.81h8v8h-8zM931.76 303.81h8v8h-8zM939.76 311.81h8v8h-8zM971.76 319.81h8v8h-8zM955.76 351.81h16v8h-16zM955.76 359.81h24v8h-24zM955.76 367.81h16v8h-16z"/>
<path fill="#7e7e7e" d="M955.76 63.81h8v8h-8zM923.76 103.81h8v8h-8zM923.76 111.81h8v8h-8zM931.76 127.81h8v8h-8zM987.76 135.81h8v8h-8zM963.76 167.81h8v8h-8zM907.76 231.81h8v8h-8zM907.76 239.81h8v8h-8zM907.76 247.81h8v8h-8zM1019.76 255.81h8v8h-8zM915.76 271.81h8v8h-8zM923.76 287.81h8v8h-8zM955.76 319.81h16v8h-16z"/>
<path fill="#818181" d="M963.76 63.81h8v8h-8zM979.76 79.81h8v8h-8zM979.76 143.81h8v8h-8zM963.76 151.81h8v8h-8zM1019.76 239.81h8v8h-8zM1019.76 247.81h8v8h-8zM1011.76 271.81h8v8h-8zM1003.76 287.81h8v8h-8zM931.76 295.81h8v8h-8zM987.76 303.81h8v8h-8zM947.76 311.81h8v8h-8zM979.76 311.81h8v8h-8z"/>
<path fill="#838383" d="M987.76 175.81h8v8h-8zM923.76 183.81h8v8h-8zM915.76 191.81h8v8h-8zM915.76 263.81h8v8h-8zM995.76 295.81h8v8h-8zM939.76 303.81h8v8h-8zM955.76 311.81h24v8h-24z"/>
<path fill="#858585" d="M947.76 79.81h8v8h-8zM939.76 135.81h8v8h-8zM923.76 279.81h8v8h-8z"/>
<path fill="#878787" d="M987.76 47.81h8v8h-8zM995.76 119.81h8v8h-8zM947.76 143.81h8v8h-8zM939.76 175.81h8v8h-8zM1011.76 199.81h8v8h-8zM1011.76 263.81h8v8h-8zM1003.76 279.81h8v8h-8zM947.76 303.81h8v8h-8zM979.76 303.81h8v8h-8z"/>
<path fill="#898989" d="M987.76 23.81h8v8h-8zM987.76 31.81h8v8h-8zM987.76 39.81h8v8h-8zM979.76 55.81h8v8h-8zM995.76 95.81h8v8h-8zM915.76 255.81h8v8h-8zM931.76 287.81h8v8h-8zM995.76 287.81h8v8h-8zM939.76 295.81h8v8h-8zM987.76 295.81h8v8h-8zM955.76 303.81h8v8h-8zM971.76 303.81h8v8h-8z"/>
<path fill="#8b8b8b" d="M987.76 87.81h8v8h-8zM1011.76 207.81h8v8h-8zM1011.76 255.81h8v8h-8zM923.76 271.81h8v8h-8zM963.76 303.81h8v8h-8z"/>
<path fill="#8d8d8d" d="M971.76 79.81h8v8h-8zM971.76 143.81h8v8h-8zM1011.76 215.81h8v8h-8zM915.76 247.81h8v8h-8zM1011.76 247.81h8v8h-8zM1003.76 271.81h8v8h-8z"/>
<path fill="#8f8f8f" d="M947.76 55.81h8v8h-8zM987.76 127.81h8v8h-8zM915.76 199.81h8v8h-8zM1011.76 223.81h8v8h-8zM1011.76 231.81h8v8h-8zM1011.76 239.81h8v8h-8zM931.76 279.81h8v8h-8zM995.76 279.81h8v8h-8zM947.76 295.81h8v8h-8zM979.76 295.81h8v8h-8z"/>
<path fill="#919191" d="M939.76 47.81h8v8h-8zM955.76 79.81h8v8h-8zM931.76 119.81h8v8h-8zM955.76 143.81h8v8h-8zM979.76 175.81h8v8h-8zM995.76 183.81h8v8h-8zM915.76 239.81h8v8h-8zM923.76 263.81h8v8h-8zM1003.76 263.81h8v8h-8zM939.76 287.81h8v8h-8zM987.76 287.81h8v8h-8zM971.76 295.81h8v8h-8z"/>
<path fill="#939393" d="M939.76 23.81h8v8h-8zM939.76 31.81h8v8h-8zM939.76 39.81h8v8h-8zM963.76 79.81h8v8h-8zM931.76 95.81h8v8h-8zM979.76 135.81h8v8h-8zM963.76 143.81h8v8h-8zM1003.76 191.81h8v8h-8zM915.76 207.81h8v8h-8zM915.76 215.81h8v8h-8zM915.76 223.81h8v8h-8zM915.76 231.81h8v8h-8zM955.76 295.81h16v8h-16z"/>
<path fill="#959595" d="M939.76 87.81h8v8h-8zM995.76 111.81h8v8h-8zM947.76 175.81h8v8h-8zM931.76 271.81h8v8h-8z"/>
<path fill="#979797" d="M971.76 55.81h8v8h-8zM995.76 103.81h8v8h-8zM947.76 135.81h8v8h-8zM923.76 255.81h8v8h-8zM1003.76 255.81h8v8h-8zM995.76 271.81h8v8h-8zM939.76 279.81h8v8h-8zM947.76 287.81h8v8h-8zM979.76 287.81h8v8h-8z"/>
<path fill="#999999" d="M955.76 55.81h8v8h-8zM939.76 127.81h8v8h-8zM971.76 175.81h8v8h-8zM931.76 183.81h8v8h-8zM987.76 279.81h8v8h-8z"/>
<path fill="#9b9b9b" d="M955.76 175.81h8v8h-8zM923.76 191.81h8v8h-8zM955.76 287.81h8v8h-8zM971.76 287.81h8v8h-8z"/>
<path fill="#9d9d9d" d="M963.76 55.81h8v8h-8zM963.76 175.81h8v8h-8zM923.76 247.81h8v8h-8zM1003.76 247.81h8v8h-8zM931.76 263.81h8v8h-8zM995.76 263.81h8v8h-8zM963.76 287.81h8v8h-8z"/>
<path fill="#9f9f9f" d="M979.76 47.81h8v8h-8zM939.76 271.81h8v8h-8zM987.76 271.81h8v8h-8zM947.76 279.81h8v8h-8zM979.76 279.81h8v8h-8z"/>
<path fill="#a1a1a1" d="M979.76 23.81h8v8h-8zM979.76 31.81h8v8h-8zM979.76 39.81h8v8h-8zM931.76 111.81h8v8h-8zM971.76 135.81h8v8h-8zM1003.76 199.81h8v8h-8zM1003.76 239.81h8v8h-8z"/>
<path fill="#a3a3a3" d="M979.76 87.81h8v8h-8zM931.76 103.81h8v8h-8zM955.76 135.81h8v8h-8zM1003.76 231.81h8v8h-8zM923.76 239.81h8v8h-8zM955.76 279.81h8v8h-8zM971.76 279.81h8v8h-8z"/>
<path fill="#a5a5a5" d="M947.76 47.81h8v8h-8zM987.76 119.81h8v8h-8zM987.76 183.81h8v8h-8zM1003.76 207.81h8v8h-8zM1003.76 215.81h8v8h-8zM1003.76 223.81h8v8h-8zM931.76 255.81h8v8h-8zM995.76 255.81h8v8h-8zM963.76 279.81h8v8h-8z"/>
<path fill="#a7a7a7" d="M947.76 23.81h8v8h-8zM947.76 31.81h8v8h-8zM947.76 39.81h8v8h-8zM979.76 127.81h8v8h-8zM963.76 135.81h8v8h-8zM923.76 231.81h8v8h-8zM939.76 263.81h8v8h-8zM987.76 263.81h8v8h-8zM947.76 271.81h8v8h-8zM979.76 271.81h8v8h-8z"/>
<path fill="#a9a9a9" d="M947.76 87.81h8v8h-8zM987.76 95.81h8v8h-8zM923.76 199.81h8v8h-8zM923.76 223.81h8v8h-8z"/>
<path fill="#ababab" d="M923.76 215.81h8v8h-8zM995.76 247.81h8v8h-8z"/>
<path fill="#adadad" d="M947.76 127.81h8v8h-8zM939.76 183.81h8v8h-8zM995.76 191.81h8v8h-8zM923.76 207.81h8v8h-8zM931.76 247.81h8v8h-8zM955.76 271.81h24v8h-24z"/>
<path fill="#afafaf" d="M971.76 47.81h8v8h-8zM939.76 119.81h8v8h-8zM979.76 263.81h8v8h-8z"/>
<path fill="#b1b1b1" d="M971.76 23.81h8v8h-8zM971.76 31.81h8v8h-8zM971.76 39.81h8v8h-8zM939.76 255.81h8v8h-8zM987.76 255.81h8v8h-8zM947.76 263.81h8v8h-8z"/>
<path fill="#b3b3b3" d="M955.76 47.81h8v8h-8zM971.76 87.81h8v8h-8zM939.76 95.81h8v8h-8zM995.76 239.81h8v8h-8z"/>
<path fill="#b5b5b5" d="M955.76 23.81h8v8h-8zM955.76 31.81h8v8h-8zM955.76 39.81h8v8h-8zM963.76 47.81h8v8h-8zM931.76 191.81h8v8h-8zM931.76 239.81h8v8h-8zM955.76 263.81h8v8h-8zM971.76 263.81h8v8h-8z"/>
<path fill="#b7b7b7" d="M955.76 87.81h8v8h-8zM987.76 111.81h8v8h-8zM971.76 127.81h8v8h-8zM979.76 183.81h8v8h-8zM995.76 231.81h8v8h-8zM963.76 263.81h8v8h-8z"/>
<path fill="#b9b9b9" d="M963.76 23.81h8v8h-8zM963.76 31.81h8v8h-8zM963.76 39.81h8v8h-8zM963.76 87.81h8v8h-8zM987.76 103.81h8v8h-8zM987.76 247.81h8v8h-8zM979.76 255.81h8v8h-8z"/>
<path fill="#bbbbbb" d="M955.76 127.81h8v8h-8zM947.76 183.81h8v8h-8zM995.76 199.81h8v8h-8zM995.76 223.81h8v8h-8zM931.76 231.81h8v8h-8zM939.76 247.81h8v8h-8zM947.76 255.81h8v8h-8z"/>
<path fill="#bdbdbd" d="M995.76 215.81h8v8h-8z"/>
<path fill="#bfbfbf" d="M979.76 119.81h8v8h-8zM963.76 127.81h8v8h-8zM995.76 207.81h8v8h-8zM931.76 223.81h8v8h-8z"/>
<path fill="#c1c1c1" d="M939.76 111.81h8v8h-8zM987.76 239.81h8v8h-8zM955.76 255.81h8v8h-8zM971.76 255.81h8v8h-8z"/>
<path fill="#c3c3c3" d="M979.76 95.81h8v8h-8zM939.76 103.81h8v8h-8zM971.76 183.81h8v8h-8zM987.76 191.81h8v8h-8zM931.76 199.81h8v8h-8zM963.76 255.81h8v8h-8z"/>
<path fill="#c5c5c5" d="M955.76 183.81h8v8h-8zM931.76 215.81h8v8h-8zM939.76 239.81h8v8h-8zM979.76 247.81h8v8h-8z"/>
<path fill="#c7c7c7" d="M947.76 119.81h8v8h-8zM963.76 183.81h8v8h-8zM931.76 207.81h8v8h-8zM947.76 247.81h8v8h-8z"/>
<path fill="#c9c9c9" d="M987.76 231.81h8v8h-8z"/>
<path fill="#cbcbcb" d="M947.76 95.81h8v8h-8zM939.76 191.81h8v8h-8z"/>
<path fill="#cdcdcd" d="M939.76 231.81h8v8h-8zM955.76 247.81h8v8h-8zM971.76 247.81h8v8h-8z"/>
<path fill="#cfcfcf" d="M987.76 223.81h8v8h-8zM979.76 239.81h8v8h-8zM963.76 247.81h8v8h-8z"/>
<path fill="#d1d1d1" d="M947.76 239.81h8v8h-8z"/>
<path fill="#d3d3d3" d="M979.76 111.81h8v8h-8zM971.76 119.81h8v8h-8zM987.76 199.81h8v8h-8zM987.76 215.81h8v8h-8zM939.76 223.81h8v8h-8z"/>
<path fill="#d7d7d7" d="M971.76 95.81h8v8h-8zM979.76 103.81h8v8h-8zM955.76 119.81h8v8h-8zM979.76 191.81h8v8h-8zM987.76 207.81h8v8h-8zM979.76 231.81h8v8h-8zM971.76 239.81h8v8h-8z"/>
<path fill="#d9d9d9" d="M939.76 215.81h8v8h-8zM955.76 239.81h8v8h-8z"/>
<path fill="#dbdbdb" d="M955.76 95.81h8v8h-8zM963.76 119.81h8v8h-8zM939.76 199.81h8v8h-8zM947.76 231.81h8v8h-8zM963.76 239.81h8v8h-8z"/>
<path fill="#dddddd" d="M947.76 111.81h8v8h-8zM947.76 191.81h8v8h-8z"/>
<path fill="#dfdfdf" d="M963.76 95.81h8v8h-8zM947.76 103.81h8v8h-8zM939.76 207.81h8v8h-8zM979.76 223.81h8v8h-8z"/>
<path fill="#e1e1e1" d="M971.76 231.81h8v8h-8z"/>
<path fill="#e3e3e3" d="M947.76 223.81h8v8h-8zM955.76 231.81h8v8h-8z"/>
<path fill="#e5e5e5" d="M971.76 191.81h8v8h-8zM963.76 231.81h8v8h-8z"/>
<path fill="#e7e7e7" d="M955.76 191.81h8v8h-8zM979.76 215.81h8v8h-8z"/>
<path fill="#e9e9e9" d="M971.76 111.81h8v8h-8zM963.76 191.81h8v8h-8zM979.76 199.81h8v8h-8z"/>
<path fill="#ebebeb" d="M971.76 103.81h8v8h-8zM979.76 207.81h8v8h-8zM947.76 215.81h8v8h-8zM971.76 223.81h8v8h-8z"/>
<path fill="#ededed" d="M955.76 111.81h8v8h-8zM947.76 199.81h8v8h-8zM955.76 223.81h8v8h-8z"/>
<path fill="#efefef" d="M963.76 223.81h8v8h-8z"/>
<path fill="#f1f1f1" d="M955.76 103.81h8v8h-8zM947.76 207.81h8v8h-8z"/>
<path fill="#f3f3f3" d="M963.76 111.81h8v8h-8zM971.76 215.81h8v8h-8z"/>
<path fill="#f5f5f5" d="M963.76 103.81h8v8h-8zM955.76 215.81h8v8h-8z"/>
<path fill="#f7f7f7" d="M971.76 199.81h8v8h-8z"/>
<path fill="#f9f9f9" d="M955.76 199.81h8v8h-8zM971.76 207.81h8v8h-8zM963.76 215.81h8v8h-8z"/>
<path fill="#fbfbfb" d="M963.76 199.81h8v8h-8zM955.76 207.81h8v8h-8z"/>
<path fill="#ffffff" d="M963.76 207.81h8v8h-8z"/>
</g>
<path d="M851.4 47.81V580.24M1048.5 47.81V580.24" stroke="#fff" stroke-opacity="0.85" stroke-width="0.8" fill="none"/>
</g>
<clipPath id="c2"><rect x="699.76" y="47.81" width="532.43" height="532.43"/></clipPath>
<path d="M917.75 580.24V47.81M1012.85 580.24V47.81" stroke="#006400" stroke-width="1.5" stroke-dasharray="6 6" stroke-linecap="round" fill="none" clip-path="url(#c2)"/>
<path d="M699.76 362.7H1232.19" stroke="#d02d30" stroke-width="1.7" stroke-dasharray="6 6" stroke-linecap="round" fill="none" clip-path="url(#c2)"/>
<rect x="699.76" y="47.81" width="532.43" height="532.43" fill="none" stroke="#000" stroke-width="0.75"/>
<path d="M750.38 580.24H1180.22M750.38 580.24v5.98M857.84 580.24v5.98M965.3 580.24v5.98M1072.76 580.24v5.98M1180.22 580.24v5.98" fill="none" stroke="#000" stroke-width="0.75"/>
<text transform="translate(750.38 602.04) scale(.93 1)" class="t" text-anchor="middle">-400</text>
<text transform="translate(857.84 602.04) scale(.93 1)" class="t" text-anchor="middle">-200</text>
<text transform="translate(965.3 602.04) scale(.93 1)" class="t" text-anchor="middle">0</text>
<text transform="translate(1072.76 602.04) scale(.93 1)" class="t" text-anchor="middle">200</text>
<text transform="translate(1180.22 602.04) scale(.93 1)" class="t" text-anchor="middle">400</text>
<path d="M699.76 47.81V536.01M699.76 536.01h-5.98M699.76 413.96h-5.98M699.76 291.91h-5.98M699.76 169.86h-5.98M699.76 47.81h-5.98" fill="none" stroke="#000" stroke-width="0.75"/>
<text transform="translate(685.16 536.01) rotate(-90) scale(.93 1)" class="t" text-anchor="middle">80</text>
<text transform="translate(685.16 413.96) rotate(-90) scale(.93 1)" class="t" text-anchor="middle">85</text>
<text transform="translate(685.16 291.91) rotate(-90) scale(.93 1)" class="t" text-anchor="middle">90</text>
<text transform="translate(685.16 169.86) rotate(-90) scale(.93 1)" class="t" text-anchor="middle">95</text>
<text transform="translate(685.16 47.81) rotate(-90) scale(.93 1)" class="t" text-anchor="middle">100</text>
<text x="965.98" y="31.81" class="m" text-anchor="middle">Density heat map for the top hits</text>
<text x="965.98" y="625.54" class="l" text-anchor="middle">Distance to peak summit</text>
<text transform="translate(662.16 314.02) rotate(-90)" class="l" text-anchor="middle">Motif score</text>
<path d="M79 1200.4L79 1200.3L80 1200.28L81 1200.27L82 1200.25L83 1200.23L84 1200.21L85 1200.2L86 1200.18L87 1200.16L88 1200.14L89 1200.12L90 1200.1L91 1200.08L92 1200.06L93 1200.04L94 1200.02L95 1200L96 1199.98L97 1199.95L98 1199.93L99 1199.9L100 1199.88L101 1199.85L102 1199.82L103 1199.79L104 1199.75L105 1199.72L106 1199.68L107 1199.64L108 1199.6L109 1199.55L110 1199.5L111 1199.45L112 1199.39L113 1199.33L114 1199.27L115 1199.21L116 1199.14L117 1199.07L118 1199L119 1198.93L120 1198.85L121 1198.78L122 1198.7L123 1198.62L124 1198.54L125 1198.46L126 1198.37L127 1198.28L128 1198.19L129 1198.09L130 1197.99L131 1197.88L132 1197.77L133 1197.65L134 1197.53L135 1197.4L136 1197.26L137 1197.12L138 1196.96L139 1196.8L140 1196.63L141 1196.44L142 1196.25L143 1196.05L144 1195.83L145 1195.6L146 1195.36L147 1195.1L148 1194.84L149 1194.56L150 1194.26L151 1193.96L152 1193.64L153 1193.3L154 1192.96L155 1192.6L156 1192.23L157 1191.84L158 1191.44L159 1191.03L160 1190.6L161 1190.15L162 1189.68L163 1189.2L164 1188.7L165 1188.18L166 1187.63L167 1187.06L168 1186.47L169 1185.85L170 1185.2L171 1184.52L172 1183.81L173 1183.06L174 1182.28L175 1181.46L176 1180.6L177 1179.7L178 1178.76L179 1177.78L180 1176.76L181 1175.69L182 1174.58L183 1173.41L184 1172.2L185 1170.95L186 1169.64L187 1168.29L188 1166.9L189 1165.45L190 1163.96L191 1162.42L192 1160.82L193 1159.17L194 1157.45L195 1155.66L196 1153.78L197 1151.8L198 1149.72L199 1147.55L200 1145.3L201 1142.97L202 1140.56L203 1138.06L204 1135.47L205 1132.76L206 1129.95L207 1127.01L208 1123.95L209 1120.77L210 1117.48L211 1114.09L212 1110.64L213 1107.13L214 1103.57L215 1100L216 1096.42L217 1092.82L218 1089.2L219 1085.56L220 1081.88L221 1078.16L222 1074.4L223 1070.59L224 1066.72L225 1062.79L226 1058.82L227 1054.81L228 1050.74L229 1046.64L230 1042.5L231 1038.32L232 1034.1L233 1029.84L234 1025.53L235 1021.17L236 1016.75L237 1012.26L238 1007.72L239 1003.11L240 998.46L241 993.78L242 989.08L243 984.37L244 979.68L245 975L246 970.36L247 965.75L248 961.18L249 956.64L250 952.13L251 947.65L252 943.2L253 938.77L254 934.38L255 930L256 925.65L257 921.32L258 917.01L259 912.73L260 908.46L261 904.23L262 900.01L263 895.82L264 891.65L265 887.5L266 883.38L267 879.28L268 875.21L269 871.17L270 867.17L271 863.2L272 859.27L273 855.38L274 851.54L275 847.76L276 844.05L277 840.45L278 836.97L279 833.65L280 830.5L281 827.55L282 824.78L283 822.16L284 819.69L285 817.34L286 815.11L287 813.05L288 811.2L289 809.58L290 808.19L291 806.99L292 805.96L293 805.07L294 804.32L295 803.69L296 803.2L297 802.84L298 802.59L299 802.44L300 802.38L301 802.39L302 802.46L303 802.6L304 802.79L305 803.02L306 803.27L307 803.52L308 803.76L309 803.95L310 804.1L311 804.18L312 804.18L313 804.08L314 803.89L315 803.58L316 803.16L317 802.61L318 801.92L319 801.08L320 800.07L321 798.86L322 797.42L323 795.71L324 793.71L325 791.44L326 788.9L327 786.12L328 783.14L329 780L330 776.72L331 773.35L332 769.92L333 766.44L334 762.91L335 759.31L336 755.64L337 751.9L338 748.08L339 744.22L340 740.38L341 736.65L342 733.09L343 729.78L344 726.79L345 724.15L346 721.84L347 719.8L348 718.01L349 716.47L350 715.2L351 714.2L352 713.44L353 712.9L354 712.53L355 712.31L356 712.2L357 712.17L358 712.23L359 712.4L360 712.67L361 713L362 713.3L363 713.52L364 713.6L365 713.5L366 713.18L367 712.69L368 712.1L369 711.48L370 710.84L371 710.2L372 709.57L373 708.96L374 708.4L375 707.92L376 707.58L377 707.48L378 707.64L379 708L380 708.56L381 709.42L382 710.71L383 712.46L384 714.6L385 717.07L386 719.92L387 723.2L388 726.92L389 731.01L390 735.43L391 740.12L392 745L393 750.03L394 755.15L395 760.35L396 765.59L397 770.85L398 776.09L399 781.3L400 786.43L401 791.46L402 796.37L403 801.11L404 805.67L405 810L406 814.09L407 817.97L408 821.66L409 825.2L410 828.63L411 832.07L412 835.63L413 839.44L414 843.54L415 847.9L416 852.5L417 857.33L418 862.46L419 868L420 874.03L421 880.56L422 887.58L423 895.06L424 903L425 911.39L426 920.25L427 929.62L428 939.53L429 950L430 960.98L431 971.99L432 982.5L433 992.03L434 1000.52L435 1008L436 1014.5L437 1020.13L438 1024.99L439 1029.2L440 1032.8L441 1035.71L442 1037.84L443 1039.2L444 1039.84L445 1039.86L446 1039.34L447 1038.36L448 1036.99L449 1035.28L450 1033.28L451 1031L452 1028.5L453 1025.94L454 1023.5L455 1021.31L456 1019.34L457 1017.5L458 1015.71L459 1013.98L460 1012.3L461 1010.68L462 1009.09L463 1007.5L464 1005.87L465 1004.16L466 1002.3L467 1000.25L468 997.97L469 995.4L470 992.51L471 989.3L472 985.8L473 982.03L474 978.1L475 974.14L476 970.26L477 966.57L478 963.14L479 960L480 957.17L481 954.7L482 952.6L483 950.92L484 949.68L485 948.95L486 948.84L487 949.35L488 950.36L489 951.85L490 953.87L491 956.5L492 959.8L493 963.8L494 968.4L495 973.5L496 978.99L497 984.86L498 991.12L499 997.79L500 1004.89L501 1012.33L502 1019.93L503 1027.5L504 1034.86L505 1041.83L506 1048.33L507 1054.36L508 1059.92L509 1065L510 1069.6L511 1073.71L512 1077.3L513 1080.37L514 1082.92L515 1084.95L516 1086.37L517 1086.93L518 1086.57L519 1085.5L520 1083.95L521 1081.82L522 1078.98L523 1075.48L524 1071.58L525 1067.57L526 1063.72L527 1060.12L528 1056.8L529 1053.77L530 1051.13L531 1049.02L532 1047.52L533 1046.68L534 1046.52L535 1047.04L536 1048.1L537 1049.75L538 1052.12L539 1055.34L540 1059.49L541 1064.66L542 1070.82L543 1077.73L544 1085.17L545 1092.89L546 1100.65L547 1108.33L548 1115.86L549 1123.21L550 1130.31L551 1137.11L552 1143.58L553 1149.66L554 1155.32L555 1160.5L556 1165.2L557 1169.45L558 1173.27L559 1176.72L560 1179.82L561 1182.62L562 1185.13L563 1187.38L564 1189.41L565 1191.23L566 1192.86L567 1194.3L568 1195.54L569 1196.59L570 1197.47L571 1198.2L572 1198.85L572.9 1199.4L572.9 1200.4Z" fill="#F5DEB3" stroke="#000" stroke-width="1.1" stroke-linejoin="round"/>
<clipPath id="c3"><rect x="59.76" y="687.81" width="532.43" height="532.43"/></clipPath>
<path d="M287.54 1220.24V687.81" stroke="#d02d30" stroke-width="1.6" stroke-dasharray="6 6" stroke-linecap="round" fill="none" clip-path="url(#c3)"/>
<rect x="59.76" y="687.81" width="532.43" height="532.43" fill="none" stroke="#000" stroke-width="0.75"/>
<path d="M151.75 1220.24H534.25M151.75 1220.24v5.98M247.38 1220.24v5.98M343 1220.24v5.98M438.62 1220.24v5.98M534.25 1220.24v5.98" fill="none" stroke="#000" stroke-width="0.75"/>
<text transform="translate(151.75 1242.04) scale(.93 1)" class="t" text-anchor="middle">80</text>
<text transform="translate(247.38 1242.04) scale(.93 1)" class="t" text-anchor="middle">85</text>
<text transform="translate(343 1242.04) scale(.93 1)" class="t" text-anchor="middle">90</text>
<text transform="translate(438.62 1242.04) scale(.93 1)" class="t" text-anchor="middle">95</text>
<text transform="translate(534.25 1242.04) scale(.93 1)" class="t" text-anchor="middle">100</text>
<path d="M59.76 770.4V1200.4M59.76 1200.4h-5.98M59.76 1092.9h-5.98M59.76 985.4h-5.98M59.76 877.9h-5.98M59.76 770.4h-5.98" fill="none" stroke="#000" stroke-width="0.75"/>
<text transform="translate(45.16 1200.4) rotate(-90) scale(.93 1)" class="t" text-anchor="middle">0.00</text>
<text transform="translate(45.16 1092.9) rotate(-90) scale(.93 1)" class="t" text-anchor="middle">0.02</text>
<text transform="translate(45.16 985.4) rotate(-90) scale(.93 1)" class="t" text-anchor="middle">0.04</text>
<text transform="translate(45.16 877.9) rotate(-90) scale(.93 1)" class="t" text-anchor="middle">0.06</text>
<text transform="translate(45.16 770.4) rotate(-90) scale(.93 1)" class="t" text-anchor="middle">0.08</text>
<text x="325.98" y="671.81" class="m" text-anchor="middle">Motif score threshold: 87.100</text>
<text x="325.98" y="1265.54" class="l" text-anchor="middle">Motif score</text>
<text transform="translate(22.16 954.02) rotate(-90)" class="l" text-anchor="middle">Density</text>
<path d="M719 1200.4L719 1200.3L720 1200.17L721 1200.04L722 1199.91L723 1199.76L724 1199.6L725 1199.42L726 1199.22L727 1198.99L728 1198.71L729 1198.39L730 1198L731 1197.55L732 1197.03L733 1196.45L734 1195.8L735 1195.08L736 1194.27L737 1193.33L738 1192.23L739 1190.96L740 1189.55L741 1188L742 1186.33L743 1184.54L744 1182.6L745 1180.5L746 1178.23L747 1175.8L748 1173.22L749 1170.5L750 1167.65L751 1164.68L752 1161.59L753 1158.38L754 1155.05L755 1151.6L756 1148L757 1144.26L758 1140.41L759 1136.48L760 1132.5L761 1128.5L762 1124.5L763 1120.5L764 1116.53L765 1112.64L766 1108.9L767 1105.37L768 1102.06L769 1098.97L770 1096.08L771 1093.39L772 1090.89L773 1088.55L774 1086.39L775 1084.41L776 1082.64L777 1081.09L778 1079.72L779 1078.51L780 1077.46L781 1076.56L782 1075.8L783 1075.19L784 1074.7L785 1074.3L786 1073.97L787 1073.7L788 1073.48L789 1073.33L790 1073.23L791 1073.19L792 1073.19L793 1073.22L794 1073.29L795 1073.39L796 1073.5L797 1073.62L798 1073.74L799 1073.87L800 1074L801 1074.13L802 1074.24L803 1074.34L804 1074.4L805 1074.42L806 1074.4L807 1074.34L808 1074.25L809 1074.12L810 1073.97L811 1073.8L812 1073.62L813 1073.43L814 1073.23L815 1073L816 1072.75L817 1072.48L818 1072.19L819 1071.89L820 1071.6L821 1071.31L822 1071.02L823 1070.74L824 1070.47L825 1070.2L826 1069.94L827 1069.68L828 1069.44L829 1069.21L830 1069L831 1068.81L832 1068.64L833 1068.48L834 1068.34L835 1068.2L836 1068.07L837 1067.95L838 1067.83L839 1067.71L840 1067.6L841 1067.49L842 1067.38L843 1067.26L844 1067.14L845 1067L846 1066.85L847 1066.68L848 1066.5L849 1066.3L850 1066.1L851 1065.89L852 1065.67L853 1065.45L854 1065.22L855 1065L856 1064.78L857 1064.57L858 1064.37L859 1064.2L860 1064.05L861 1063.93L862 1063.84L863 1063.77L864 1063.72L865 1063.7L866 1063.69L867 1063.69L868 1063.71L869 1063.74L870 1063.76L871 1063.79L872 1063.8L873 1063.8L874 1063.77L875 1063.72L876 1063.65L877 1063.54L878 1063.4L879 1063.22L880 1063L881 1062.73L882 1062.41L883 1062.02L884 1061.56L885 1061.01L886 1060.37L887 1059.64L888 1058.82L889 1057.9L890 1056.9L891 1055.81L892 1054.66L893 1053.44L894 1052.18L895 1050.88L896 1049.53L897 1048.13L898 1046.66L899 1045.11L900 1043.47L901 1041.71L902 1039.82L903 1037.81L904 1035.73L905 1033.6L906 1031.44L907 1029.22L908 1026.87L909 1024.35L910 1021.61L911 1018.65L912 1015.5L913 1012.15L914 1008.64L915 1005L916 1001.25L917 997.41L918 993.5L919 989.53L920 985.42L921 981.12L922 976.54L923 971.79L924 967L925 962.26L926 957.34L927 951.93L928 945.83L929 939.26L930 932.5L931 925.76L932 918.99L933 912.11L934 905.06L935 897.95L936 890.9L937 883.92L938 876.85L939 869.53L940 861.89L941 854.01L942 845.96L943 837.84L944 829.72L945 821.61L946 813.48L947 805.29L948 797L949 788.63L950 780.36L951 772.41L952 765.02L953 758.41L954 752.55L955 747L956 741.38L957 735.7L958 730.08L959 724.8L960 720.22L961 716.46L962 713.28L963 710.64L964 708.81L965 707.73L966 707.23L967 707.33L968 707.99L969 709.17L970 711.06L971 713.83L972 717.55L973 721.96L974 726.75L975 731.92L976 737.48L977 743.37L978 749.45L979 755.81L980 762.73L981 770.37L982 778.51L983 786.84L984 795.07L985 803.14L986 811.1L987 818.96L988 826.78L989 834.57L990 842.31L991 849.96L992 857.49L993 864.87L994 872.08L995 879.12L996 885.99L997 892.68L998 899.2L999 905.53L1000 911.69L1001 917.68L1002 923.5L1003 929.16L1004 934.67L1005 940.07L1006 945.36L1007 950.58L1008 955.71L1009 960.7L1010 965.51L1011 970.08L1012 974.37L1013 978.38L1014 982.16L1015 985.74L1016 989.16L1017 992.46L1018 995.64L1019 998.66L1020 1001.5L1021 1004.16L1022 1006.68L1023 1009.15L1024 1011.62L1025 1014.15L1026 1016.67L1027 1019.14L1028 1021.5L1029 1023.72L1030 1025.8L1031 1027.75L1032 1029.61L1033 1031.38L1034 1033.07L1035 1034.7L1036 1036.26L1037 1037.77L1038 1039.22L1039 1040.61L1040 1041.94L1041 1043.22L1042 1044.42L1043 1045.56L1044 1046.63L1045 1047.62L1046 1048.55L1047 1049.4L1048 1050.18L1049 1050.9L1050 1051.56L1051 1052.17L1052 1052.73L1053 1053.26L1054 1053.76L1055 1054.22L1056 1054.64L1057 1055.02L1058 1055.36L1059 1055.66L1060 1055.92L1061 1056.13L1062 1056.32L1063 1056.47L1064 1056.6L1065 1056.7L1066 1056.78L1067 1056.85L1068 1056.9L1069 1056.94L1070 1056.98L1071 1057.02L1072 1057.08L1073 1057.14L1074 1057.22L1075 1057.33L1076 1057.46L1077 1057.62L1078 1057.8L1079 1058.01L1080 1058.23L1081 1058.49L1082 1058.76L1083 1059.05L1084 1059.36L1085 1059.67L1086 1060L1087 1060.33L1088 1060.67L1089 1060.99L1090 1061.32L1091 1061.64L1092 1061.95L1093 1062.25L1094 1062.55L1095 1062.83L1096 1063.11L1097 1063.37L1098 1063.63L1099 1063.87L1100 1064.1L1101 1064.31L1102 1064.51L1103 1064.69L1104 1064.84L1105 1064.99L1106 1065.12L1107 1065.24L1108 1065.36L1109 1065.47L1110 1065.57L1111 1065.67L1112 1065.76L1113 1065.84L1114 1065.9L1115 1065.96L1116 1066.02L1117 1066.07L1118 1066.13L1119 1066.19L1120 1066.25L1121 1066.31L1122 1066.37L1123 1066.43L1124 1066.5L1125 1066.57L1126 1066.65L1127 1066.75L1128 1066.86L1129 1066.99L1130 1067.15L1131 1067.32L1132 1067.5L1133 1067.7L1134 1067.92L1135 1068.16L1136 1068.44L1137 1068.77L1138 1069.14L1139 1069.55L1140 1070L1141 1070.48L1142 1071L1143 1071.57L1144 1072.2L1145 1072.91L1146 1073.73L1147 1074.67L1148 1075.77L1149 1077.01L1150 1078.36L1151 1079.8L1152 1081.3L1153 1082.89L1154 1084.61L1155 1086.5L1156 1088.58L1157 1090.84L1158 1093.25L1159 1095.78L1160 1098.42L1161 1101.17L1162 1104.03L1163 1107L1164 1110.08L1165 1113.25L1166 1116.5L1167 1119.82L1168 1123.19L1169 1126.59L1170 1130L1171 1133.39L1172 1136.77L1173 1140.14L1174 1143.5L1175 1146.84L1176 1150.15L1177 1153.4L1178 1156.57L1179 1159.65L1180 1162.62L1181 1165.5L1182 1168.27L1183 1170.95L1184 1173.52L1185 1176L1186 1178.38L1187 1180.63L1188 1182.73L1189 1184.62L1190 1186.33L1191 1187.88L1192 1189.31L1193 1190.67L1194 1191.95L1195 1193.14L1196 1194.2L1197 1195.12L1198 1195.92L1199 1196.61L1200 1197.2L1201 1197.72L1202 1198.17L1203 1198.56L1204 1198.9L1205 1199.18L1206 1199.42L1207 1199.62L1208 1199.77L1209 1199.9L1210 1200L1211 1200.09L1212 1200.16L1212.6 1200.2L1212.6 1200.4Z" fill="#F5DEB3" stroke="#000" stroke-width="1.1" stroke-linejoin="round"/>
<clipPath id="c4"><rect x="699.76" y="687.81" width="532.43" height="532.43"/></clipPath>
<path d="M928.88 1220.24V687.81M1002.12 1220.24V687.81" stroke="#006400" stroke-width="1.5" stroke-dasharray="6 6" stroke-linecap="round" fill="none" clip-path="url(#c4)"/>
<rect x="699.76" y="687.81" width="532.43" height="532.43" fill="none" stroke="#000" stroke-width="0.75"/>
<path d="M717.25 1220.24H1213.75M717.25 1220.24v5.98M800 1220.24v5.98M882.75 1220.24v5.98M965.5 1220.24v5.98M1048.25 1220.24v5.98M1131 1220.24v5.98M1213.75 1220.24v5.98" fill="none" stroke="#000" stroke-width="0.75"/>
<text transform="translate(717.25 1242.04) scale(.93 1)" class="t" text-anchor="middle">-600</text>
<text transform="translate(800 1242.04) scale(.93 1)" class="t" text-anchor="middle">-400</text>
<text transform="translate(882.75 1242.04) scale(.93 1)" class="t" text-anchor="middle">-200</text>
<text transform="translate(965.5 1242.04) scale(.93 1)" class="t" text-anchor="middle">0</text>
<text transform="translate(1048.25 1242.04) scale(.93 1)" class="t" text-anchor="middle">200</text>
<text transform="translate(1131 1242.04) scale(.93 1)" class="t" text-anchor="middle">400</text>
<text transform="translate(1213.75 1242.04) scale(.93 1)" class="t" text-anchor="middle">600</text>
<path d="M699.76 724.5V1200.4M699.76 1200.4h-5.98M699.76 1105.22h-5.98M699.76 1010.04h-5.98M699.76 914.86h-5.98M699.76 819.68h-5.98M699.76 724.5h-5.98" fill="none" stroke="#000" stroke-width="0.75"/>
<text transform="translate(685.16 1200.4) rotate(-90) scale(.93 1)" class="t" text-anchor="middle">0.0000</text>
<text transform="translate(685.16 1105.22) rotate(-90) scale(.93 1)" class="t" text-anchor="middle">0.0005</text>
<text transform="translate(685.16 1010.04) rotate(-90) scale(.93 1)" class="t" text-anchor="middle">0.0010</text>
<text transform="translate(685.16 914.86) rotate(-90) scale(.93 1)" class="t" text-anchor="middle">0.0015</text>
<text transform="translate(685.16 819.68) rotate(-90) scale(.93 1)" class="t" text-anchor="middle">0.0020</text>
<text transform="translate(685.16 724.5) rotate(-90) scale(.93 1)" class="t" text-anchor="middle">0.0025</text>
<text x="965.98" y="671.81" class="m" text-anchor="middle">Enrichment zone: 88.50</text>
<text x="965.98" y="1265.54" class="l" text-anchor="middle">Distance to peak summit</text>
<text transform="translate(662.16 954.02) rotate(-90)" class="l" text-anchor="middle">Density</text>
<path d="M1017.4 703.5H1041.5" stroke="#006400" stroke-width="1.1" stroke-dasharray="1.1 3.4" stroke-linecap="round" fill="none"/>
<path d="M1017.4 719.1H1041.5" stroke="#d02d30" stroke-width="1.1" stroke-dasharray="1.1 3.4" stroke-linecap="round" fill="none"/>
<circle cx="1028.7" cy="734.6" r="3.1" fill="#0000ff"/>
<text transform="translate(1052.3 707.7) scale(1.043 1)" class="g">enrichment zone = 88.5</text>
<text transform="translate(1052.3 723.4) scale(1.043 1)" class="g">motif score threshold = 87.100</text>
<text transform="translate(1052.3 739) scale(1.043 1)" class="g">centrality p-val = -2.3130</text>
</svg>
</body></html>
